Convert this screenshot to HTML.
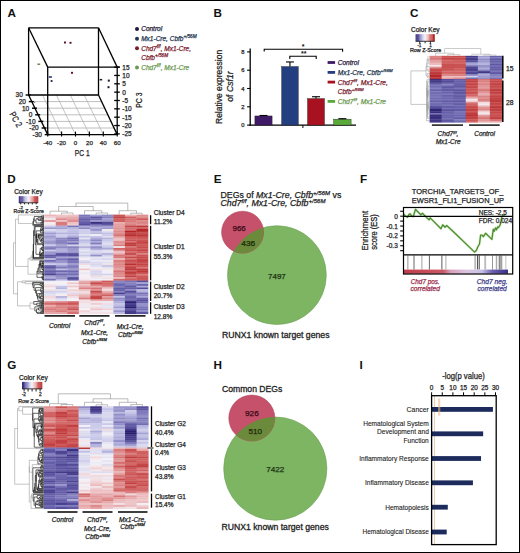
<!DOCTYPE html>
<html><head><meta charset="utf-8"><style>
html,body{margin:0;padding:0;background:#fff;}
svg{display:block;font-family:"Liberation Sans", sans-serif;}
</style></head><body>
<svg width="520" height="553" viewBox="0 0 520 553">
<rect width="520" height="553" fill="#fff"/>
<rect x="0.5" y="0.5" width="519" height="552" fill="none" stroke="#000" stroke-width="1"/>
<text x="7.50" y="17.00" font-size="11.7" text-anchor="start" fill="#111" font-weight="bold" font-style="normal" >A</text>
<text x="213.40" y="17.00" font-size="11.7" text-anchor="start" fill="#111" font-weight="bold" font-style="normal" >B</text>
<text x="409.90" y="17.00" font-size="11.7" text-anchor="start" fill="#111" font-weight="bold" font-style="normal" >C</text>
<text x="7.30" y="182.60" font-size="11.7" text-anchor="start" fill="#111" font-weight="bold" font-style="normal" >D</text>
<text x="213.70" y="182.60" font-size="11.7" text-anchor="start" fill="#111" font-weight="bold" font-style="normal" >E</text>
<text x="359.90" y="182.60" font-size="11.7" text-anchor="start" fill="#111" font-weight="bold" font-style="normal" >F</text>
<text x="7.30" y="369.30" font-size="11.7" text-anchor="start" fill="#111" font-weight="bold" font-style="normal" >G</text>
<text x="213.50" y="369.30" font-size="11.7" text-anchor="start" fill="#111" font-weight="bold" font-style="normal" >H</text>
<text x="359.60" y="369.30" font-size="11.7" text-anchor="start" fill="#111" font-weight="bold" font-style="normal" >I</text>
<line x1="31.78" y1="101.60" x2="101.68" y2="101.60" stroke="#aaa" stroke-width="0.75" />
<line x1="34.97" y1="108.20" x2="104.87" y2="108.20" stroke="#aaa" stroke-width="0.75" />
<line x1="38.15" y1="114.80" x2="108.05" y2="114.80" stroke="#aaa" stroke-width="0.75" />
<line x1="41.33" y1="121.40" x2="111.23" y2="121.40" stroke="#aaa" stroke-width="0.75" />
<line x1="44.52" y1="128.00" x2="114.42" y2="128.00" stroke="#aaa" stroke-width="0.75" />
<line x1="42.50" y1="95.00" x2="61.60" y2="134.60" stroke="#aaa" stroke-width="0.7" />
<line x1="56.40" y1="95.00" x2="75.50" y2="134.60" stroke="#aaa" stroke-width="0.7" />
<line x1="70.30" y1="95.00" x2="89.40" y2="134.60" stroke="#aaa" stroke-width="0.7" />
<line x1="84.20" y1="95.00" x2="103.30" y2="134.60" stroke="#aaa" stroke-width="0.7" />
<line x1="28.60" y1="27.80" x2="98.50" y2="27.80" stroke="#000" stroke-width="1.3" />
<line x1="28.60" y1="27.80" x2="28.60" y2="95.00" stroke="#000" stroke-width="1.3" />
<line x1="98.50" y1="27.80" x2="98.50" y2="95.00" stroke="#000" stroke-width="1.3" />
<line x1="28.60" y1="95.00" x2="98.50" y2="95.00" stroke="#000" stroke-width="1.3" />
<line x1="28.60" y1="27.80" x2="47.70" y2="67.10" stroke="#000" stroke-width="1.3" />
<line x1="98.50" y1="27.80" x2="117.20" y2="67.10" stroke="#000" stroke-width="1.3" />
<line x1="47.70" y1="67.10" x2="119.80" y2="67.10" stroke="#000" stroke-width="1.3" />
<line x1="47.70" y1="67.10" x2="47.70" y2="134.60" stroke="#000" stroke-width="1.3" />
<line x1="117.20" y1="67.10" x2="117.20" y2="134.60" stroke="#000" stroke-width="1.3" />
<line x1="28.60" y1="95.00" x2="47.70" y2="134.60" stroke="#000" stroke-width="1.3" />
<line x1="98.50" y1="95.00" x2="117.20" y2="134.60" stroke="#000" stroke-width="1.3" />
<line x1="47.70" y1="134.60" x2="117.20" y2="134.60" stroke="#000" stroke-width="1.3" />
<line x1="114.20" y1="67.10" x2="119.80" y2="67.10" stroke="#000" stroke-width="1.3" />
<text x="122.30" y="69.50" font-size="6.5" text-anchor="start" fill="#222" font-weight="normal" font-style="normal" stroke="#222" stroke-width="0.25" >15</text>
<line x1="114.20" y1="75.45" x2="119.80" y2="75.45" stroke="#000" stroke-width="1.3" />
<text x="122.30" y="77.85" font-size="6.5" text-anchor="start" fill="#222" font-weight="normal" font-style="normal" stroke="#222" stroke-width="0.25" >10</text>
<line x1="114.20" y1="83.80" x2="119.80" y2="83.80" stroke="#000" stroke-width="1.3" />
<text x="122.30" y="86.20" font-size="6.5" text-anchor="start" fill="#222" font-weight="normal" font-style="normal" stroke="#222" stroke-width="0.25" >5</text>
<line x1="114.20" y1="92.15" x2="119.80" y2="92.15" stroke="#000" stroke-width="1.3" />
<text x="122.30" y="94.55" font-size="6.5" text-anchor="start" fill="#222" font-weight="normal" font-style="normal" stroke="#222" stroke-width="0.25" >0</text>
<line x1="114.20" y1="100.50" x2="119.80" y2="100.50" stroke="#000" stroke-width="1.3" />
<text x="122.30" y="102.90" font-size="6.5" text-anchor="start" fill="#222" font-weight="normal" font-style="normal" stroke="#222" stroke-width="0.25" >-5</text>
<line x1="114.20" y1="108.85" x2="119.80" y2="108.85" stroke="#000" stroke-width="1.3" />
<text x="122.30" y="111.25" font-size="6.5" text-anchor="start" fill="#222" font-weight="normal" font-style="normal" stroke="#222" stroke-width="0.25" >-10</text>
<line x1="114.20" y1="117.20" x2="119.80" y2="117.20" stroke="#000" stroke-width="1.3" />
<text x="122.30" y="119.60" font-size="6.5" text-anchor="start" fill="#222" font-weight="normal" font-style="normal" stroke="#222" stroke-width="0.25" >-15</text>
<line x1="114.20" y1="125.55" x2="119.80" y2="125.55" stroke="#000" stroke-width="1.3" />
<text x="122.30" y="127.95" font-size="6.5" text-anchor="start" fill="#222" font-weight="normal" font-style="normal" stroke="#222" stroke-width="0.25" >-20</text>
<line x1="114.20" y1="133.90" x2="119.80" y2="133.90" stroke="#000" stroke-width="1.3" />
<text x="122.30" y="136.30" font-size="6.5" text-anchor="start" fill="#222" font-weight="normal" font-style="normal" stroke="#222" stroke-width="0.25" >-25</text>
<line x1="25.60" y1="95.00" x2="30.60" y2="95.00" stroke="#000" stroke-width="1.4" />
<text x="22.80" y="97.40" font-size="6.5" text-anchor="end" fill="#222" font-weight="normal" font-style="normal" stroke="#222" stroke-width="0.25" >30</text>
<line x1="28.78" y1="101.60" x2="33.78" y2="101.60" stroke="#000" stroke-width="1.4" />
<text x="25.98" y="104.00" font-size="6.5" text-anchor="end" fill="#222" font-weight="normal" font-style="normal" stroke="#222" stroke-width="0.25" >20</text>
<line x1="31.97" y1="108.20" x2="36.97" y2="108.20" stroke="#000" stroke-width="1.4" />
<text x="29.17" y="110.60" font-size="6.5" text-anchor="end" fill="#222" font-weight="normal" font-style="normal" stroke="#222" stroke-width="0.25" >10</text>
<line x1="35.15" y1="114.80" x2="40.15" y2="114.80" stroke="#000" stroke-width="1.4" />
<text x="32.35" y="117.20" font-size="6.5" text-anchor="end" fill="#222" font-weight="normal" font-style="normal" stroke="#222" stroke-width="0.25" >0</text>
<line x1="38.33" y1="121.40" x2="43.33" y2="121.40" stroke="#000" stroke-width="1.4" />
<text x="35.53" y="123.80" font-size="6.5" text-anchor="end" fill="#222" font-weight="normal" font-style="normal" stroke="#222" stroke-width="0.25" >-10</text>
<line x1="41.52" y1="128.00" x2="46.52" y2="128.00" stroke="#000" stroke-width="1.4" />
<text x="38.72" y="130.40" font-size="6.5" text-anchor="end" fill="#222" font-weight="normal" font-style="normal" stroke="#222" stroke-width="0.25" >-20</text>
<line x1="44.70" y1="134.60" x2="49.70" y2="134.60" stroke="#000" stroke-width="1.4" />
<text x="41.90" y="137.00" font-size="6.5" text-anchor="end" fill="#222" font-weight="normal" font-style="normal" stroke="#222" stroke-width="0.25" >-30</text>
<line x1="47.70" y1="131.60" x2="47.70" y2="136.60" stroke="#000" stroke-width="1.1" />
<text x="47.70" y="145.00" font-size="6.2" text-anchor="middle" fill="#222" font-weight="normal" font-style="normal" stroke="#222" stroke-width="0.25" >-40</text>
<line x1="61.60" y1="131.60" x2="61.60" y2="136.60" stroke="#000" stroke-width="1.1" />
<text x="61.60" y="145.00" font-size="6.2" text-anchor="middle" fill="#222" font-weight="normal" font-style="normal" stroke="#222" stroke-width="0.25" >-20</text>
<line x1="75.50" y1="131.60" x2="75.50" y2="136.60" stroke="#000" stroke-width="1.1" />
<text x="75.50" y="145.00" font-size="6.2" text-anchor="middle" fill="#222" font-weight="normal" font-style="normal" stroke="#222" stroke-width="0.25" >0</text>
<line x1="89.40" y1="131.60" x2="89.40" y2="136.60" stroke="#000" stroke-width="1.1" />
<text x="89.40" y="145.00" font-size="6.2" text-anchor="middle" fill="#222" font-weight="normal" font-style="normal" stroke="#222" stroke-width="0.25" >20</text>
<line x1="103.30" y1="131.60" x2="103.30" y2="136.60" stroke="#000" stroke-width="1.1" />
<text x="103.30" y="145.00" font-size="6.2" text-anchor="middle" fill="#222" font-weight="normal" font-style="normal" stroke="#222" stroke-width="0.25" >40</text>
<line x1="117.20" y1="131.60" x2="117.20" y2="136.60" stroke="#000" stroke-width="1.1" />
<text x="117.20" y="145.00" font-size="6.2" text-anchor="middle" fill="#222" font-weight="normal" font-style="normal" stroke="#222" stroke-width="0.25" >60</text>
<text x="74.80" y="156.30" font-size="8.7" text-anchor="start" fill="#222" font-weight="normal" font-style="normal" textLength="14.80" lengthAdjust="spacingAndGlyphs" stroke="#222" stroke-width="0.25" >PC 1</text>
<text x="0" y="0" transform="translate(13.20,121.00) rotate(60)" font-size="9.0" text-anchor="middle" fill="#222" font-weight="normal" font-style="normal" textLength="16.00" lengthAdjust="spacingAndGlyphs" stroke="#222" stroke-width="0.25" >PC 2</text>
<text x="0" y="0" transform="translate(142.20,100.10) rotate(-90)" font-size="8.7" text-anchor="middle" fill="#222" font-weight="normal" font-style="normal" textLength="15.20" lengthAdjust="spacingAndGlyphs" stroke="#222" stroke-width="0.25" >PC 3</text>
<rect x="64.00" y="41.55" width="2.00" height="1.90" fill="#5a1020" />
<rect x="69.50" y="41.85" width="2.00" height="1.90" fill="#5a1020" />
<rect x="71.00" y="71.85" width="2.00" height="1.90" fill="#6a1020" />
<rect x="37.40" y="63.55" width="2.80" height="1.30" fill="#5a7a30" />
<rect x="48.70" y="76.25" width="3.20" height="1.50" fill="#1a2a5a" />
<rect x="50.70" y="80.10" width="1.80" height="1.80" fill="#1a1a3a" />
<rect x="99.60" y="78.95" width="2.60" height="1.50" fill="#1a1a2a" />
<rect x="107.80" y="79.60" width="2.00" height="2.00" fill="#1a1a2a" />
<rect x="107.50" y="86.20" width="2.00" height="2.00" fill="#1a1a2a" />
<rect x="33.80" y="101.95" width="1.40" height="1.10" fill="#889060" />
<circle cx="137.0" cy="29.0" r="2.0" fill="#1c1a3a"/>
<text x="141.20" y="31.30" font-size="6.5" text-anchor="start" fill="#1c1a3a" font-weight="normal" font-style="italic" stroke="#1c1a3a" stroke-width="0.25" >Control</text>
<circle cx="137.0" cy="38.7" r="2.0" fill="#243650"/>
<text x="141.20" y="41.00" font-size="6.5" text-anchor="start" fill="#243650" font-weight="normal" font-style="italic" stroke="#243650" stroke-width="0.25" >Mx1-Cre, Cbfb<tspan font-size="4.7" dy="-3.0">+/56M</tspan></text>
<circle cx="137.0" cy="48.3" r="2.0" fill="#7a1c30"/>
<text x="141.20" y="50.60" font-size="6.5" text-anchor="start" fill="#7a1c30" font-weight="normal" font-style="italic" stroke="#7a1c30" stroke-width="0.25" >Chd7<tspan font-size="4.7" dy="-3.0">f/f</tspan><tspan dy="3.0">, Mx1-Cre,</tspan></text>
<text x="141.20" y="60.20" font-size="6.5" text-anchor="start" fill="#7a1c30" font-weight="normal" font-style="italic" stroke="#7a1c30" stroke-width="0.25" >Cbfb<tspan font-size="4.7" dy="-3.0">+/56M</tspan></text>
<circle cx="137.0" cy="67.5" r="2.0" fill="#6a9a50"/>
<text x="141.20" y="69.80" font-size="6.5" text-anchor="start" fill="#6a9a50" font-weight="normal" font-style="italic" stroke="#6a9a50" stroke-width="0.25" >Chd7<tspan font-size="4.7" dy="-3.0">f/f</tspan><tspan dy="3.0">, Mx1-Cre</tspan></text>
<line x1="250.20" y1="48.50" x2="250.20" y2="125.70" stroke="#000" stroke-width="1.3" />
<line x1="249.60" y1="125.10" x2="356.00" y2="125.10" stroke="#000" stroke-width="1.3" />
<line x1="247.10" y1="125.10" x2="250.20" y2="125.10" stroke="#000" stroke-width="1.1" />
<text x="244.50" y="127.10" font-size="5.8" text-anchor="end" fill="#222" font-weight="normal" font-style="normal" stroke="#222" stroke-width="0.25" >0</text>
<line x1="247.10" y1="106.80" x2="250.20" y2="106.80" stroke="#000" stroke-width="1.1" />
<text x="244.50" y="108.80" font-size="5.8" text-anchor="end" fill="#222" font-weight="normal" font-style="normal" stroke="#222" stroke-width="0.25" >2</text>
<line x1="247.10" y1="88.50" x2="250.20" y2="88.50" stroke="#000" stroke-width="1.1" />
<text x="244.50" y="90.50" font-size="5.8" text-anchor="end" fill="#222" font-weight="normal" font-style="normal" stroke="#222" stroke-width="0.25" >4</text>
<line x1="247.10" y1="70.20" x2="250.20" y2="70.20" stroke="#000" stroke-width="1.1" />
<text x="244.50" y="72.20" font-size="5.8" text-anchor="end" fill="#222" font-weight="normal" font-style="normal" stroke="#222" stroke-width="0.25" >6</text>
<line x1="247.10" y1="51.90" x2="250.20" y2="51.90" stroke="#000" stroke-width="1.1" />
<text x="244.50" y="53.90" font-size="5.8" text-anchor="end" fill="#222" font-weight="normal" font-style="normal" stroke="#222" stroke-width="0.25" >8</text>
<line x1="302.90" y1="125.10" x2="302.90" y2="128.00" stroke="#000" stroke-width="1" />
<rect x="254.90" y="115.95" width="17.20" height="9.15" fill="#3f1a66" stroke="#222" stroke-width="0.4"/>
<line x1="263.50" y1="115.95" x2="263.50" y2="115.49" stroke="#000" stroke-width="1.1" />
<line x1="259.50" y1="115.49" x2="267.50" y2="115.49" stroke="#000" stroke-width="1.1" />
<rect x="281.60" y="66.54" width="16.70" height="58.56" fill="#233f80" stroke="#222" stroke-width="0.4"/>
<line x1="289.95" y1="66.54" x2="289.95" y2="61.96" stroke="#000" stroke-width="1.1" />
<line x1="285.95" y1="61.96" x2="293.95" y2="61.96" stroke="#000" stroke-width="1.1" />
<rect x="307.50" y="98.56" width="17.00" height="26.53" fill="#a81220" stroke="#222" stroke-width="0.4"/>
<line x1="316.00" y1="98.56" x2="316.00" y2="96.73" stroke="#000" stroke-width="1.1" />
<line x1="312.00" y1="96.73" x2="320.00" y2="96.73" stroke="#000" stroke-width="1.1" />
<rect x="333.60" y="119.15" width="17.50" height="5.95" fill="#5aaa3a" stroke="#222" stroke-width="0.4"/>
<line x1="342.35" y1="119.15" x2="342.35" y2="118.69" stroke="#000" stroke-width="1.1" />
<line x1="338.35" y1="118.69" x2="346.35" y2="118.69" stroke="#000" stroke-width="1.1" />
<polyline points="264.20,51.60 264.20,49.20 342.60,49.20 342.60,51.80" fill="none" stroke="#000" stroke-width="1.1" />
<polyline points="289.80,59.00 289.80,56.30 316.20,56.30 316.20,59.00" fill="none" stroke="#000" stroke-width="1.1" />
<text x="303.00" y="49.00" font-size="7" text-anchor="middle" fill="#111" font-weight="bold" font-style="normal" >*</text>
<text x="303.80" y="56.40" font-size="7" text-anchor="middle" fill="#111" font-weight="bold" font-style="normal" >**</text>
<text x="0" y="0" transform="translate(221.90,86.90) rotate(-90)" font-size="9.3" text-anchor="middle" fill="#222" font-weight="normal" font-style="normal" textLength="74.20" lengthAdjust="spacingAndGlyphs" stroke="#222" stroke-width="0.25" >Relative expression</text>
<text x="0" y="0" transform="translate(233.20,86.50) rotate(-90)" font-size="8.7" text-anchor="middle" fill="#222" font-weight="normal" font-style="normal" stroke="#222" stroke-width="0.25" >of <tspan font-style="italic">Csf1r</tspan></text>
<rect x="327.60" y="61.10" width="7.50" height="2.80" fill="#3f1a66" />
<text x="337.70" y="65.00" font-size="6.6" text-anchor="start" fill="#2a1a40" font-weight="normal" font-style="italic" stroke="#2a1a40" stroke-width="0.25" >Control</text>
<rect x="327.60" y="71.00" width="7.50" height="2.80" fill="#233f80" />
<text x="337.70" y="74.90" font-size="6.6" text-anchor="start" fill="#243650" font-weight="normal" font-style="italic" stroke="#243650" stroke-width="0.25" >Mx1-Cre, Cbfb<tspan font-size="4.3" dy="-2.8">+/56M</tspan></text>
<rect x="327.60" y="80.70" width="7.50" height="2.80" fill="#a81220" />
<text x="337.70" y="84.60" font-size="6.6" text-anchor="start" fill="#7a1c30" font-weight="normal" font-style="italic" stroke="#7a1c30" stroke-width="0.25" >Chd7<tspan font-size="4.3" dy="-2.8">f/f</tspan><tspan dy="2.8">, Mx1-Cre,</tspan></text>
<text x="337.70" y="94.20" font-size="6.6" text-anchor="start" fill="#7a1c30" font-weight="normal" font-style="italic" stroke="#7a1c30" stroke-width="0.25" >Cbfb<tspan font-size="4.3" dy="-2.8">+/56M</tspan></text>
<rect x="327.60" y="100.00" width="7.50" height="2.80" fill="#5aaa3a" />
<text x="337.70" y="103.90" font-size="6.6" text-anchor="start" fill="#6a9a50" font-weight="normal" font-style="italic" stroke="#6a9a50" stroke-width="0.25" >Chd7<tspan font-size="4.3" dy="-2.8">f/f</tspan><tspan dy="2.8">, Mx1-Cre</tspan></text>
<rect x="415.60" y="34.20" width="0.99" height="7.10" fill="#281c6e" />
<rect x="416.39" y="34.20" width="0.99" height="7.10" fill="#362c7c" />
<rect x="417.18" y="34.20" width="0.99" height="7.10" fill="#463d8b" />
<rect x="417.98" y="34.20" width="0.99" height="7.10" fill="#564f9b" />
<rect x="418.77" y="34.20" width="0.99" height="7.10" fill="#6660aa" />
<rect x="419.56" y="34.20" width="0.99" height="7.10" fill="#7d78b9" />
<rect x="420.35" y="34.20" width="0.99" height="7.10" fill="#9491c8" />
<rect x="421.14" y="34.20" width="0.99" height="7.10" fill="#aba9d7" />
<rect x="421.93" y="34.20" width="0.99" height="7.10" fill="#c2c2e6" />
<rect x="422.73" y="34.20" width="0.99" height="7.10" fill="#d1d0ec" />
<rect x="423.52" y="34.20" width="0.99" height="7.10" fill="#dfdef1" />
<rect x="424.31" y="34.20" width="0.99" height="7.10" fill="#edecf5" />
<rect x="425.10" y="34.20" width="0.99" height="7.10" fill="#f3eaef" />
<rect x="425.89" y="34.20" width="0.99" height="7.10" fill="#f1dadd" />
<rect x="426.68" y="34.20" width="0.99" height="7.10" fill="#eec9cc" />
<rect x="427.48" y="34.20" width="0.99" height="7.10" fill="#ebb8ba" />
<rect x="428.27" y="34.20" width="0.99" height="7.10" fill="#e4a0a1" />
<rect x="429.06" y="34.20" width="0.99" height="7.10" fill="#dc8889" />
<rect x="429.85" y="34.20" width="0.99" height="7.10" fill="#d57070" />
<rect x="430.64" y="34.20" width="0.99" height="7.10" fill="#ce5858" />
<rect x="431.43" y="34.20" width="0.99" height="7.10" fill="#c6494a" />
<rect x="432.23" y="34.20" width="0.99" height="7.10" fill="#be3a3b" />
<rect x="433.02" y="34.20" width="0.99" height="7.10" fill="#b72b2d" />
<rect x="433.81" y="34.20" width="0.99" height="7.10" fill="#b01e20" />
<line x1="415.60" y1="41.30" x2="434.60" y2="41.30" stroke="#111" stroke-width="0.8" />
<line x1="419.78" y1="41.30" x2="419.78" y2="43.30" stroke="#111" stroke-width="0.9" />
<line x1="425.10" y1="41.30" x2="425.10" y2="43.30" stroke="#111" stroke-width="0.9" />
<line x1="430.42" y1="41.30" x2="430.42" y2="43.30" stroke="#111" stroke-width="0.9" />
<text x="411.00" y="31.50" font-size="6.3" text-anchor="start" fill="#222" font-weight="normal" font-style="normal" textLength="28.60" lengthAdjust="spacingAndGlyphs" stroke="#222" stroke-width="0.25" >Color Key</text>
<text x="410.00" y="52.20" font-size="5.4" text-anchor="start" fill="#222" font-weight="normal" font-style="normal" textLength="31.30" lengthAdjust="spacingAndGlyphs" stroke="#222" stroke-width="0.25" >Row Z-Score</text>
<text x="419.40" y="46.60" font-size="4.6" text-anchor="middle" fill="#222" font-weight="normal" font-style="normal" stroke="#222" stroke-width="0.25" >-1</text>
<text x="430.50" y="46.60" font-size="4.6" text-anchor="middle" fill="#222" font-weight="normal" font-style="normal" stroke="#222" stroke-width="0.25" >1</text>
<rect x="429.60" y="55.80" width="12.35" height="1.85" fill="#db8384" />
<rect x="441.65" y="55.80" width="12.35" height="1.85" fill="#cc5454" />
<rect x="453.70" y="55.80" width="12.35" height="1.85" fill="#c74b4b" />
<rect x="465.75" y="55.80" width="12.35" height="1.85" fill="#433a88" />
<rect x="477.80" y="55.80" width="12.35" height="1.85" fill="#9c9ace" />
<rect x="489.85" y="55.80" width="12.35" height="1.85" fill="#6862ac" />
<rect x="429.60" y="57.35" width="12.35" height="1.85" fill="#d77575" />
<rect x="441.65" y="57.35" width="12.35" height="1.85" fill="#c34344" />
<rect x="453.70" y="57.35" width="12.35" height="1.85" fill="#c74c4c" />
<rect x="465.75" y="57.35" width="12.35" height="1.85" fill="#4c4491" />
<rect x="477.80" y="57.35" width="12.35" height="1.85" fill="#a9a8d6" />
<rect x="489.85" y="57.35" width="12.35" height="1.85" fill="#7570b4" />
<rect x="429.60" y="58.89" width="12.35" height="1.85" fill="#db8384" />
<rect x="441.65" y="58.89" width="12.35" height="1.85" fill="#cc5455" />
<rect x="453.70" y="58.89" width="12.35" height="1.85" fill="#c94e4e" />
<rect x="465.75" y="58.89" width="12.35" height="1.85" fill="#433a88" />
<rect x="477.80" y="58.89" width="12.35" height="1.85" fill="#8f8cc5" />
<rect x="489.85" y="58.89" width="12.35" height="1.85" fill="#5e58a3" />
<rect x="429.60" y="60.44" width="12.35" height="1.85" fill="#e39ea0" />
<rect x="441.65" y="60.44" width="12.35" height="1.85" fill="#d16363" />
<rect x="453.70" y="60.44" width="12.35" height="1.85" fill="#cf5b5b" />
<rect x="465.75" y="60.44" width="12.35" height="1.85" fill="#554e9a" />
<rect x="477.80" y="60.44" width="12.35" height="1.85" fill="#9c9ace" />
<rect x="489.85" y="60.44" width="12.35" height="1.85" fill="#6862ac" />
<rect x="429.60" y="61.99" width="12.35" height="1.85" fill="#e7acae" />
<rect x="441.65" y="61.99" width="12.35" height="1.85" fill="#d16161" />
<rect x="453.70" y="61.99" width="12.35" height="1.85" fill="#d26565" />
<rect x="465.75" y="61.99" width="12.35" height="1.85" fill="#8f8cc5" />
<rect x="477.80" y="61.99" width="12.35" height="1.85" fill="#a9a8d6" />
<rect x="489.85" y="61.99" width="12.35" height="1.85" fill="#7570b4" />
<rect x="429.60" y="63.53" width="12.35" height="1.85" fill="#ecbabc" />
<rect x="441.65" y="63.53" width="12.35" height="1.85" fill="#ca5151" />
<rect x="453.70" y="63.53" width="12.35" height="1.85" fill="#ca5151" />
<rect x="465.75" y="63.53" width="12.35" height="1.85" fill="#a9a8d6" />
<rect x="477.80" y="63.53" width="12.35" height="1.85" fill="#b6b6df" />
<rect x="489.85" y="63.53" width="12.35" height="1.85" fill="#5e58a3" />
<rect x="429.60" y="65.08" width="12.35" height="1.85" fill="#f3e9ee" />
<rect x="441.65" y="65.08" width="12.35" height="1.85" fill="#c6494a" />
<rect x="453.70" y="65.08" width="12.35" height="1.85" fill="#c74a4b" />
<rect x="465.75" y="65.08" width="12.35" height="1.85" fill="#827dbd" />
<rect x="477.80" y="65.08" width="12.35" height="1.85" fill="#8f8cc5" />
<rect x="489.85" y="65.08" width="12.35" height="1.85" fill="#6f6ab1" />
<rect x="429.60" y="66.63" width="12.35" height="1.85" fill="#df9092" />
<rect x="441.65" y="66.63" width="12.35" height="1.85" fill="#c94e4e" />
<rect x="453.70" y="66.63" width="12.35" height="1.85" fill="#c94f50" />
<rect x="465.75" y="66.63" width="12.35" height="1.85" fill="#4c4491" />
<rect x="477.80" y="66.63" width="12.35" height="1.85" fill="#9c9ace" />
<rect x="489.85" y="66.63" width="12.35" height="1.85" fill="#6660aa" />
<rect x="429.60" y="68.18" width="12.35" height="1.85" fill="#ca5151" />
<rect x="441.65" y="68.18" width="12.35" height="1.85" fill="#c74b4b" />
<rect x="453.70" y="68.18" width="12.35" height="1.85" fill="#cf5a5a" />
<rect x="465.75" y="68.18" width="12.35" height="1.85" fill="#433a88" />
<rect x="477.80" y="68.18" width="12.35" height="1.85" fill="#a9a8d6" />
<rect x="489.85" y="68.18" width="12.35" height="1.85" fill="#5e58a3" />
<rect x="429.60" y="69.72" width="12.35" height="1.85" fill="#c64849" />
<rect x="441.65" y="69.72" width="12.35" height="1.85" fill="#d06060" />
<rect x="453.70" y="69.72" width="12.35" height="1.85" fill="#d26666" />
<rect x="465.75" y="69.72" width="12.35" height="1.85" fill="#4c4491" />
<rect x="477.80" y="69.72" width="12.35" height="1.85" fill="#827dbd" />
<rect x="489.85" y="69.72" width="12.35" height="1.85" fill="#7570b4" />
<rect x="429.60" y="71.27" width="12.35" height="1.85" fill="#c14041" />
<rect x="441.65" y="71.27" width="12.35" height="1.85" fill="#d16161" />
<rect x="453.70" y="71.27" width="12.35" height="1.85" fill="#d16060" />
<rect x="465.75" y="71.27" width="12.35" height="1.85" fill="#554e9a" />
<rect x="477.80" y="71.27" width="12.35" height="1.85" fill="#312676" />
<rect x="489.85" y="71.27" width="12.35" height="1.85" fill="#6862ac" />
<rect x="429.60" y="72.82" width="12.35" height="1.85" fill="#bd3738" />
<rect x="441.65" y="72.82" width="12.35" height="1.85" fill="#d46a6a" />
<rect x="453.70" y="72.82" width="12.35" height="1.85" fill="#d36868" />
<rect x="465.75" y="72.82" width="12.35" height="1.85" fill="#4c4491" />
<rect x="477.80" y="72.82" width="12.35" height="1.85" fill="#8f8cc5" />
<rect x="489.85" y="72.82" width="12.35" height="1.85" fill="#5e58a3" />
<rect x="429.60" y="74.36" width="12.35" height="1.85" fill="#b42628" />
<rect x="441.65" y="74.36" width="12.35" height="1.85" fill="#da8081" />
<rect x="453.70" y="74.36" width="12.35" height="1.85" fill="#d97b7c" />
<rect x="465.75" y="74.36" width="12.35" height="1.85" fill="#8f8cc5" />
<rect x="477.80" y="74.36" width="12.35" height="1.85" fill="#a9a8d6" />
<rect x="489.85" y="74.36" width="12.35" height="1.85" fill="#827dbd" />
<rect x="429.60" y="75.91" width="12.35" height="1.85" fill="#b72b2d" />
<rect x="441.65" y="75.91" width="12.35" height="1.85" fill="#ecbdbf" />
<rect x="453.70" y="75.91" width="12.35" height="1.85" fill="#edc1c4" />
<rect x="465.75" y="75.91" width="12.35" height="1.85" fill="#d4d3ed" />
<rect x="477.80" y="75.91" width="12.35" height="1.85" fill="#9c9ace" />
<rect x="489.85" y="75.91" width="12.35" height="1.85" fill="#8f8cc5" />
<rect x="429.60" y="77.46" width="12.35" height="1.85" fill="#ba3233" />
<rect x="441.65" y="77.46" width="12.35" height="1.85" fill="#e49fa1" />
<rect x="453.70" y="77.46" width="12.35" height="1.85" fill="#dd898a" />
<rect x="465.75" y="77.46" width="12.35" height="1.85" fill="#7570b4" />
<rect x="477.80" y="77.46" width="12.35" height="1.85" fill="#8f8cc5" />
<rect x="489.85" y="77.46" width="12.35" height="1.85" fill="#7570b4" />
<rect x="429.60" y="79.00" width="12.35" height="1.85" fill="#3a307f" />
<rect x="441.65" y="79.00" width="12.35" height="1.85" fill="#554d9a" />
<rect x="453.70" y="79.00" width="12.35" height="1.85" fill="#645ea8" />
<rect x="465.75" y="79.00" width="12.35" height="1.85" fill="#c64849" />
<rect x="477.80" y="79.00" width="12.35" height="1.85" fill="#d77575" />
<rect x="489.85" y="79.00" width="12.35" height="1.85" fill="#ca5151" />
<rect x="429.60" y="80.55" width="12.35" height="1.85" fill="#433a88" />
<rect x="441.65" y="80.55" width="12.35" height="1.85" fill="#554d99" />
<rect x="453.70" y="80.55" width="12.35" height="1.85" fill="#6660aa" />
<rect x="465.75" y="80.55" width="12.35" height="1.85" fill="#c14041" />
<rect x="477.80" y="80.55" width="12.35" height="1.85" fill="#db8384" />
<rect x="489.85" y="80.55" width="12.35" height="1.85" fill="#c64849" />
<rect x="429.60" y="82.10" width="12.35" height="1.85" fill="#4c4491" />
<rect x="441.65" y="82.10" width="12.35" height="1.85" fill="#5b549f" />
<rect x="453.70" y="82.10" width="12.35" height="1.85" fill="#6862ac" />
<rect x="465.75" y="82.10" width="12.35" height="1.85" fill="#ca5151" />
<rect x="477.80" y="82.10" width="12.35" height="1.85" fill="#df9092" />
<rect x="489.85" y="82.10" width="12.35" height="1.85" fill="#c84e4e" />
<rect x="429.60" y="83.65" width="12.35" height="1.85" fill="#7570b4" />
<rect x="441.65" y="83.65" width="12.35" height="1.85" fill="#8b87c3" />
<rect x="453.70" y="83.65" width="12.35" height="1.85" fill="#655fa9" />
<rect x="465.75" y="83.65" width="12.35" height="1.85" fill="#c34344" />
<rect x="477.80" y="83.65" width="12.35" height="1.85" fill="#db8384" />
<rect x="489.85" y="83.65" width="12.35" height="1.85" fill="#c14041" />
<rect x="429.60" y="85.19" width="12.35" height="1.85" fill="#6f6ab1" />
<rect x="441.65" y="85.19" width="12.35" height="1.85" fill="#6b65ae" />
<rect x="453.70" y="85.19" width="12.35" height="1.85" fill="#5a529e" />
<rect x="465.75" y="85.19" width="12.35" height="1.85" fill="#c84e4e" />
<rect x="477.80" y="85.19" width="12.35" height="1.85" fill="#df9092" />
<rect x="489.85" y="85.19" width="12.35" height="1.85" fill="#c64849" />
<rect x="429.60" y="86.74" width="12.35" height="1.85" fill="#7a75b8" />
<rect x="441.65" y="86.74" width="12.35" height="1.85" fill="#5f59a4" />
<rect x="453.70" y="86.74" width="12.35" height="1.85" fill="#6e68af" />
<rect x="465.75" y="86.74" width="12.35" height="1.85" fill="#c64849" />
<rect x="477.80" y="86.74" width="12.35" height="1.85" fill="#e39ea0" />
<rect x="489.85" y="86.74" width="12.35" height="1.85" fill="#ca5151" />
<rect x="429.60" y="88.29" width="12.35" height="1.85" fill="#7570b4" />
<rect x="441.65" y="88.29" width="12.35" height="1.85" fill="#615ba5" />
<rect x="453.70" y="88.29" width="12.35" height="1.85" fill="#6a64ad" />
<rect x="465.75" y="88.29" width="12.35" height="1.85" fill="#ca5151" />
<rect x="477.80" y="88.29" width="12.35" height="1.85" fill="#db8384" />
<rect x="489.85" y="88.29" width="12.35" height="1.85" fill="#c34344" />
<rect x="429.60" y="89.83" width="12.35" height="1.85" fill="#6862ac" />
<rect x="441.65" y="89.83" width="12.35" height="1.85" fill="#635da7" />
<rect x="453.70" y="89.83" width="12.35" height="1.85" fill="#5c55a1" />
<rect x="465.75" y="89.83" width="12.35" height="1.85" fill="#cf5a5a" />
<rect x="477.80" y="89.83" width="12.35" height="1.85" fill="#d77575" />
<rect x="489.85" y="89.83" width="12.35" height="1.85" fill="#bf3c3d" />
<rect x="429.60" y="91.38" width="12.35" height="1.85" fill="#7570b4" />
<rect x="441.65" y="91.38" width="12.35" height="1.85" fill="#6761ab" />
<rect x="453.70" y="91.38" width="12.35" height="1.85" fill="#5e57a3" />
<rect x="465.75" y="91.38" width="12.35" height="1.85" fill="#c84e4e" />
<rect x="477.80" y="91.38" width="12.35" height="1.85" fill="#df9092" />
<rect x="489.85" y="91.38" width="12.35" height="1.85" fill="#c14041" />
<rect x="429.60" y="92.93" width="12.35" height="1.85" fill="#6f6ab1" />
<rect x="441.65" y="92.93" width="12.35" height="1.85" fill="#7873b6" />
<rect x="453.70" y="92.93" width="12.35" height="1.85" fill="#615aa5" />
<rect x="465.75" y="92.93" width="12.35" height="1.85" fill="#cc5455" />
<rect x="477.80" y="92.93" width="12.35" height="1.85" fill="#e7acae" />
<rect x="489.85" y="92.93" width="12.35" height="1.85" fill="#c64849" />
<rect x="429.60" y="94.47" width="12.35" height="1.85" fill="#7570b4" />
<rect x="441.65" y="94.47" width="12.35" height="1.85" fill="#6963ac" />
<rect x="453.70" y="94.47" width="12.35" height="1.85" fill="#6660aa" />
<rect x="465.75" y="94.47" width="12.35" height="1.85" fill="#d36768" />
<rect x="477.80" y="94.47" width="12.35" height="1.85" fill="#e39ea0" />
<rect x="489.85" y="94.47" width="12.35" height="1.85" fill="#ca5151" />
<rect x="429.60" y="96.02" width="12.35" height="1.85" fill="#7a75b8" />
<rect x="441.65" y="96.02" width="12.35" height="1.85" fill="#6c66af" />
<rect x="453.70" y="96.02" width="12.35" height="1.85" fill="#6059a4" />
<rect x="465.75" y="96.02" width="12.35" height="1.85" fill="#db8384" />
<rect x="477.80" y="96.02" width="12.35" height="1.85" fill="#db8384" />
<rect x="489.85" y="96.02" width="12.35" height="1.85" fill="#c34344" />
<rect x="429.60" y="97.57" width="12.35" height="1.85" fill="#6f6ab1" />
<rect x="441.65" y="97.57" width="12.35" height="1.85" fill="#6d67af" />
<rect x="453.70" y="97.57" width="12.35" height="1.85" fill="#655ea9" />
<rect x="465.75" y="97.57" width="12.35" height="1.85" fill="#ecbabc" />
<rect x="477.80" y="97.57" width="12.35" height="1.85" fill="#df9092" />
<rect x="489.85" y="97.57" width="12.35" height="1.85" fill="#c14041" />
<rect x="429.60" y="99.12" width="12.35" height="1.85" fill="#7570b4" />
<rect x="441.65" y="99.12" width="12.35" height="1.85" fill="#706bb1" />
<rect x="453.70" y="99.12" width="12.35" height="1.85" fill="#6d67af" />
<rect x="465.75" y="99.12" width="12.35" height="1.85" fill="#f3e9ee" />
<rect x="477.80" y="99.12" width="12.35" height="1.85" fill="#d77575" />
<rect x="489.85" y="99.12" width="12.35" height="1.85" fill="#bd3738" />
<rect x="429.60" y="100.66" width="12.35" height="1.85" fill="#6862ac" />
<rect x="441.65" y="100.66" width="12.35" height="1.85" fill="#635da7" />
<rect x="453.70" y="100.66" width="12.35" height="1.85" fill="#5f58a3" />
<rect x="465.75" y="100.66" width="12.35" height="1.85" fill="#efcdd0" />
<rect x="477.80" y="100.66" width="12.35" height="1.85" fill="#e39ea0" />
<rect x="489.85" y="100.66" width="12.35" height="1.85" fill="#bf3c3d" />
<rect x="429.60" y="102.21" width="12.35" height="1.85" fill="#7570b4" />
<rect x="441.65" y="102.21" width="12.35" height="1.85" fill="#6a64ad" />
<rect x="453.70" y="102.21" width="12.35" height="1.85" fill="#6b65ae" />
<rect x="465.75" y="102.21" width="12.35" height="1.85" fill="#d77575" />
<rect x="477.80" y="102.21" width="12.35" height="1.85" fill="#f2e0e4" />
<rect x="489.85" y="102.21" width="12.35" height="1.85" fill="#c34344" />
<rect x="429.60" y="103.76" width="12.35" height="1.85" fill="#6f6ab1" />
<rect x="441.65" y="103.76" width="12.35" height="1.85" fill="#7570b4" />
<rect x="453.70" y="103.76" width="12.35" height="1.85" fill="#625ca6" />
<rect x="465.75" y="103.76" width="12.35" height="1.85" fill="#d16262" />
<rect x="477.80" y="103.76" width="12.35" height="1.85" fill="#f3e9ee" />
<rect x="489.85" y="103.76" width="12.35" height="1.85" fill="#c64849" />
<rect x="429.60" y="105.30" width="12.35" height="1.85" fill="#5e58a3" />
<rect x="441.65" y="105.30" width="12.35" height="1.85" fill="#6761ab" />
<rect x="453.70" y="105.30" width="12.35" height="1.85" fill="#6c66ae" />
<rect x="465.75" y="105.30" width="12.35" height="1.85" fill="#ca5151" />
<rect x="477.80" y="105.30" width="12.35" height="1.85" fill="#ecbabc" />
<rect x="489.85" y="105.30" width="12.35" height="1.85" fill="#c14041" />
<rect x="429.60" y="106.85" width="12.35" height="1.85" fill="#554e9a" />
<rect x="441.65" y="106.85" width="12.35" height="1.85" fill="#655ea9" />
<rect x="453.70" y="106.85" width="12.35" height="1.85" fill="#6862ac" />
<rect x="465.75" y="106.85" width="12.35" height="1.85" fill="#c64849" />
<rect x="477.80" y="106.85" width="12.35" height="1.85" fill="#df9092" />
<rect x="489.85" y="106.85" width="12.35" height="1.85" fill="#bd3738" />
<rect x="429.60" y="108.40" width="12.35" height="1.85" fill="#312676" />
<rect x="441.65" y="108.40" width="12.35" height="1.85" fill="#645da8" />
<rect x="453.70" y="108.40" width="12.35" height="1.85" fill="#605aa4" />
<rect x="465.75" y="108.40" width="12.35" height="1.85" fill="#c14041" />
<rect x="477.80" y="108.40" width="12.35" height="1.85" fill="#db8384" />
<rect x="489.85" y="108.40" width="12.35" height="1.85" fill="#bf3c3d" />
<rect x="429.60" y="109.94" width="12.35" height="1.85" fill="#312676" />
<rect x="441.65" y="109.94" width="12.35" height="1.85" fill="#59519d" />
<rect x="453.70" y="109.94" width="12.35" height="1.85" fill="#625ca6" />
<rect x="465.75" y="109.94" width="12.35" height="1.85" fill="#c34344" />
<rect x="477.80" y="109.94" width="12.35" height="1.85" fill="#e7acae" />
<rect x="489.85" y="109.94" width="12.35" height="1.85" fill="#c34344" />
<rect x="429.60" y="111.49" width="12.35" height="1.85" fill="#3a307f" />
<rect x="441.65" y="111.49" width="12.35" height="1.85" fill="#6761ab" />
<rect x="453.70" y="111.49" width="12.35" height="1.85" fill="#7974b7" />
<rect x="465.75" y="111.49" width="12.35" height="1.85" fill="#c84e4e" />
<rect x="477.80" y="111.49" width="12.35" height="1.85" fill="#f2e0e4" />
<rect x="489.85" y="111.49" width="12.35" height="1.85" fill="#c64849" />
<rect x="429.60" y="113.04" width="12.35" height="1.85" fill="#7570b4" />
<rect x="441.65" y="113.04" width="12.35" height="1.85" fill="#6c67af" />
<rect x="453.70" y="113.04" width="12.35" height="1.85" fill="#736db3" />
<rect x="465.75" y="113.04" width="12.35" height="1.85" fill="#bd3738" />
<rect x="477.80" y="113.04" width="12.35" height="1.85" fill="#f3e9ee" />
<rect x="489.85" y="113.04" width="12.35" height="1.85" fill="#ca5151" />
<rect x="429.60" y="114.59" width="12.35" height="1.85" fill="#362b7c" />
<rect x="441.65" y="114.59" width="12.35" height="1.85" fill="#6a64ad" />
<rect x="453.70" y="114.59" width="12.35" height="1.85" fill="#6e68b0" />
<rect x="465.75" y="114.59" width="12.35" height="1.85" fill="#ba3233" />
<rect x="477.80" y="114.59" width="12.35" height="1.85" fill="#e39ea0" />
<rect x="489.85" y="114.59" width="12.35" height="1.85" fill="#c84e4e" />
<rect x="429.60" y="116.13" width="12.35" height="1.85" fill="#312676" />
<rect x="441.65" y="116.13" width="12.35" height="1.85" fill="#645da8" />
<rect x="453.70" y="116.13" width="12.35" height="1.85" fill="#6f6ab0" />
<rect x="465.75" y="116.13" width="12.35" height="1.85" fill="#bf3c3d" />
<rect x="477.80" y="116.13" width="12.35" height="1.85" fill="#db8384" />
<rect x="489.85" y="116.13" width="12.35" height="1.85" fill="#c64849" />
<rect x="429.60" y="117.68" width="12.35" height="1.85" fill="#3a307f" />
<rect x="441.65" y="117.68" width="12.35" height="1.85" fill="#7772b6" />
<rect x="453.70" y="117.68" width="12.35" height="1.85" fill="#635ca7" />
<rect x="465.75" y="117.68" width="12.35" height="1.85" fill="#c34344" />
<rect x="477.80" y="117.68" width="12.35" height="1.85" fill="#d77575" />
<rect x="489.85" y="117.68" width="12.35" height="1.85" fill="#c14041" />
<rect x="429.60" y="119.23" width="12.35" height="1.85" fill="#3d3483" />
<rect x="441.65" y="119.23" width="12.35" height="1.85" fill="#5c55a0" />
<rect x="453.70" y="119.23" width="12.35" height="1.85" fill="#7f7abb" />
<rect x="465.75" y="119.23" width="12.35" height="1.85" fill="#ca5151" />
<rect x="477.80" y="119.23" width="12.35" height="1.85" fill="#df9092" />
<rect x="489.85" y="119.23" width="12.35" height="1.85" fill="#d36768" />
<rect x="429.60" y="120.77" width="12.35" height="1.85" fill="#433a88" />
<rect x="441.65" y="120.77" width="12.35" height="1.85" fill="#645ea8" />
<rect x="453.70" y="120.77" width="12.35" height="1.85" fill="#726cb2" />
<rect x="465.75" y="120.77" width="12.35" height="1.85" fill="#d36768" />
<rect x="477.80" y="120.77" width="12.35" height="1.85" fill="#e7acae" />
<rect x="489.85" y="120.77" width="12.35" height="1.85" fill="#e7acae" />
<line x1="502.80" y1="55.80" x2="502.80" y2="78.50" stroke="#000" stroke-width="1.5" />
<line x1="502.80" y1="80.40" x2="502.80" y2="122.00" stroke="#000" stroke-width="1.5" />
<text x="506.10" y="71.10" font-size="6.8" text-anchor="start" fill="#222" font-weight="normal" font-style="normal" stroke="#222" stroke-width="0.25" >15</text>
<text x="506.10" y="105.10" font-size="6.8" text-anchor="start" fill="#222" font-weight="normal" font-style="normal" stroke="#222" stroke-width="0.25" >28</text>
<line x1="431.90" y1="125.10" x2="463.00" y2="125.10" stroke="#000" stroke-width="1.4" />
<line x1="469.10" y1="125.10" x2="499.70" y2="125.10" stroke="#000" stroke-width="1.4" />
<text x="447.90" y="136.10" font-size="6.6" text-anchor="middle" fill="#222" font-weight="normal" font-style="italic" stroke="#222" stroke-width="0.25" >Chd7<tspan font-size="3.8" dy="-2.6">f/f</tspan><tspan dy="2.6">,</tspan></text>
<text x="448.10" y="143.50" font-size="6.6" text-anchor="middle" fill="#222" font-weight="normal" font-style="italic" textLength="24.80" lengthAdjust="spacingAndGlyphs" stroke="#222" stroke-width="0.25" >Mx1-Cre</text>
<text x="484.60" y="136.10" font-size="6.6" text-anchor="middle" fill="#222" font-weight="normal" font-style="italic" textLength="20.70" lengthAdjust="spacingAndGlyphs" stroke="#222" stroke-width="0.25" >Control</text>
<line x1="447.68" y1="55.80" x2="447.68" y2="54.60" stroke="#999" stroke-width="0.5" />
<line x1="459.73" y1="55.80" x2="459.73" y2="54.60" stroke="#999" stroke-width="0.5" />
<line x1="447.68" y1="54.60" x2="459.73" y2="54.60" stroke="#999" stroke-width="0.5" />
<line x1="435.62" y1="55.80" x2="435.62" y2="53.20" stroke="#999" stroke-width="0.5" />
<line x1="453.70" y1="54.60" x2="453.70" y2="53.20" stroke="#999" stroke-width="0.5" />
<line x1="435.62" y1="53.20" x2="453.70" y2="53.20" stroke="#999" stroke-width="0.5" />
<line x1="483.83" y1="55.80" x2="483.83" y2="55.00" stroke="#999" stroke-width="0.5" />
<line x1="495.88" y1="55.80" x2="495.88" y2="55.00" stroke="#999" stroke-width="0.5" />
<line x1="483.83" y1="55.00" x2="495.88" y2="55.00" stroke="#999" stroke-width="0.5" />
<line x1="471.78" y1="55.80" x2="471.78" y2="54.20" stroke="#999" stroke-width="0.5" />
<line x1="489.85" y1="55.00" x2="489.85" y2="54.20" stroke="#999" stroke-width="0.5" />
<line x1="471.78" y1="54.20" x2="489.85" y2="54.20" stroke="#999" stroke-width="0.5" />
<line x1="444.66" y1="53.20" x2="444.66" y2="48.50" stroke="#999" stroke-width="0.5" />
<line x1="480.81" y1="54.20" x2="480.81" y2="48.50" stroke="#999" stroke-width="0.5" />
<line x1="444.66" y1="48.50" x2="480.81" y2="48.50" stroke="#999" stroke-width="0.5" />
<line x1="428.97" y1="59.67" x2="428.97" y2="61.21" stroke="#aaa" stroke-width="0.45" />
<line x1="428.97" y1="59.67" x2="429.40" y2="59.67" stroke="#aaa" stroke-width="0.45" />
<line x1="428.97" y1="61.21" x2="429.40" y2="61.21" stroke="#aaa" stroke-width="0.45" />
<line x1="428.73" y1="58.12" x2="428.73" y2="60.44" stroke="#aaa" stroke-width="0.45" />
<line x1="428.73" y1="58.12" x2="429.40" y2="58.12" stroke="#aaa" stroke-width="0.45" />
<line x1="428.73" y1="60.44" x2="428.97" y2="60.44" stroke="#aaa" stroke-width="0.45" />
<line x1="428.95" y1="62.76" x2="428.95" y2="64.31" stroke="#aaa" stroke-width="0.45" />
<line x1="428.95" y1="62.76" x2="429.40" y2="62.76" stroke="#aaa" stroke-width="0.45" />
<line x1="428.95" y1="64.31" x2="429.40" y2="64.31" stroke="#aaa" stroke-width="0.45" />
<line x1="428.43" y1="59.28" x2="428.43" y2="63.53" stroke="#aaa" stroke-width="0.45" />
<line x1="428.43" y1="59.28" x2="428.73" y2="59.28" stroke="#aaa" stroke-width="0.45" />
<line x1="428.43" y1="63.53" x2="428.95" y2="63.53" stroke="#aaa" stroke-width="0.45" />
<line x1="427.66" y1="56.57" x2="427.66" y2="61.41" stroke="#aaa" stroke-width="0.45" />
<line x1="427.66" y1="56.57" x2="429.40" y2="56.57" stroke="#aaa" stroke-width="0.45" />
<line x1="427.66" y1="61.41" x2="428.43" y2="61.41" stroke="#aaa" stroke-width="0.45" />
<line x1="429.13" y1="65.86" x2="429.13" y2="67.40" stroke="#aaa" stroke-width="0.45" />
<line x1="429.13" y1="65.86" x2="429.40" y2="65.86" stroke="#aaa" stroke-width="0.45" />
<line x1="429.13" y1="67.40" x2="429.40" y2="67.40" stroke="#aaa" stroke-width="0.45" />
<line x1="427.07" y1="58.99" x2="427.07" y2="66.63" stroke="#999" stroke-width="0.55" />
<line x1="427.07" y1="58.99" x2="427.66" y2="58.99" stroke="#999" stroke-width="0.55" />
<line x1="427.07" y1="66.63" x2="429.13" y2="66.63" stroke="#999" stroke-width="0.55" />
<line x1="428.70" y1="70.50" x2="428.70" y2="72.04" stroke="#aaa" stroke-width="0.45" />
<line x1="428.70" y1="70.50" x2="429.40" y2="70.50" stroke="#aaa" stroke-width="0.45" />
<line x1="428.70" y1="72.04" x2="429.40" y2="72.04" stroke="#aaa" stroke-width="0.45" />
<line x1="427.87" y1="68.95" x2="427.87" y2="71.27" stroke="#aaa" stroke-width="0.45" />
<line x1="427.87" y1="68.95" x2="429.40" y2="68.95" stroke="#aaa" stroke-width="0.45" />
<line x1="427.87" y1="71.27" x2="428.70" y2="71.27" stroke="#aaa" stroke-width="0.45" />
<line x1="426.78" y1="62.81" x2="426.78" y2="70.11" stroke="#999" stroke-width="0.55" />
<line x1="426.78" y1="62.81" x2="427.07" y2="62.81" stroke="#999" stroke-width="0.55" />
<line x1="426.78" y1="70.11" x2="427.87" y2="70.11" stroke="#999" stroke-width="0.55" />
<line x1="428.58" y1="75.14" x2="428.58" y2="76.68" stroke="#aaa" stroke-width="0.45" />
<line x1="428.58" y1="75.14" x2="429.40" y2="75.14" stroke="#aaa" stroke-width="0.45" />
<line x1="428.58" y1="76.68" x2="429.40" y2="76.68" stroke="#aaa" stroke-width="0.45" />
<line x1="427.94" y1="75.91" x2="427.94" y2="78.23" stroke="#aaa" stroke-width="0.45" />
<line x1="427.94" y1="75.91" x2="428.58" y2="75.91" stroke="#aaa" stroke-width="0.45" />
<line x1="427.94" y1="78.23" x2="429.40" y2="78.23" stroke="#aaa" stroke-width="0.45" />
<line x1="427.10" y1="73.59" x2="427.10" y2="77.07" stroke="#999" stroke-width="0.55" />
<line x1="427.10" y1="73.59" x2="429.40" y2="73.59" stroke="#999" stroke-width="0.55" />
<line x1="427.10" y1="77.07" x2="427.94" y2="77.07" stroke="#999" stroke-width="0.55" />
<line x1="426.00" y1="66.46" x2="426.00" y2="75.33" stroke="#999" stroke-width="0.55" />
<line x1="426.00" y1="66.46" x2="426.78" y2="66.46" stroke="#999" stroke-width="0.55" />
<line x1="426.00" y1="75.33" x2="427.10" y2="75.33" stroke="#999" stroke-width="0.55" />
<line x1="429.06" y1="84.42" x2="429.06" y2="85.97" stroke="#aaa" stroke-width="0.45" />
<line x1="429.06" y1="84.42" x2="429.40" y2="84.42" stroke="#aaa" stroke-width="0.45" />
<line x1="429.06" y1="85.97" x2="429.40" y2="85.97" stroke="#aaa" stroke-width="0.45" />
<line x1="428.88" y1="85.19" x2="428.88" y2="87.51" stroke="#aaa" stroke-width="0.45" />
<line x1="428.88" y1="85.19" x2="429.06" y2="85.19" stroke="#aaa" stroke-width="0.45" />
<line x1="428.88" y1="87.51" x2="429.40" y2="87.51" stroke="#aaa" stroke-width="0.45" />
<line x1="429.15" y1="90.61" x2="429.15" y2="92.15" stroke="#aaa" stroke-width="0.45" />
<line x1="429.15" y1="90.61" x2="429.40" y2="90.61" stroke="#aaa" stroke-width="0.45" />
<line x1="429.15" y1="92.15" x2="429.40" y2="92.15" stroke="#aaa" stroke-width="0.45" />
<line x1="429.23" y1="95.25" x2="429.23" y2="96.80" stroke="#aaa" stroke-width="0.45" />
<line x1="429.23" y1="95.25" x2="429.40" y2="95.25" stroke="#aaa" stroke-width="0.45" />
<line x1="429.23" y1="96.80" x2="429.40" y2="96.80" stroke="#aaa" stroke-width="0.45" />
<line x1="429.06" y1="93.70" x2="429.06" y2="96.02" stroke="#aaa" stroke-width="0.45" />
<line x1="429.06" y1="93.70" x2="429.40" y2="93.70" stroke="#aaa" stroke-width="0.45" />
<line x1="429.06" y1="96.02" x2="429.23" y2="96.02" stroke="#aaa" stroke-width="0.45" />
<line x1="428.83" y1="91.38" x2="428.83" y2="94.86" stroke="#aaa" stroke-width="0.45" />
<line x1="428.83" y1="91.38" x2="429.15" y2="91.38" stroke="#aaa" stroke-width="0.45" />
<line x1="428.83" y1="94.86" x2="429.06" y2="94.86" stroke="#aaa" stroke-width="0.45" />
<line x1="428.54" y1="89.06" x2="428.54" y2="93.12" stroke="#aaa" stroke-width="0.45" />
<line x1="428.54" y1="89.06" x2="429.40" y2="89.06" stroke="#aaa" stroke-width="0.45" />
<line x1="428.54" y1="93.12" x2="428.83" y2="93.12" stroke="#aaa" stroke-width="0.45" />
<line x1="428.44" y1="91.09" x2="428.44" y2="98.34" stroke="#aaa" stroke-width="0.45" />
<line x1="428.44" y1="91.09" x2="428.54" y2="91.09" stroke="#aaa" stroke-width="0.45" />
<line x1="428.44" y1="98.34" x2="429.40" y2="98.34" stroke="#aaa" stroke-width="0.45" />
<line x1="428.15" y1="86.35" x2="428.15" y2="94.72" stroke="#aaa" stroke-width="0.45" />
<line x1="428.15" y1="86.35" x2="428.88" y2="86.35" stroke="#aaa" stroke-width="0.45" />
<line x1="428.15" y1="94.72" x2="428.44" y2="94.72" stroke="#aaa" stroke-width="0.45" />
<line x1="429.06" y1="101.44" x2="429.06" y2="102.98" stroke="#aaa" stroke-width="0.45" />
<line x1="429.06" y1="101.44" x2="429.40" y2="101.44" stroke="#aaa" stroke-width="0.45" />
<line x1="429.06" y1="102.98" x2="429.40" y2="102.98" stroke="#aaa" stroke-width="0.45" />
<line x1="429.12" y1="107.62" x2="429.12" y2="109.17" stroke="#aaa" stroke-width="0.45" />
<line x1="429.12" y1="107.62" x2="429.40" y2="107.62" stroke="#aaa" stroke-width="0.45" />
<line x1="429.12" y1="109.17" x2="429.40" y2="109.17" stroke="#aaa" stroke-width="0.45" />
<line x1="428.96" y1="106.08" x2="428.96" y2="108.40" stroke="#aaa" stroke-width="0.45" />
<line x1="428.96" y1="106.08" x2="429.40" y2="106.08" stroke="#aaa" stroke-width="0.45" />
<line x1="428.96" y1="108.40" x2="429.12" y2="108.40" stroke="#aaa" stroke-width="0.45" />
<line x1="428.75" y1="104.53" x2="428.75" y2="107.24" stroke="#aaa" stroke-width="0.45" />
<line x1="428.75" y1="104.53" x2="429.40" y2="104.53" stroke="#aaa" stroke-width="0.45" />
<line x1="428.75" y1="107.24" x2="428.96" y2="107.24" stroke="#aaa" stroke-width="0.45" />
<line x1="428.47" y1="105.88" x2="428.47" y2="110.72" stroke="#aaa" stroke-width="0.45" />
<line x1="428.47" y1="105.88" x2="428.75" y2="105.88" stroke="#aaa" stroke-width="0.45" />
<line x1="428.47" y1="110.72" x2="429.40" y2="110.72" stroke="#aaa" stroke-width="0.45" />
<line x1="428.38" y1="102.21" x2="428.38" y2="108.30" stroke="#aaa" stroke-width="0.45" />
<line x1="428.38" y1="102.21" x2="429.06" y2="102.21" stroke="#aaa" stroke-width="0.45" />
<line x1="428.38" y1="108.30" x2="428.47" y2="108.30" stroke="#aaa" stroke-width="0.45" />
<line x1="428.13" y1="99.89" x2="428.13" y2="105.26" stroke="#aaa" stroke-width="0.45" />
<line x1="428.13" y1="99.89" x2="429.40" y2="99.89" stroke="#aaa" stroke-width="0.45" />
<line x1="428.13" y1="105.26" x2="428.38" y2="105.26" stroke="#aaa" stroke-width="0.45" />
<line x1="429.09" y1="113.81" x2="429.09" y2="115.36" stroke="#aaa" stroke-width="0.45" />
<line x1="429.09" y1="113.81" x2="429.40" y2="113.81" stroke="#aaa" stroke-width="0.45" />
<line x1="429.09" y1="115.36" x2="429.40" y2="115.36" stroke="#aaa" stroke-width="0.45" />
<line x1="428.89" y1="112.27" x2="428.89" y2="114.59" stroke="#aaa" stroke-width="0.45" />
<line x1="428.89" y1="112.27" x2="429.40" y2="112.27" stroke="#aaa" stroke-width="0.45" />
<line x1="428.89" y1="114.59" x2="429.09" y2="114.59" stroke="#aaa" stroke-width="0.45" />
<line x1="427.94" y1="102.57" x2="427.94" y2="113.43" stroke="#aaa" stroke-width="0.45" />
<line x1="427.94" y1="102.57" x2="428.13" y2="102.57" stroke="#aaa" stroke-width="0.45" />
<line x1="427.94" y1="113.43" x2="428.89" y2="113.43" stroke="#aaa" stroke-width="0.45" />
<line x1="427.85" y1="90.53" x2="427.85" y2="108.00" stroke="#aaa" stroke-width="0.45" />
<line x1="427.85" y1="90.53" x2="428.15" y2="90.53" stroke="#aaa" stroke-width="0.45" />
<line x1="427.85" y1="108.00" x2="427.94" y2="108.00" stroke="#aaa" stroke-width="0.45" />
<line x1="427.52" y1="82.87" x2="427.52" y2="99.27" stroke="#999" stroke-width="0.55" />
<line x1="427.52" y1="82.87" x2="429.40" y2="82.87" stroke="#999" stroke-width="0.55" />
<line x1="427.52" y1="99.27" x2="427.85" y2="99.27" stroke="#999" stroke-width="0.55" />
<line x1="427.43" y1="91.07" x2="427.43" y2="116.91" stroke="#999" stroke-width="0.55" />
<line x1="427.43" y1="91.07" x2="427.52" y2="91.07" stroke="#999" stroke-width="0.55" />
<line x1="427.43" y1="116.91" x2="429.40" y2="116.91" stroke="#999" stroke-width="0.55" />
<line x1="427.22" y1="103.99" x2="427.22" y2="118.45" stroke="#999" stroke-width="0.55" />
<line x1="427.22" y1="103.99" x2="427.43" y2="103.99" stroke="#999" stroke-width="0.55" />
<line x1="427.22" y1="118.45" x2="429.40" y2="118.45" stroke="#999" stroke-width="0.55" />
<line x1="426.91" y1="81.33" x2="426.91" y2="111.22" stroke="#999" stroke-width="0.55" />
<line x1="426.91" y1="81.33" x2="429.40" y2="81.33" stroke="#999" stroke-width="0.55" />
<line x1="426.91" y1="111.22" x2="427.22" y2="111.22" stroke="#999" stroke-width="0.55" />
<line x1="426.80" y1="79.78" x2="426.80" y2="96.27" stroke="#999" stroke-width="0.55" />
<line x1="426.80" y1="79.78" x2="429.40" y2="79.78" stroke="#999" stroke-width="0.55" />
<line x1="426.80" y1="96.27" x2="426.91" y2="96.27" stroke="#999" stroke-width="0.55" />
<line x1="429.15" y1="120.00" x2="429.15" y2="121.55" stroke="#aaa" stroke-width="0.45" />
<line x1="429.15" y1="120.00" x2="429.40" y2="120.00" stroke="#aaa" stroke-width="0.45" />
<line x1="429.15" y1="121.55" x2="429.40" y2="121.55" stroke="#aaa" stroke-width="0.45" />
<line x1="426.50" y1="88.03" x2="426.50" y2="120.77" stroke="#999" stroke-width="0.55" />
<line x1="426.50" y1="88.03" x2="426.80" y2="88.03" stroke="#999" stroke-width="0.55" />
<line x1="426.50" y1="120.77" x2="429.15" y2="120.77" stroke="#999" stroke-width="0.55" />
<line x1="410.90" y1="70.90" x2="410.90" y2="104.40" stroke="#999" stroke-width="0.55" />
<line x1="410.90" y1="70.90" x2="426.00" y2="70.90" stroke="#999" stroke-width="0.55" />
<line x1="410.90" y1="104.40" x2="426.50" y2="104.40" stroke="#999" stroke-width="0.55" />
<rect x="18.80" y="196.20" width="1.00" height="6.60" fill="#281c6e" />
<rect x="19.60" y="196.20" width="1.00" height="6.60" fill="#362c7c" />
<rect x="20.41" y="196.20" width="1.00" height="6.60" fill="#463d8b" />
<rect x="21.21" y="196.20" width="1.00" height="6.60" fill="#564f9b" />
<rect x="22.02" y="196.20" width="1.00" height="6.60" fill="#6660aa" />
<rect x="22.82" y="196.20" width="1.00" height="6.60" fill="#7d78b9" />
<rect x="23.62" y="196.20" width="1.00" height="6.60" fill="#9491c8" />
<rect x="24.43" y="196.20" width="1.00" height="6.60" fill="#aba9d7" />
<rect x="25.23" y="196.20" width="1.00" height="6.60" fill="#c2c2e6" />
<rect x="26.04" y="196.20" width="1.00" height="6.60" fill="#d1d0ec" />
<rect x="26.84" y="196.20" width="1.00" height="6.60" fill="#dfdef1" />
<rect x="27.65" y="196.20" width="1.00" height="6.60" fill="#edecf5" />
<rect x="28.45" y="196.20" width="1.00" height="6.60" fill="#f3eaef" />
<rect x="29.25" y="196.20" width="1.00" height="6.60" fill="#f1dadd" />
<rect x="30.06" y="196.20" width="1.00" height="6.60" fill="#eec9cc" />
<rect x="30.86" y="196.20" width="1.00" height="6.60" fill="#ebb8ba" />
<rect x="31.67" y="196.20" width="1.00" height="6.60" fill="#e4a0a1" />
<rect x="32.47" y="196.20" width="1.00" height="6.60" fill="#dc8889" />
<rect x="33.28" y="196.20" width="1.00" height="6.60" fill="#d57070" />
<rect x="34.08" y="196.20" width="1.00" height="6.60" fill="#ce5858" />
<rect x="34.88" y="196.20" width="1.00" height="6.60" fill="#c6494a" />
<rect x="35.69" y="196.20" width="1.00" height="6.60" fill="#be3a3b" />
<rect x="36.49" y="196.20" width="1.00" height="6.60" fill="#b72b2d" />
<rect x="37.30" y="196.20" width="1.00" height="6.60" fill="#b01e20" />
<line x1="18.80" y1="202.80" x2="38.10" y2="202.80" stroke="#111" stroke-width="0.8" />
<line x1="20.73" y1="202.80" x2="20.73" y2="204.40" stroke="#111" stroke-width="0.9" />
<line x1="24.59" y1="202.80" x2="24.59" y2="204.40" stroke="#111" stroke-width="0.9" />
<line x1="28.45" y1="202.80" x2="28.45" y2="204.40" stroke="#111" stroke-width="0.9" />
<line x1="32.31" y1="202.80" x2="32.31" y2="204.40" stroke="#111" stroke-width="0.9" />
<line x1="36.17" y1="202.80" x2="36.17" y2="204.40" stroke="#111" stroke-width="0.9" />
<text x="14.20" y="193.70" font-size="6.6" text-anchor="start" fill="#222" font-weight="normal" font-style="normal" textLength="28.50" lengthAdjust="spacingAndGlyphs" stroke="#222" stroke-width="0.25" >Color Key</text>
<text x="13.50" y="213.20" font-size="5.4" text-anchor="start" fill="#222" font-weight="normal" font-style="normal" textLength="30.30" lengthAdjust="spacingAndGlyphs" stroke="#222" stroke-width="0.25" >Row Z-Score</text>
<text x="21.00" y="208.90" font-size="4.4" text-anchor="middle" fill="#222" font-weight="normal" font-style="normal" stroke="#222" stroke-width="0.25" >-2</text>
<text x="37.00" y="208.90" font-size="4.4" text-anchor="middle" fill="#222" font-weight="normal" font-style="normal" stroke="#222" stroke-width="0.25" >2</text>
<rect x="44.20" y="214.60" width="11.83" height="2.13" fill="#eab4b6" />
<rect x="55.73" y="214.60" width="11.83" height="2.13" fill="#edc3c5" />
<rect x="67.26" y="214.60" width="11.83" height="2.13" fill="#edc1c4" />
<rect x="78.79" y="214.60" width="11.83" height="2.13" fill="#7c77b9" />
<rect x="90.32" y="214.60" width="11.83" height="2.13" fill="#a19fd1" />
<rect x="101.85" y="214.60" width="11.83" height="2.13" fill="#8d8ac4" />
<rect x="113.38" y="214.60" width="11.83" height="2.13" fill="#cc5555" />
<rect x="124.91" y="214.60" width="11.83" height="2.13" fill="#e9b3b5" />
<rect x="136.44" y="214.60" width="11.83" height="2.13" fill="#de8e8f" />
<rect x="44.20" y="216.43" width="11.83" height="2.13" fill="#efd0d4" />
<rect x="55.73" y="216.43" width="11.83" height="2.13" fill="#eab5b6" />
<rect x="67.26" y="216.43" width="11.83" height="2.13" fill="#e7abac" />
<rect x="78.79" y="216.43" width="11.83" height="2.13" fill="#7a75b8" />
<rect x="90.32" y="216.43" width="11.83" height="2.13" fill="#5d56a1" />
<rect x="101.85" y="216.43" width="11.83" height="2.13" fill="#8581bf" />
<rect x="113.38" y="216.43" width="11.83" height="2.13" fill="#c34344" />
<rect x="124.91" y="216.43" width="11.83" height="2.13" fill="#d16161" />
<rect x="136.44" y="216.43" width="11.83" height="2.13" fill="#dd8a8b" />
<rect x="44.20" y="218.27" width="11.83" height="2.13" fill="#f3e7eb" />
<rect x="55.73" y="218.27" width="11.83" height="2.13" fill="#de8d8e" />
<rect x="67.26" y="218.27" width="11.83" height="2.13" fill="#e39e9f" />
<rect x="78.79" y="218.27" width="11.83" height="2.13" fill="#655faa" />
<rect x="90.32" y="218.27" width="11.83" height="2.13" fill="#6f6ab1" />
<rect x="101.85" y="218.27" width="11.83" height="2.13" fill="#a19fd1" />
<rect x="113.38" y="218.27" width="11.83" height="2.13" fill="#d06060" />
<rect x="124.91" y="218.27" width="11.83" height="2.13" fill="#d77475" />
<rect x="136.44" y="218.27" width="11.83" height="2.13" fill="#ce5858" />
<rect x="44.20" y="220.10" width="11.83" height="2.13" fill="#e19799" />
<rect x="55.73" y="220.10" width="11.83" height="2.13" fill="#edc0c3" />
<rect x="67.26" y="220.10" width="11.83" height="2.13" fill="#dd8a8b" />
<rect x="78.79" y="220.10" width="11.83" height="2.13" fill="#6e68b0" />
<rect x="90.32" y="220.10" width="11.83" height="2.13" fill="#9b98cd" />
<rect x="101.85" y="220.10" width="11.83" height="2.13" fill="#9592c9" />
<rect x="113.38" y="220.10" width="11.83" height="2.13" fill="#ce5858" />
<rect x="124.91" y="220.10" width="11.83" height="2.13" fill="#d87879" />
<rect x="136.44" y="220.10" width="11.83" height="2.13" fill="#de8c8d" />
<rect x="44.20" y="221.93" width="11.83" height="2.13" fill="#f4edf2" />
<rect x="55.73" y="221.93" width="11.83" height="2.13" fill="#d87878" />
<rect x="67.26" y="221.93" width="11.83" height="2.13" fill="#edc1c3" />
<rect x="78.79" y="221.93" width="11.83" height="2.13" fill="#655fa9" />
<rect x="90.32" y="221.93" width="11.83" height="2.13" fill="#3b3180" />
<rect x="101.85" y="221.93" width="11.83" height="2.13" fill="#504895" />
<rect x="113.38" y="221.93" width="11.83" height="2.13" fill="#e9b1b2" />
<rect x="124.91" y="221.93" width="11.83" height="2.13" fill="#de8e8f" />
<rect x="136.44" y="221.93" width="11.83" height="2.13" fill="#da8182" />
<rect x="44.20" y="223.77" width="11.83" height="2.13" fill="#f3e8ed" />
<rect x="55.73" y="223.77" width="11.83" height="2.13" fill="#d97b7c" />
<rect x="67.26" y="223.77" width="11.83" height="2.13" fill="#eecbce" />
<rect x="78.79" y="223.77" width="11.83" height="2.13" fill="#554d9a" />
<rect x="90.32" y="223.77" width="11.83" height="2.13" fill="#716cb2" />
<rect x="101.85" y="223.77" width="11.83" height="2.13" fill="#5d56a1" />
<rect x="113.38" y="223.77" width="11.83" height="2.13" fill="#e4a0a1" />
<rect x="124.91" y="223.77" width="11.83" height="2.13" fill="#db8485" />
<rect x="136.44" y="223.77" width="11.83" height="2.13" fill="#e1989a" />
<rect x="44.20" y="225.60" width="11.83" height="2.02" fill="#cac9ea" />
<rect x="55.73" y="225.60" width="11.83" height="2.02" fill="#aeadd9" />
<rect x="67.26" y="225.60" width="11.83" height="2.02" fill="#7b76b8" />
<rect x="78.79" y="225.60" width="11.83" height="2.02" fill="#adabd9" />
<rect x="90.32" y="225.60" width="11.83" height="2.02" fill="#9895cb" />
<rect x="101.85" y="225.60" width="11.83" height="2.02" fill="#a2a0d2" />
<rect x="113.38" y="225.60" width="11.83" height="2.02" fill="#e39ea0" />
<rect x="124.91" y="225.60" width="11.83" height="2.02" fill="#c54848" />
<rect x="136.44" y="225.60" width="11.83" height="2.02" fill="#bd3839" />
<rect x="44.20" y="227.32" width="11.83" height="2.02" fill="#9c99ce" />
<rect x="55.73" y="227.32" width="11.83" height="2.02" fill="#a3a0d2" />
<rect x="67.26" y="227.32" width="11.83" height="2.02" fill="#b7b6df" />
<rect x="78.79" y="227.32" width="11.83" height="2.02" fill="#8b87c3" />
<rect x="90.32" y="227.32" width="11.83" height="2.02" fill="#acaad8" />
<rect x="101.85" y="227.32" width="11.83" height="2.02" fill="#9a97cc" />
<rect x="113.38" y="227.32" width="11.83" height="2.02" fill="#e09395" />
<rect x="124.91" y="227.32" width="11.83" height="2.02" fill="#d3696a" />
<rect x="136.44" y="227.32" width="11.83" height="2.02" fill="#d05e5f" />
<rect x="44.20" y="229.04" width="11.83" height="2.02" fill="#dfdef1" />
<rect x="55.73" y="229.04" width="11.83" height="2.02" fill="#ceceeb" />
<rect x="67.26" y="229.04" width="11.83" height="2.02" fill="#c4c4e8" />
<rect x="78.79" y="229.04" width="11.83" height="2.02" fill="#d0cfec" />
<rect x="90.32" y="229.04" width="11.83" height="2.02" fill="#918ec7" />
<rect x="101.85" y="229.04" width="11.83" height="2.02" fill="#f3ebf0" />
<rect x="113.38" y="229.04" width="11.83" height="2.02" fill="#e4a1a3" />
<rect x="124.91" y="229.04" width="11.83" height="2.02" fill="#d57071" />
<rect x="136.44" y="229.04" width="11.83" height="2.02" fill="#b32426" />
<rect x="44.20" y="230.76" width="11.83" height="2.02" fill="#c8c8e9" />
<rect x="55.73" y="230.76" width="11.83" height="2.02" fill="#d4d3ed" />
<rect x="67.26" y="230.76" width="11.83" height="2.02" fill="#bebee4" />
<rect x="78.79" y="230.76" width="11.83" height="2.02" fill="#ceceeb" />
<rect x="90.32" y="230.76" width="11.83" height="2.02" fill="#c0c0e5" />
<rect x="101.85" y="230.76" width="11.83" height="2.02" fill="#deddf0" />
<rect x="113.38" y="230.76" width="11.83" height="2.02" fill="#dd8b8c" />
<rect x="124.91" y="230.76" width="11.83" height="2.02" fill="#b42527" />
<rect x="136.44" y="230.76" width="11.83" height="2.02" fill="#bd3839" />
<rect x="44.20" y="232.48" width="11.83" height="2.02" fill="#9d9bcf" />
<rect x="55.73" y="232.48" width="11.83" height="2.02" fill="#b4b3dd" />
<rect x="67.26" y="232.48" width="11.83" height="2.02" fill="#b4b3dd" />
<rect x="78.79" y="232.48" width="11.83" height="2.02" fill="#cbcbea" />
<rect x="90.32" y="232.48" width="11.83" height="2.02" fill="#b7b6df" />
<rect x="101.85" y="232.48" width="11.83" height="2.02" fill="#c2c2e7" />
<rect x="113.38" y="232.48" width="11.83" height="2.02" fill="#de8d8e" />
<rect x="124.91" y="232.48" width="11.83" height="2.02" fill="#c24142" />
<rect x="136.44" y="232.48" width="11.83" height="2.02" fill="#c74c4c" />
<rect x="44.20" y="234.19" width="11.83" height="2.02" fill="#b3b2dd" />
<rect x="55.73" y="234.19" width="11.83" height="2.02" fill="#cecdeb" />
<rect x="67.26" y="234.19" width="11.83" height="2.02" fill="#c2c1e6" />
<rect x="78.79" y="234.19" width="11.83" height="2.02" fill="#e5e4f2" />
<rect x="90.32" y="234.19" width="11.83" height="2.02" fill="#f2f0f7" />
<rect x="101.85" y="234.19" width="11.83" height="2.02" fill="#cccbea" />
<rect x="113.38" y="234.19" width="11.83" height="2.02" fill="#d67374" />
<rect x="124.91" y="234.19" width="11.83" height="2.02" fill="#b62a2b" />
<rect x="136.44" y="234.19" width="11.83" height="2.02" fill="#bc3738" />
<rect x="44.20" y="235.91" width="11.83" height="2.02" fill="#9c99ce" />
<rect x="55.73" y="235.91" width="11.83" height="2.02" fill="#cdcdeb" />
<rect x="67.26" y="235.91" width="11.83" height="2.02" fill="#abaad8" />
<rect x="78.79" y="235.91" width="11.83" height="2.02" fill="#c4c4e8" />
<rect x="90.32" y="235.91" width="11.83" height="2.02" fill="#c5c5e8" />
<rect x="101.85" y="235.91" width="11.83" height="2.02" fill="#e0def1" />
<rect x="113.38" y="235.91" width="11.83" height="2.02" fill="#e29a9b" />
<rect x="124.91" y="235.91" width="11.83" height="2.02" fill="#cb5353" />
<rect x="136.44" y="235.91" width="11.83" height="2.02" fill="#c84c4d" />
<rect x="44.20" y="237.63" width="11.83" height="2.02" fill="#acaad8" />
<rect x="55.73" y="237.63" width="11.83" height="2.02" fill="#8c88c3" />
<rect x="67.26" y="237.63" width="11.83" height="2.02" fill="#746fb4" />
<rect x="78.79" y="237.63" width="11.83" height="2.02" fill="#e4e3f2" />
<rect x="90.32" y="237.63" width="11.83" height="2.02" fill="#aeadda" />
<rect x="101.85" y="237.63" width="11.83" height="2.02" fill="#b5b4de" />
<rect x="113.38" y="237.63" width="11.83" height="2.02" fill="#ecc0c2" />
<rect x="124.91" y="237.63" width="11.83" height="2.02" fill="#d05e5e" />
<rect x="136.44" y="237.63" width="11.83" height="2.02" fill="#cf5c5c" />
<rect x="44.20" y="239.35" width="11.83" height="2.02" fill="#aba9d8" />
<rect x="55.73" y="239.35" width="11.83" height="2.02" fill="#8884c1" />
<rect x="67.26" y="239.35" width="11.83" height="2.02" fill="#7e7aba" />
<rect x="78.79" y="239.35" width="11.83" height="2.02" fill="#babae2" />
<rect x="90.32" y="239.35" width="11.83" height="2.02" fill="#8d89c4" />
<rect x="101.85" y="239.35" width="11.83" height="2.02" fill="#c9c9e9" />
<rect x="113.38" y="239.35" width="11.83" height="2.02" fill="#ecbbbd" />
<rect x="124.91" y="239.35" width="11.83" height="2.02" fill="#cc5454" />
<rect x="136.44" y="239.35" width="11.83" height="2.02" fill="#cb5353" />
<rect x="44.20" y="241.07" width="11.83" height="2.02" fill="#9996cc" />
<rect x="55.73" y="241.07" width="11.83" height="2.02" fill="#8480be" />
<rect x="67.26" y="241.07" width="11.83" height="2.02" fill="#9f9ccf" />
<rect x="78.79" y="241.07" width="11.83" height="2.02" fill="#c2c2e6" />
<rect x="90.32" y="241.07" width="11.83" height="2.02" fill="#acaad8" />
<rect x="101.85" y="241.07" width="11.83" height="2.02" fill="#d3d3ed" />
<rect x="113.38" y="241.07" width="11.83" height="2.02" fill="#df8f90" />
<rect x="124.91" y="241.07" width="11.83" height="2.02" fill="#d57071" />
<rect x="136.44" y="241.07" width="11.83" height="2.02" fill="#c44546" />
<rect x="44.20" y="242.79" width="11.83" height="2.02" fill="#9f9cd0" />
<rect x="55.73" y="242.79" width="11.83" height="2.02" fill="#8b88c3" />
<rect x="67.26" y="242.79" width="11.83" height="2.02" fill="#6d68af" />
<rect x="78.79" y="242.79" width="11.83" height="2.02" fill="#d4d3ed" />
<rect x="90.32" y="242.79" width="11.83" height="2.02" fill="#817cbc" />
<rect x="101.85" y="242.79" width="11.83" height="2.02" fill="#e2e0f1" />
<rect x="113.38" y="242.79" width="11.83" height="2.02" fill="#e39d9e" />
<rect x="124.91" y="242.79" width="11.83" height="2.02" fill="#be3a3b" />
<rect x="136.44" y="242.79" width="11.83" height="2.02" fill="#c84d4d" />
<rect x="44.20" y="244.51" width="11.83" height="2.02" fill="#cfcfeb" />
<rect x="55.73" y="244.51" width="11.83" height="2.02" fill="#a8a6d5" />
<rect x="67.26" y="244.51" width="11.83" height="2.02" fill="#d1d1ec" />
<rect x="78.79" y="244.51" width="11.83" height="2.02" fill="#dbdaef" />
<rect x="90.32" y="244.51" width="11.83" height="2.02" fill="#c9c8e9" />
<rect x="101.85" y="244.51" width="11.83" height="2.02" fill="#d2d1ec" />
<rect x="113.38" y="244.51" width="11.83" height="2.02" fill="#d97c7c" />
<rect x="124.91" y="244.51" width="11.83" height="2.02" fill="#c03d3e" />
<rect x="136.44" y="244.51" width="11.83" height="2.02" fill="#cc5454" />
<rect x="44.20" y="246.23" width="11.83" height="2.02" fill="#8985c1" />
<rect x="55.73" y="246.23" width="11.83" height="2.02" fill="#8d89c4" />
<rect x="67.26" y="246.23" width="11.83" height="2.02" fill="#8682bf" />
<rect x="78.79" y="246.23" width="11.83" height="2.02" fill="#b1afdb" />
<rect x="90.32" y="246.23" width="11.83" height="2.02" fill="#918ec7" />
<rect x="101.85" y="246.23" width="11.83" height="2.02" fill="#c3c3e7" />
<rect x="113.38" y="246.23" width="11.83" height="2.02" fill="#f2e5e9" />
<rect x="124.91" y="246.23" width="11.83" height="2.02" fill="#d67474" />
<rect x="136.44" y="246.23" width="11.83" height="2.02" fill="#c74b4b" />
<rect x="44.20" y="247.94" width="11.83" height="2.02" fill="#817dbc" />
<rect x="55.73" y="247.94" width="11.83" height="2.02" fill="#abaad8" />
<rect x="67.26" y="247.94" width="11.83" height="2.02" fill="#9a97cc" />
<rect x="78.79" y="247.94" width="11.83" height="2.02" fill="#d8d7ee" />
<rect x="90.32" y="247.94" width="11.83" height="2.02" fill="#a4a2d3" />
<rect x="101.85" y="247.94" width="11.83" height="2.02" fill="#aaa8d7" />
<rect x="113.38" y="247.94" width="11.83" height="2.02" fill="#d16262" />
<rect x="124.91" y="247.94" width="11.83" height="2.02" fill="#cf5c5c" />
<rect x="136.44" y="247.94" width="11.83" height="2.02" fill="#d16363" />
<rect x="44.20" y="249.66" width="11.83" height="2.02" fill="#cbcaea" />
<rect x="55.73" y="249.66" width="11.83" height="2.02" fill="#b4b3dd" />
<rect x="67.26" y="249.66" width="11.83" height="2.02" fill="#9d9ace" />
<rect x="78.79" y="249.66" width="11.83" height="2.02" fill="#e9e8f4" />
<rect x="90.32" y="249.66" width="11.83" height="2.02" fill="#d4d3ed" />
<rect x="101.85" y="249.66" width="11.83" height="2.02" fill="#e1e0f1" />
<rect x="113.38" y="249.66" width="11.83" height="2.02" fill="#df9092" />
<rect x="124.91" y="249.66" width="11.83" height="2.02" fill="#c94e4f" />
<rect x="136.44" y="249.66" width="11.83" height="2.02" fill="#c34243" />
<rect x="44.20" y="251.38" width="11.83" height="2.02" fill="#9996cb" />
<rect x="55.73" y="251.38" width="11.83" height="2.02" fill="#a19fd1" />
<rect x="67.26" y="251.38" width="11.83" height="2.02" fill="#9693ca" />
<rect x="78.79" y="251.38" width="11.83" height="2.02" fill="#d4d4ed" />
<rect x="90.32" y="251.38" width="11.83" height="2.02" fill="#d8d7ee" />
<rect x="101.85" y="251.38" width="11.83" height="2.02" fill="#dfddf0" />
<rect x="113.38" y="251.38" width="11.83" height="2.02" fill="#eec6c9" />
<rect x="124.91" y="251.38" width="11.83" height="2.02" fill="#d46a6b" />
<rect x="136.44" y="251.38" width="11.83" height="2.02" fill="#ce5858" />
<rect x="44.20" y="253.10" width="11.83" height="2.02" fill="#9a97cc" />
<rect x="55.73" y="253.10" width="11.83" height="2.02" fill="#58519d" />
<rect x="67.26" y="253.10" width="11.83" height="2.02" fill="#5a529e" />
<rect x="78.79" y="253.10" width="11.83" height="2.02" fill="#e2e1f1" />
<rect x="90.32" y="253.10" width="11.83" height="2.02" fill="#c7c7e9" />
<rect x="101.85" y="253.10" width="11.83" height="2.02" fill="#b1b0dc" />
<rect x="113.38" y="253.10" width="11.83" height="2.02" fill="#e6a7a9" />
<rect x="124.91" y="253.10" width="11.83" height="2.02" fill="#c44445" />
<rect x="136.44" y="253.10" width="11.83" height="2.02" fill="#da8081" />
<rect x="44.20" y="254.82" width="11.83" height="2.02" fill="#605aa5" />
<rect x="55.73" y="254.82" width="11.83" height="2.02" fill="#605aa5" />
<rect x="67.26" y="254.82" width="11.83" height="2.02" fill="#574f9b" />
<rect x="78.79" y="254.82" width="11.83" height="2.02" fill="#c8c8e9" />
<rect x="90.32" y="254.82" width="11.83" height="2.02" fill="#928fc7" />
<rect x="101.85" y="254.82" width="11.83" height="2.02" fill="#d1d1ec" />
<rect x="113.38" y="254.82" width="11.83" height="2.02" fill="#d67273" />
<rect x="124.91" y="254.82" width="11.83" height="2.02" fill="#da7f80" />
<rect x="136.44" y="254.82" width="11.83" height="2.02" fill="#cb5353" />
<rect x="44.20" y="256.54" width="11.83" height="2.02" fill="#6963ac" />
<rect x="55.73" y="256.54" width="11.83" height="2.02" fill="#a2a0d2" />
<rect x="67.26" y="256.54" width="11.83" height="2.02" fill="#a5a3d4" />
<rect x="78.79" y="256.54" width="11.83" height="2.02" fill="#e7e6f3" />
<rect x="90.32" y="256.54" width="11.83" height="2.02" fill="#e7e5f3" />
<rect x="101.85" y="256.54" width="11.83" height="2.02" fill="#e5e4f3" />
<rect x="113.38" y="256.54" width="11.83" height="2.02" fill="#d87879" />
<rect x="124.91" y="256.54" width="11.83" height="2.02" fill="#c64a4a" />
<rect x="136.44" y="256.54" width="11.83" height="2.02" fill="#c64949" />
<rect x="44.20" y="258.26" width="11.83" height="2.02" fill="#babae1" />
<rect x="55.73" y="258.26" width="11.83" height="2.02" fill="#7873b6" />
<rect x="67.26" y="258.26" width="11.83" height="2.02" fill="#635da7" />
<rect x="78.79" y="258.26" width="11.83" height="2.02" fill="#f4eff4" />
<rect x="90.32" y="258.26" width="11.83" height="2.02" fill="#dfdef1" />
<rect x="101.85" y="258.26" width="11.83" height="2.02" fill="#d5d4ed" />
<rect x="113.38" y="258.26" width="11.83" height="2.02" fill="#ebb9bb" />
<rect x="124.91" y="258.26" width="11.83" height="2.02" fill="#d56f6f" />
<rect x="136.44" y="258.26" width="11.83" height="2.02" fill="#c64949" />
<rect x="44.20" y="259.98" width="11.83" height="2.02" fill="#716cb2" />
<rect x="55.73" y="259.98" width="11.83" height="2.02" fill="#9592c9" />
<rect x="67.26" y="259.98" width="11.83" height="2.02" fill="#7d78ba" />
<rect x="78.79" y="259.98" width="11.83" height="2.02" fill="#deddf0" />
<rect x="90.32" y="259.98" width="11.83" height="2.02" fill="#edebf5" />
<rect x="101.85" y="259.98" width="11.83" height="2.02" fill="#edebf5" />
<rect x="113.38" y="259.98" width="11.83" height="2.02" fill="#d97d7d" />
<rect x="124.91" y="259.98" width="11.83" height="2.02" fill="#c84e4e" />
<rect x="136.44" y="259.98" width="11.83" height="2.02" fill="#c24243" />
<rect x="44.20" y="261.69" width="11.83" height="2.02" fill="#9d9bcf" />
<rect x="55.73" y="261.69" width="11.83" height="2.02" fill="#9b98cd" />
<rect x="67.26" y="261.69" width="11.83" height="2.02" fill="#7974b7" />
<rect x="78.79" y="261.69" width="11.83" height="2.02" fill="#cdcceb" />
<rect x="90.32" y="261.69" width="11.83" height="2.02" fill="#dad9ef" />
<rect x="101.85" y="261.69" width="11.83" height="2.02" fill="#e0dff1" />
<rect x="113.38" y="261.69" width="11.83" height="2.02" fill="#dd8b8c" />
<rect x="124.91" y="261.69" width="11.83" height="2.02" fill="#d05f5f" />
<rect x="136.44" y="261.69" width="11.83" height="2.02" fill="#c84d4e" />
<rect x="44.20" y="263.41" width="11.83" height="2.02" fill="#cecdeb" />
<rect x="55.73" y="263.41" width="11.83" height="2.02" fill="#c1c0e6" />
<rect x="67.26" y="263.41" width="11.83" height="2.02" fill="#a09ed0" />
<rect x="78.79" y="263.41" width="11.83" height="2.02" fill="#f1dce0" />
<rect x="90.32" y="263.41" width="11.83" height="2.02" fill="#d6d5ee" />
<rect x="101.85" y="263.41" width="11.83" height="2.02" fill="#f2e1e5" />
<rect x="113.38" y="263.41" width="11.83" height="2.02" fill="#db8283" />
<rect x="124.91" y="263.41" width="11.83" height="2.02" fill="#b82f30" />
<rect x="136.44" y="263.41" width="11.83" height="2.02" fill="#c34344" />
<rect x="44.20" y="265.13" width="11.83" height="2.02" fill="#6b65ae" />
<rect x="55.73" y="265.13" width="11.83" height="2.02" fill="#9a98cd" />
<rect x="67.26" y="265.13" width="11.83" height="2.02" fill="#7f7abb" />
<rect x="78.79" y="265.13" width="11.83" height="2.02" fill="#f0eef6" />
<rect x="90.32" y="265.13" width="11.83" height="2.02" fill="#dddcf0" />
<rect x="101.85" y="265.13" width="11.83" height="2.02" fill="#c3c2e7" />
<rect x="113.38" y="265.13" width="11.83" height="2.02" fill="#de8c8d" />
<rect x="124.91" y="265.13" width="11.83" height="2.02" fill="#cf5a5a" />
<rect x="136.44" y="265.13" width="11.83" height="2.02" fill="#ca5051" />
<rect x="44.20" y="266.85" width="11.83" height="2.02" fill="#5d56a1" />
<rect x="55.73" y="266.85" width="11.83" height="2.02" fill="#7c77b9" />
<rect x="67.26" y="266.85" width="11.83" height="2.02" fill="#8682bf" />
<rect x="78.79" y="266.85" width="11.83" height="2.02" fill="#f4f2f7" />
<rect x="90.32" y="266.85" width="11.83" height="2.02" fill="#efedf6" />
<rect x="101.85" y="266.85" width="11.83" height="2.02" fill="#e3e1f2" />
<rect x="113.38" y="266.85" width="11.83" height="2.02" fill="#e19697" />
<rect x="124.91" y="266.85" width="11.83" height="2.02" fill="#c24041" />
<rect x="136.44" y="266.85" width="11.83" height="2.02" fill="#d87a7b" />
<rect x="44.20" y="268.57" width="11.83" height="2.02" fill="#8581bf" />
<rect x="55.73" y="268.57" width="11.83" height="2.02" fill="#bdbde3" />
<rect x="67.26" y="268.57" width="11.83" height="2.02" fill="#a19fd1" />
<rect x="78.79" y="268.57" width="11.83" height="2.02" fill="#edc3c5" />
<rect x="90.32" y="268.57" width="11.83" height="2.02" fill="#f2e2e7" />
<rect x="101.85" y="268.57" width="11.83" height="2.02" fill="#f3e7eb" />
<rect x="113.38" y="268.57" width="11.83" height="2.02" fill="#e5a3a5" />
<rect x="124.91" y="268.57" width="11.83" height="2.02" fill="#bd383a" />
<rect x="136.44" y="268.57" width="11.83" height="2.02" fill="#be393a" />
<rect x="44.20" y="270.29" width="11.83" height="2.02" fill="#645da8" />
<rect x="55.73" y="270.29" width="11.83" height="2.02" fill="#6b65ae" />
<rect x="67.26" y="270.29" width="11.83" height="2.02" fill="#6e69b0" />
<rect x="78.79" y="270.29" width="11.83" height="2.02" fill="#f4f1f6" />
<rect x="90.32" y="270.29" width="11.83" height="2.02" fill="#d7d6ee" />
<rect x="101.85" y="270.29" width="11.83" height="2.02" fill="#f0eef6" />
<rect x="113.38" y="270.29" width="11.83" height="2.02" fill="#d77575" />
<rect x="124.91" y="270.29" width="11.83" height="2.02" fill="#ca5252" />
<rect x="136.44" y="270.29" width="11.83" height="2.02" fill="#bd3738" />
<rect x="44.20" y="272.01" width="11.83" height="2.02" fill="#7570b4" />
<rect x="55.73" y="272.01" width="11.83" height="2.02" fill="#9693ca" />
<rect x="67.26" y="272.01" width="11.83" height="2.02" fill="#8884c1" />
<rect x="78.79" y="272.01" width="11.83" height="2.02" fill="#eceaf5" />
<rect x="90.32" y="272.01" width="11.83" height="2.02" fill="#dbdaef" />
<rect x="101.85" y="272.01" width="11.83" height="2.02" fill="#f0eef6" />
<rect x="113.38" y="272.01" width="11.83" height="2.02" fill="#dd898a" />
<rect x="124.91" y="272.01" width="11.83" height="2.02" fill="#be3a3b" />
<rect x="136.44" y="272.01" width="11.83" height="2.02" fill="#c84c4d" />
<rect x="44.20" y="273.73" width="11.83" height="2.02" fill="#504794" />
<rect x="55.73" y="273.73" width="11.83" height="2.02" fill="#6d67af" />
<rect x="67.26" y="273.73" width="11.83" height="2.02" fill="#726db2" />
<rect x="78.79" y="273.73" width="11.83" height="2.02" fill="#f4ecf1" />
<rect x="90.32" y="273.73" width="11.83" height="2.02" fill="#d4d3ed" />
<rect x="101.85" y="273.73" width="11.83" height="2.02" fill="#d2d2ec" />
<rect x="113.38" y="273.73" width="11.83" height="2.02" fill="#de8d8f" />
<rect x="124.91" y="273.73" width="11.83" height="2.02" fill="#cf5c5c" />
<rect x="136.44" y="273.73" width="11.83" height="2.02" fill="#da7e7f" />
<rect x="44.20" y="275.44" width="11.83" height="2.02" fill="#a6a4d4" />
<rect x="55.73" y="275.44" width="11.83" height="2.02" fill="#8f8cc5" />
<rect x="67.26" y="275.44" width="11.83" height="2.02" fill="#9693ca" />
<rect x="78.79" y="275.44" width="11.83" height="2.02" fill="#f4f0f5" />
<rect x="90.32" y="275.44" width="11.83" height="2.02" fill="#f1dbdf" />
<rect x="101.85" y="275.44" width="11.83" height="2.02" fill="#f3eaef" />
<rect x="113.38" y="275.44" width="11.83" height="2.02" fill="#dc8586" />
<rect x="124.91" y="275.44" width="11.83" height="2.02" fill="#c24243" />
<rect x="136.44" y="275.44" width="11.83" height="2.02" fill="#cc5454" />
<rect x="44.20" y="277.16" width="11.83" height="2.02" fill="#acaad8" />
<rect x="55.73" y="277.16" width="11.83" height="2.02" fill="#9390c8" />
<rect x="67.26" y="277.16" width="11.83" height="2.02" fill="#534b98" />
<rect x="78.79" y="277.16" width="11.83" height="2.02" fill="#f4eef3" />
<rect x="90.32" y="277.16" width="11.83" height="2.02" fill="#e9e8f4" />
<rect x="101.85" y="277.16" width="11.83" height="2.02" fill="#f2e1e5" />
<rect x="113.38" y="277.16" width="11.83" height="2.02" fill="#ecbdc0" />
<rect x="124.91" y="277.16" width="11.83" height="2.02" fill="#d67373" />
<rect x="136.44" y="277.16" width="11.83" height="2.02" fill="#ca5050" />
<rect x="44.20" y="278.88" width="11.83" height="2.02" fill="#7773b6" />
<rect x="55.73" y="278.88" width="11.83" height="2.02" fill="#b6b5de" />
<rect x="67.26" y="278.88" width="11.83" height="2.02" fill="#6761ab" />
<rect x="78.79" y="278.88" width="11.83" height="2.02" fill="#f3e7eb" />
<rect x="90.32" y="278.88" width="11.83" height="2.02" fill="#f3f1f7" />
<rect x="101.85" y="278.88" width="11.83" height="2.02" fill="#f1eff6" />
<rect x="113.38" y="278.88" width="11.83" height="2.02" fill="#d36768" />
<rect x="124.91" y="278.88" width="11.83" height="2.02" fill="#d05d5d" />
<rect x="136.44" y="278.88" width="11.83" height="2.02" fill="#cf5b5b" />
<rect x="44.20" y="280.60" width="11.83" height="2.02" fill="#eeedf5" />
<rect x="55.73" y="280.60" width="11.83" height="2.02" fill="#f2f0f7" />
<rect x="67.26" y="280.60" width="11.83" height="2.02" fill="#f4f1f6" />
<rect x="78.79" y="280.60" width="11.83" height="2.02" fill="#e7acae" />
<rect x="90.32" y="280.60" width="11.83" height="2.02" fill="#de8d8e" />
<rect x="101.85" y="280.60" width="11.83" height="2.02" fill="#ce5858" />
<rect x="113.38" y="280.60" width="11.83" height="2.02" fill="#8985c1" />
<rect x="124.91" y="280.60" width="11.83" height="2.02" fill="#7974b7" />
<rect x="136.44" y="280.60" width="11.83" height="2.02" fill="#59529e" />
<rect x="44.20" y="282.32" width="11.83" height="2.02" fill="#f4f2f7" />
<rect x="55.73" y="282.32" width="11.83" height="2.02" fill="#f4eff4" />
<rect x="67.26" y="282.32" width="11.83" height="2.02" fill="#eecacd" />
<rect x="78.79" y="282.32" width="11.83" height="2.02" fill="#e2999a" />
<rect x="90.32" y="282.32" width="11.83" height="2.02" fill="#c64849" />
<rect x="101.85" y="282.32" width="11.83" height="2.02" fill="#d36969" />
<rect x="113.38" y="282.32" width="11.83" height="2.02" fill="#7a75b8" />
<rect x="124.91" y="282.32" width="11.83" height="2.02" fill="#8682bf" />
<rect x="136.44" y="282.32" width="11.83" height="2.02" fill="#a6a4d4" />
<rect x="44.20" y="284.03" width="11.83" height="2.02" fill="#f3e6ea" />
<rect x="55.73" y="284.03" width="11.83" height="2.02" fill="#f2f0f7" />
<rect x="67.26" y="284.03" width="11.83" height="2.02" fill="#f3e6eb" />
<rect x="78.79" y="284.03" width="11.83" height="2.02" fill="#edc4c6" />
<rect x="90.32" y="284.03" width="11.83" height="2.02" fill="#d77677" />
<rect x="101.85" y="284.03" width="11.83" height="2.02" fill="#d46c6c" />
<rect x="113.38" y="284.03" width="11.83" height="2.02" fill="#6963ac" />
<rect x="124.91" y="284.03" width="11.83" height="2.02" fill="#8581bf" />
<rect x="136.44" y="284.03" width="11.83" height="2.02" fill="#6761ab" />
<rect x="44.20" y="285.75" width="11.83" height="2.02" fill="#f0d5d9" />
<rect x="55.73" y="285.75" width="11.83" height="2.02" fill="#c4c4e8" />
<rect x="67.26" y="285.75" width="11.83" height="2.02" fill="#eec8cb" />
<rect x="78.79" y="285.75" width="11.83" height="2.02" fill="#e6a8aa" />
<rect x="90.32" y="285.75" width="11.83" height="2.02" fill="#e7acad" />
<rect x="101.85" y="285.75" width="11.83" height="2.02" fill="#dd8b8c" />
<rect x="113.38" y="285.75" width="11.83" height="2.02" fill="#807cbc" />
<rect x="124.91" y="285.75" width="11.83" height="2.02" fill="#6059a4" />
<rect x="136.44" y="285.75" width="11.83" height="2.02" fill="#acaad8" />
<rect x="44.20" y="287.47" width="11.83" height="2.02" fill="#f4f1f5" />
<rect x="55.73" y="287.47" width="11.83" height="2.02" fill="#b7b6df" />
<rect x="67.26" y="287.47" width="11.83" height="2.02" fill="#f4eff4" />
<rect x="78.79" y="287.47" width="11.83" height="2.02" fill="#da8182" />
<rect x="90.32" y="287.47" width="11.83" height="2.02" fill="#d67273" />
<rect x="101.85" y="287.47" width="11.83" height="2.02" fill="#edc5c8" />
<rect x="113.38" y="287.47" width="11.83" height="2.02" fill="#625ca7" />
<rect x="124.91" y="287.47" width="11.83" height="2.02" fill="#655ea9" />
<rect x="136.44" y="287.47" width="11.83" height="2.02" fill="#554d99" />
<rect x="44.20" y="289.18" width="11.83" height="2.02" fill="#f1dfe3" />
<rect x="55.73" y="289.18" width="11.83" height="2.02" fill="#e4e3f2" />
<rect x="67.26" y="289.18" width="11.83" height="2.02" fill="#f0d3d6" />
<rect x="78.79" y="289.18" width="11.83" height="2.02" fill="#edc0c3" />
<rect x="90.32" y="289.18" width="11.83" height="2.02" fill="#df9092" />
<rect x="101.85" y="289.18" width="11.83" height="2.02" fill="#f1dbde" />
<rect x="113.38" y="289.18" width="11.83" height="2.02" fill="#645ea9" />
<rect x="124.91" y="289.18" width="11.83" height="2.02" fill="#8d89c4" />
<rect x="136.44" y="289.18" width="11.83" height="2.02" fill="#bcbce3" />
<rect x="44.20" y="290.90" width="11.83" height="2.02" fill="#d1d1ec" />
<rect x="55.73" y="290.90" width="11.83" height="2.02" fill="#d3d2ec" />
<rect x="67.26" y="290.90" width="11.83" height="2.02" fill="#f2e1e5" />
<rect x="78.79" y="290.90" width="11.83" height="2.02" fill="#f1dee2" />
<rect x="90.32" y="290.90" width="11.83" height="2.02" fill="#c74c4c" />
<rect x="101.85" y="290.90" width="11.83" height="2.02" fill="#e9b0b2" />
<rect x="113.38" y="290.90" width="11.83" height="2.02" fill="#8c88c3" />
<rect x="124.91" y="290.90" width="11.83" height="2.02" fill="#534b98" />
<rect x="136.44" y="290.90" width="11.83" height="2.02" fill="#b2b1dc" />
<rect x="44.20" y="292.62" width="11.83" height="2.02" fill="#dcdbf0" />
<rect x="55.73" y="292.62" width="11.83" height="2.02" fill="#e9e7f4" />
<rect x="67.26" y="292.62" width="11.83" height="2.02" fill="#dcdbef" />
<rect x="78.79" y="292.62" width="11.83" height="2.02" fill="#f0d6da" />
<rect x="90.32" y="292.62" width="11.83" height="2.02" fill="#d77575" />
<rect x="101.85" y="292.62" width="11.83" height="2.02" fill="#dd8a8b" />
<rect x="113.38" y="292.62" width="11.83" height="2.02" fill="#49408e" />
<rect x="124.91" y="292.62" width="11.83" height="2.02" fill="#7772b6" />
<rect x="136.44" y="292.62" width="11.83" height="2.02" fill="#7671b5" />
<rect x="44.20" y="294.33" width="11.83" height="2.02" fill="#e1e0f1" />
<rect x="55.73" y="294.33" width="11.83" height="2.02" fill="#f4edf2" />
<rect x="67.26" y="294.33" width="11.83" height="2.02" fill="#eec7ca" />
<rect x="78.79" y="294.33" width="11.83" height="2.02" fill="#eab4b6" />
<rect x="90.32" y="294.33" width="11.83" height="2.02" fill="#d67172" />
<rect x="101.85" y="294.33" width="11.83" height="2.02" fill="#d06060" />
<rect x="113.38" y="294.33" width="11.83" height="2.02" fill="#8985c1" />
<rect x="124.91" y="294.33" width="11.83" height="2.02" fill="#7b76b8" />
<rect x="136.44" y="294.33" width="11.83" height="2.02" fill="#8b88c3" />
<rect x="44.20" y="296.05" width="11.83" height="2.02" fill="#f0d6d9" />
<rect x="55.73" y="296.05" width="11.83" height="2.02" fill="#b3b2dd" />
<rect x="67.26" y="296.05" width="11.83" height="2.02" fill="#f1dde1" />
<rect x="78.79" y="296.05" width="11.83" height="2.02" fill="#e7acad" />
<rect x="90.32" y="296.05" width="11.83" height="2.02" fill="#c44546" />
<rect x="101.85" y="296.05" width="11.83" height="2.02" fill="#e39d9e" />
<rect x="113.38" y="296.05" width="11.83" height="2.02" fill="#bfbfe4" />
<rect x="124.91" y="296.05" width="11.83" height="2.02" fill="#6761ab" />
<rect x="136.44" y="296.05" width="11.83" height="2.02" fill="#a8a6d6" />
<rect x="44.20" y="297.77" width="11.83" height="2.02" fill="#f1dfe3" />
<rect x="55.73" y="297.77" width="11.83" height="2.02" fill="#d6d6ee" />
<rect x="67.26" y="297.77" width="11.83" height="2.02" fill="#f1eff6" />
<rect x="78.79" y="297.77" width="11.83" height="2.02" fill="#d97d7e" />
<rect x="90.32" y="297.77" width="11.83" height="2.02" fill="#c44646" />
<rect x="101.85" y="297.77" width="11.83" height="2.02" fill="#db8484" />
<rect x="113.38" y="297.77" width="11.83" height="2.02" fill="#8c88c3" />
<rect x="124.91" y="297.77" width="11.83" height="2.02" fill="#706bb1" />
<rect x="136.44" y="297.77" width="11.83" height="2.02" fill="#6761ab" />
<rect x="44.20" y="299.48" width="11.83" height="2.02" fill="#f3ebef" />
<rect x="55.73" y="299.48" width="11.83" height="2.02" fill="#e7e5f3" />
<rect x="67.26" y="299.48" width="11.83" height="2.02" fill="#f4f2f7" />
<rect x="78.79" y="299.48" width="11.83" height="2.02" fill="#f1dfe3" />
<rect x="90.32" y="299.48" width="11.83" height="2.02" fill="#e9b0b2" />
<rect x="101.85" y="299.48" width="11.83" height="2.02" fill="#e8acae" />
<rect x="113.38" y="299.48" width="11.83" height="2.02" fill="#9794ca" />
<rect x="124.91" y="299.48" width="11.83" height="2.02" fill="#665faa" />
<rect x="136.44" y="299.48" width="11.83" height="2.02" fill="#564e9b" />
<rect x="44.20" y="301.20" width="11.83" height="2.10" fill="#dd8889" />
<rect x="55.73" y="301.20" width="11.83" height="2.10" fill="#db8384" />
<rect x="67.26" y="301.20" width="11.83" height="2.10" fill="#d36969" />
<rect x="78.79" y="301.20" width="11.83" height="2.10" fill="#f1dce0" />
<rect x="90.32" y="301.20" width="11.83" height="2.10" fill="#f2e6ea" />
<rect x="101.85" y="301.20" width="11.83" height="2.10" fill="#eeecf5" />
<rect x="113.38" y="301.20" width="11.83" height="2.10" fill="#aeadda" />
<rect x="124.91" y="301.20" width="11.83" height="2.10" fill="#2a1e70" />
<rect x="136.44" y="301.20" width="11.83" height="2.10" fill="#6761ab" />
<rect x="44.20" y="303.00" width="11.83" height="2.10" fill="#d46b6b" />
<rect x="55.73" y="303.00" width="11.83" height="2.10" fill="#d05e5e" />
<rect x="67.26" y="303.00" width="11.83" height="2.10" fill="#cd5757" />
<rect x="78.79" y="303.00" width="11.83" height="2.10" fill="#f3e8ec" />
<rect x="90.32" y="303.00" width="11.83" height="2.10" fill="#eecccf" />
<rect x="101.85" y="303.00" width="11.83" height="2.10" fill="#f1dfe2" />
<rect x="113.38" y="303.00" width="11.83" height="2.10" fill="#c6c6e8" />
<rect x="124.91" y="303.00" width="11.83" height="2.10" fill="#4d4592" />
<rect x="136.44" y="303.00" width="11.83" height="2.10" fill="#9794cb" />
<rect x="44.20" y="304.80" width="11.83" height="2.10" fill="#e9b0b1" />
<rect x="55.73" y="304.80" width="11.83" height="2.10" fill="#dd8a8b" />
<rect x="67.26" y="304.80" width="11.83" height="2.10" fill="#dc8788" />
<rect x="78.79" y="304.80" width="11.83" height="2.10" fill="#edecf5" />
<rect x="90.32" y="304.80" width="11.83" height="2.10" fill="#f3ecf0" />
<rect x="101.85" y="304.80" width="11.83" height="2.10" fill="#e3e2f2" />
<rect x="113.38" y="304.80" width="11.83" height="2.10" fill="#bcbbe2" />
<rect x="124.91" y="304.80" width="11.83" height="2.10" fill="#3f3685" />
<rect x="136.44" y="304.80" width="11.83" height="2.10" fill="#938fc8" />
<rect x="44.20" y="306.60" width="11.83" height="2.10" fill="#dd898a" />
<rect x="55.73" y="306.60" width="11.83" height="2.10" fill="#da8081" />
<rect x="67.26" y="306.60" width="11.83" height="2.10" fill="#d3696a" />
<rect x="78.79" y="306.60" width="11.83" height="2.10" fill="#f2e4e8" />
<rect x="90.32" y="306.60" width="11.83" height="2.10" fill="#f1dde1" />
<rect x="101.85" y="306.60" width="11.83" height="2.10" fill="#e6e5f3" />
<rect x="113.38" y="306.60" width="11.83" height="2.10" fill="#a09ed0" />
<rect x="124.91" y="306.60" width="11.83" height="2.10" fill="#2b1f70" />
<rect x="136.44" y="306.60" width="11.83" height="2.10" fill="#7a75b7" />
<rect x="44.20" y="308.40" width="11.83" height="2.10" fill="#d87879" />
<rect x="55.73" y="308.40" width="11.83" height="2.10" fill="#dd8889" />
<rect x="67.26" y="308.40" width="11.83" height="2.10" fill="#cb5252" />
<rect x="78.79" y="308.40" width="11.83" height="2.10" fill="#f4f2f7" />
<rect x="90.32" y="308.40" width="11.83" height="2.10" fill="#edc4c7" />
<rect x="101.85" y="308.40" width="11.83" height="2.10" fill="#efcfd2" />
<rect x="113.38" y="308.40" width="11.83" height="2.10" fill="#c4c4e8" />
<rect x="124.91" y="308.40" width="11.83" height="2.10" fill="#5d56a1" />
<rect x="136.44" y="308.40" width="11.83" height="2.10" fill="#746fb4" />
<rect x="44.20" y="310.20" width="11.83" height="2.10" fill="#df8f91" />
<rect x="55.73" y="310.20" width="11.83" height="2.10" fill="#d97b7c" />
<rect x="67.26" y="310.20" width="11.83" height="2.10" fill="#de8d8e" />
<rect x="78.79" y="310.20" width="11.83" height="2.10" fill="#f0d4d7" />
<rect x="90.32" y="310.20" width="11.83" height="2.10" fill="#f3eaee" />
<rect x="101.85" y="310.20" width="11.83" height="2.10" fill="#f4eff4" />
<rect x="113.38" y="310.20" width="11.83" height="2.10" fill="#9794cb" />
<rect x="124.91" y="310.20" width="11.83" height="2.10" fill="#463d8b" />
<rect x="136.44" y="310.20" width="11.83" height="2.10" fill="#8c89c4" />
<rect x="44.20" y="312.00" width="11.83" height="2.10" fill="#e6a6a8" />
<rect x="55.73" y="312.00" width="11.83" height="2.10" fill="#e5a4a5" />
<rect x="67.26" y="312.00" width="11.83" height="2.10" fill="#d67272" />
<rect x="78.79" y="312.00" width="11.83" height="2.10" fill="#f2e3e7" />
<rect x="90.32" y="312.00" width="11.83" height="2.10" fill="#f2e1e5" />
<rect x="101.85" y="312.00" width="11.83" height="2.10" fill="#f2e1e6" />
<rect x="113.38" y="312.00" width="11.83" height="2.10" fill="#b8b8e0" />
<rect x="124.91" y="312.00" width="11.83" height="2.10" fill="#443b89" />
<rect x="136.44" y="312.00" width="11.83" height="2.10" fill="#5d56a1" />
<line x1="61.50" y1="214.60" x2="61.50" y2="213.00" stroke="#777" stroke-width="0.5" />
<line x1="73.03" y1="214.60" x2="73.03" y2="213.00" stroke="#777" stroke-width="0.5" />
<line x1="61.50" y1="213.00" x2="73.03" y2="213.00" stroke="#777" stroke-width="0.5" />
<line x1="49.97" y1="214.60" x2="49.97" y2="211.20" stroke="#777" stroke-width="0.5" />
<line x1="67.26" y1="213.00" x2="67.26" y2="211.20" stroke="#777" stroke-width="0.5" />
<line x1="49.97" y1="211.20" x2="67.26" y2="211.20" stroke="#777" stroke-width="0.5" />
<line x1="96.09" y1="214.60" x2="96.09" y2="213.00" stroke="#777" stroke-width="0.5" />
<line x1="107.62" y1="214.60" x2="107.62" y2="213.00" stroke="#777" stroke-width="0.5" />
<line x1="96.09" y1="213.00" x2="107.62" y2="213.00" stroke="#777" stroke-width="0.5" />
<line x1="84.56" y1="214.60" x2="84.56" y2="210.70" stroke="#777" stroke-width="0.5" />
<line x1="101.85" y1="213.00" x2="101.85" y2="210.70" stroke="#777" stroke-width="0.5" />
<line x1="84.56" y1="210.70" x2="101.85" y2="210.70" stroke="#777" stroke-width="0.5" />
<line x1="58.61" y1="211.20" x2="58.61" y2="206.50" stroke="#777" stroke-width="0.5" />
<line x1="93.20" y1="210.70" x2="93.20" y2="206.50" stroke="#777" stroke-width="0.5" />
<line x1="58.61" y1="206.50" x2="93.20" y2="206.50" stroke="#777" stroke-width="0.5" />
<line x1="130.68" y1="214.60" x2="130.68" y2="213.20" stroke="#777" stroke-width="0.5" />
<line x1="142.20" y1="214.60" x2="142.20" y2="213.20" stroke="#777" stroke-width="0.5" />
<line x1="130.68" y1="213.20" x2="142.20" y2="213.20" stroke="#777" stroke-width="0.5" />
<line x1="119.14" y1="214.60" x2="119.14" y2="210.70" stroke="#777" stroke-width="0.5" />
<line x1="136.44" y1="213.20" x2="136.44" y2="210.70" stroke="#777" stroke-width="0.5" />
<line x1="119.14" y1="210.70" x2="136.44" y2="210.70" stroke="#777" stroke-width="0.5" />
<line x1="75.91" y1="206.50" x2="75.91" y2="203.10" stroke="#777" stroke-width="0.5" />
<line x1="127.79" y1="210.70" x2="127.79" y2="203.10" stroke="#777" stroke-width="0.5" />
<line x1="75.91" y1="203.10" x2="127.79" y2="203.10" stroke="#777" stroke-width="0.5" />
<line x1="43.32" y1="215.63" x2="43.32" y2="216.32" stroke="#000" stroke-width="0.6" />
<line x1="43.32" y1="215.63" x2="44.00" y2="215.63" stroke="#000" stroke-width="0.6" />
<line x1="43.32" y1="216.32" x2="44.00" y2="216.32" stroke="#000" stroke-width="0.6" />
<line x1="41.39" y1="215.97" x2="41.39" y2="217.01" stroke="#000" stroke-width="0.6" />
<line x1="41.39" y1="215.97" x2="43.32" y2="215.97" stroke="#000" stroke-width="0.6" />
<line x1="41.39" y1="217.01" x2="44.00" y2="217.01" stroke="#000" stroke-width="0.6" />
<line x1="42.32" y1="218.38" x2="42.32" y2="219.07" stroke="#000" stroke-width="0.6" />
<line x1="42.32" y1="218.38" x2="44.00" y2="218.38" stroke="#000" stroke-width="0.6" />
<line x1="42.32" y1="219.07" x2="44.00" y2="219.07" stroke="#000" stroke-width="0.6" />
<line x1="40.48" y1="218.72" x2="40.48" y2="219.76" stroke="#000" stroke-width="0.6" />
<line x1="40.48" y1="218.72" x2="42.32" y2="218.72" stroke="#000" stroke-width="0.6" />
<line x1="40.48" y1="219.76" x2="44.00" y2="219.76" stroke="#000" stroke-width="0.6" />
<line x1="38.59" y1="219.24" x2="38.59" y2="220.44" stroke="#000" stroke-width="0.6" />
<line x1="38.59" y1="219.24" x2="40.48" y2="219.24" stroke="#000" stroke-width="0.6" />
<line x1="38.59" y1="220.44" x2="44.00" y2="220.44" stroke="#000" stroke-width="0.6" />
<line x1="37.86" y1="217.69" x2="37.86" y2="219.84" stroke="#000" stroke-width="0.6" />
<line x1="37.86" y1="217.69" x2="44.00" y2="217.69" stroke="#000" stroke-width="0.6" />
<line x1="37.86" y1="219.84" x2="38.59" y2="219.84" stroke="#000" stroke-width="0.6" />
<line x1="43.14" y1="221.13" x2="43.14" y2="221.82" stroke="#000" stroke-width="0.6" />
<line x1="43.14" y1="221.13" x2="44.00" y2="221.13" stroke="#000" stroke-width="0.6" />
<line x1="43.14" y1="221.82" x2="44.00" y2="221.82" stroke="#000" stroke-width="0.6" />
<line x1="42.45" y1="222.51" x2="42.45" y2="223.19" stroke="#000" stroke-width="0.6" />
<line x1="42.45" y1="222.51" x2="44.00" y2="222.51" stroke="#000" stroke-width="0.6" />
<line x1="42.45" y1="223.19" x2="44.00" y2="223.19" stroke="#000" stroke-width="0.6" />
<line x1="42.04" y1="221.47" x2="42.04" y2="222.85" stroke="#000" stroke-width="0.6" />
<line x1="42.04" y1="221.47" x2="43.14" y2="221.47" stroke="#000" stroke-width="0.6" />
<line x1="42.04" y1="222.85" x2="42.45" y2="222.85" stroke="#000" stroke-width="0.6" />
<line x1="40.97" y1="222.16" x2="40.97" y2="223.88" stroke="#000" stroke-width="0.6" />
<line x1="40.97" y1="222.16" x2="42.04" y2="222.16" stroke="#000" stroke-width="0.6" />
<line x1="40.97" y1="223.88" x2="44.00" y2="223.88" stroke="#000" stroke-width="0.6" />
<line x1="36.00" y1="218.77" x2="36.00" y2="223.02" stroke="#000" stroke-width="0.6" />
<line x1="36.00" y1="218.77" x2="37.86" y2="218.77" stroke="#000" stroke-width="0.6" />
<line x1="36.00" y1="223.02" x2="40.97" y2="223.02" stroke="#000" stroke-width="0.6" />
<line x1="34.23" y1="216.49" x2="34.23" y2="220.89" stroke="#000" stroke-width="0.6" />
<line x1="34.23" y1="216.49" x2="41.39" y2="216.49" stroke="#000" stroke-width="0.6" />
<line x1="34.23" y1="220.89" x2="36.00" y2="220.89" stroke="#000" stroke-width="0.6" />
<line x1="33.60" y1="218.69" x2="33.60" y2="224.57" stroke="#000" stroke-width="0.6" />
<line x1="33.60" y1="218.69" x2="34.23" y2="218.69" stroke="#000" stroke-width="0.6" />
<line x1="33.60" y1="224.57" x2="44.00" y2="224.57" stroke="#000" stroke-width="0.6" />
<line x1="32.82" y1="221.63" x2="32.82" y2="225.26" stroke="#000" stroke-width="0.6" />
<line x1="32.82" y1="221.63" x2="33.60" y2="221.63" stroke="#000" stroke-width="0.6" />
<line x1="32.82" y1="225.26" x2="44.00" y2="225.26" stroke="#000" stroke-width="0.6" />
<line x1="18.40" y1="214.94" x2="18.40" y2="223.44" stroke="#888" stroke-width="0.5" />
<line x1="18.40" y1="214.94" x2="44.00" y2="214.94" stroke="#888" stroke-width="0.5" />
<line x1="18.40" y1="223.44" x2="32.82" y2="223.44" stroke="#888" stroke-width="0.5" />
<line x1="43.09" y1="227.95" x2="43.09" y2="228.62" stroke="#000" stroke-width="0.6" />
<line x1="43.09" y1="227.95" x2="44.00" y2="227.95" stroke="#000" stroke-width="0.6" />
<line x1="43.09" y1="228.62" x2="44.00" y2="228.62" stroke="#000" stroke-width="0.6" />
<line x1="42.56" y1="228.28" x2="42.56" y2="229.29" stroke="#000" stroke-width="0.6" />
<line x1="42.56" y1="228.28" x2="43.09" y2="228.28" stroke="#000" stroke-width="0.6" />
<line x1="42.56" y1="229.29" x2="44.00" y2="229.29" stroke="#000" stroke-width="0.6" />
<line x1="43.30" y1="229.96" x2="43.30" y2="230.63" stroke="#000" stroke-width="0.6" />
<line x1="43.30" y1="229.96" x2="44.00" y2="229.96" stroke="#000" stroke-width="0.6" />
<line x1="43.30" y1="230.63" x2="44.00" y2="230.63" stroke="#000" stroke-width="0.6" />
<line x1="42.32" y1="228.79" x2="42.32" y2="230.30" stroke="#000" stroke-width="0.6" />
<line x1="42.32" y1="228.79" x2="42.56" y2="228.79" stroke="#000" stroke-width="0.6" />
<line x1="42.32" y1="230.30" x2="43.30" y2="230.30" stroke="#000" stroke-width="0.6" />
<line x1="41.82" y1="229.54" x2="41.82" y2="231.30" stroke="#000" stroke-width="0.6" />
<line x1="41.82" y1="229.54" x2="42.32" y2="229.54" stroke="#000" stroke-width="0.6" />
<line x1="41.82" y1="231.30" x2="44.00" y2="231.30" stroke="#000" stroke-width="0.6" />
<line x1="41.06" y1="227.28" x2="41.06" y2="230.42" stroke="#000" stroke-width="0.6" />
<line x1="41.06" y1="227.28" x2="44.00" y2="227.28" stroke="#000" stroke-width="0.6" />
<line x1="41.06" y1="230.42" x2="41.82" y2="230.42" stroke="#000" stroke-width="0.6" />
<line x1="43.71" y1="231.97" x2="43.71" y2="232.64" stroke="#000" stroke-width="0.6" />
<line x1="43.71" y1="231.97" x2="44.00" y2="231.97" stroke="#000" stroke-width="0.6" />
<line x1="43.71" y1="232.64" x2="44.00" y2="232.64" stroke="#000" stroke-width="0.6" />
<line x1="42.78" y1="232.31" x2="42.78" y2="233.31" stroke="#000" stroke-width="0.6" />
<line x1="42.78" y1="232.31" x2="43.71" y2="232.31" stroke="#000" stroke-width="0.6" />
<line x1="42.78" y1="233.31" x2="44.00" y2="233.31" stroke="#000" stroke-width="0.6" />
<line x1="40.56" y1="228.85" x2="40.56" y2="232.81" stroke="#000" stroke-width="0.6" />
<line x1="40.56" y1="228.85" x2="41.06" y2="228.85" stroke="#000" stroke-width="0.6" />
<line x1="40.56" y1="232.81" x2="42.78" y2="232.81" stroke="#000" stroke-width="0.6" />
<line x1="43.78" y1="236.67" x2="43.78" y2="237.34" stroke="#000" stroke-width="0.6" />
<line x1="43.78" y1="236.67" x2="44.00" y2="236.67" stroke="#000" stroke-width="0.6" />
<line x1="43.78" y1="237.34" x2="44.00" y2="237.34" stroke="#000" stroke-width="0.6" />
<line x1="43.38" y1="238.68" x2="43.38" y2="239.35" stroke="#000" stroke-width="0.6" />
<line x1="43.38" y1="238.68" x2="44.00" y2="238.68" stroke="#000" stroke-width="0.6" />
<line x1="43.38" y1="239.35" x2="44.00" y2="239.35" stroke="#000" stroke-width="0.6" />
<line x1="42.40" y1="238.01" x2="42.40" y2="239.01" stroke="#000" stroke-width="0.6" />
<line x1="42.40" y1="238.01" x2="44.00" y2="238.01" stroke="#000" stroke-width="0.6" />
<line x1="42.40" y1="239.01" x2="43.38" y2="239.01" stroke="#000" stroke-width="0.6" />
<line x1="41.74" y1="238.51" x2="41.74" y2="240.02" stroke="#000" stroke-width="0.6" />
<line x1="41.74" y1="238.51" x2="42.40" y2="238.51" stroke="#000" stroke-width="0.6" />
<line x1="41.74" y1="240.02" x2="44.00" y2="240.02" stroke="#000" stroke-width="0.6" />
<line x1="41.42" y1="239.27" x2="41.42" y2="240.69" stroke="#000" stroke-width="0.6" />
<line x1="41.42" y1="239.27" x2="41.74" y2="239.27" stroke="#000" stroke-width="0.6" />
<line x1="41.42" y1="240.69" x2="44.00" y2="240.69" stroke="#000" stroke-width="0.6" />
<line x1="43.76" y1="241.36" x2="43.76" y2="242.03" stroke="#000" stroke-width="0.6" />
<line x1="43.76" y1="241.36" x2="44.00" y2="241.36" stroke="#000" stroke-width="0.6" />
<line x1="43.76" y1="242.03" x2="44.00" y2="242.03" stroke="#000" stroke-width="0.6" />
<line x1="42.76" y1="241.70" x2="42.76" y2="242.70" stroke="#000" stroke-width="0.6" />
<line x1="42.76" y1="241.70" x2="43.76" y2="241.70" stroke="#000" stroke-width="0.6" />
<line x1="42.76" y1="242.70" x2="44.00" y2="242.70" stroke="#000" stroke-width="0.6" />
<line x1="41.08" y1="239.98" x2="41.08" y2="242.20" stroke="#000" stroke-width="0.6" />
<line x1="41.08" y1="239.98" x2="41.42" y2="239.98" stroke="#000" stroke-width="0.6" />
<line x1="41.08" y1="242.20" x2="42.76" y2="242.20" stroke="#000" stroke-width="0.6" />
<line x1="40.10" y1="237.00" x2="40.10" y2="241.09" stroke="#000" stroke-width="0.6" />
<line x1="40.10" y1="237.00" x2="43.78" y2="237.00" stroke="#000" stroke-width="0.6" />
<line x1="40.10" y1="241.09" x2="41.08" y2="241.09" stroke="#000" stroke-width="0.6" />
<line x1="39.09" y1="236.00" x2="39.09" y2="239.05" stroke="#000" stroke-width="0.6" />
<line x1="39.09" y1="236.00" x2="44.00" y2="236.00" stroke="#000" stroke-width="0.6" />
<line x1="39.09" y1="239.05" x2="40.10" y2="239.05" stroke="#000" stroke-width="0.6" />
<line x1="38.40" y1="235.33" x2="38.40" y2="237.52" stroke="#000" stroke-width="0.6" />
<line x1="38.40" y1="235.33" x2="44.00" y2="235.33" stroke="#000" stroke-width="0.6" />
<line x1="38.40" y1="237.52" x2="39.09" y2="237.52" stroke="#000" stroke-width="0.6" />
<line x1="38.18" y1="234.65" x2="38.18" y2="236.42" stroke="#000" stroke-width="0.6" />
<line x1="38.18" y1="234.65" x2="44.00" y2="234.65" stroke="#000" stroke-width="0.6" />
<line x1="38.18" y1="236.42" x2="38.40" y2="236.42" stroke="#000" stroke-width="0.6" />
<line x1="37.93" y1="235.54" x2="37.93" y2="243.37" stroke="#000" stroke-width="0.6" />
<line x1="37.93" y1="235.54" x2="38.18" y2="235.54" stroke="#000" stroke-width="0.6" />
<line x1="37.93" y1="243.37" x2="44.00" y2="243.37" stroke="#000" stroke-width="0.6" />
<line x1="43.34" y1="245.39" x2="43.34" y2="246.06" stroke="#000" stroke-width="0.6" />
<line x1="43.34" y1="245.39" x2="44.00" y2="245.39" stroke="#000" stroke-width="0.6" />
<line x1="43.34" y1="246.06" x2="44.00" y2="246.06" stroke="#000" stroke-width="0.6" />
<line x1="43.02" y1="244.72" x2="43.02" y2="245.72" stroke="#000" stroke-width="0.6" />
<line x1="43.02" y1="244.72" x2="44.00" y2="244.72" stroke="#000" stroke-width="0.6" />
<line x1="43.02" y1="245.72" x2="43.34" y2="245.72" stroke="#000" stroke-width="0.6" />
<line x1="42.75" y1="244.05" x2="42.75" y2="245.22" stroke="#000" stroke-width="0.6" />
<line x1="42.75" y1="244.05" x2="44.00" y2="244.05" stroke="#000" stroke-width="0.6" />
<line x1="42.75" y1="245.22" x2="43.02" y2="245.22" stroke="#000" stroke-width="0.6" />
<line x1="37.27" y1="239.46" x2="37.27" y2="244.63" stroke="#000" stroke-width="0.6" />
<line x1="37.27" y1="239.46" x2="37.93" y2="239.46" stroke="#000" stroke-width="0.6" />
<line x1="37.27" y1="244.63" x2="42.75" y2="244.63" stroke="#000" stroke-width="0.6" />
<line x1="36.50" y1="233.98" x2="36.50" y2="242.04" stroke="#000" stroke-width="0.6" />
<line x1="36.50" y1="233.98" x2="44.00" y2="233.98" stroke="#000" stroke-width="0.6" />
<line x1="36.50" y1="242.04" x2="37.27" y2="242.04" stroke="#000" stroke-width="0.6" />
<line x1="36.24" y1="230.83" x2="36.24" y2="238.01" stroke="#000" stroke-width="0.6" />
<line x1="36.24" y1="230.83" x2="40.56" y2="230.83" stroke="#000" stroke-width="0.6" />
<line x1="36.24" y1="238.01" x2="36.50" y2="238.01" stroke="#000" stroke-width="0.6" />
<line x1="43.51" y1="247.40" x2="43.51" y2="248.07" stroke="#000" stroke-width="0.6" />
<line x1="43.51" y1="247.40" x2="44.00" y2="247.40" stroke="#000" stroke-width="0.6" />
<line x1="43.51" y1="248.07" x2="44.00" y2="248.07" stroke="#000" stroke-width="0.6" />
<line x1="42.56" y1="246.73" x2="42.56" y2="247.73" stroke="#000" stroke-width="0.6" />
<line x1="42.56" y1="246.73" x2="44.00" y2="246.73" stroke="#000" stroke-width="0.6" />
<line x1="42.56" y1="247.73" x2="43.51" y2="247.73" stroke="#000" stroke-width="0.6" />
<line x1="43.65" y1="250.08" x2="43.65" y2="250.75" stroke="#000" stroke-width="0.6" />
<line x1="43.65" y1="250.08" x2="44.00" y2="250.08" stroke="#000" stroke-width="0.6" />
<line x1="43.65" y1="250.75" x2="44.00" y2="250.75" stroke="#000" stroke-width="0.6" />
<line x1="43.08" y1="250.42" x2="43.08" y2="251.42" stroke="#000" stroke-width="0.6" />
<line x1="43.08" y1="250.42" x2="43.65" y2="250.42" stroke="#000" stroke-width="0.6" />
<line x1="43.08" y1="251.42" x2="44.00" y2="251.42" stroke="#000" stroke-width="0.6" />
<line x1="42.42" y1="249.41" x2="42.42" y2="250.92" stroke="#000" stroke-width="0.6" />
<line x1="42.42" y1="249.41" x2="44.00" y2="249.41" stroke="#000" stroke-width="0.6" />
<line x1="42.42" y1="250.92" x2="43.08" y2="250.92" stroke="#000" stroke-width="0.6" />
<line x1="41.90" y1="248.74" x2="41.90" y2="250.17" stroke="#000" stroke-width="0.6" />
<line x1="41.90" y1="248.74" x2="44.00" y2="248.74" stroke="#000" stroke-width="0.6" />
<line x1="41.90" y1="250.17" x2="42.42" y2="250.17" stroke="#000" stroke-width="0.6" />
<line x1="41.55" y1="247.23" x2="41.55" y2="249.45" stroke="#000" stroke-width="0.6" />
<line x1="41.55" y1="247.23" x2="42.56" y2="247.23" stroke="#000" stroke-width="0.6" />
<line x1="41.55" y1="249.45" x2="41.90" y2="249.45" stroke="#000" stroke-width="0.6" />
<line x1="43.08" y1="252.09" x2="43.08" y2="252.76" stroke="#000" stroke-width="0.6" />
<line x1="43.08" y1="252.09" x2="44.00" y2="252.09" stroke="#000" stroke-width="0.6" />
<line x1="43.08" y1="252.76" x2="44.00" y2="252.76" stroke="#000" stroke-width="0.6" />
<line x1="42.41" y1="252.43" x2="42.41" y2="253.44" stroke="#000" stroke-width="0.6" />
<line x1="42.41" y1="252.43" x2="43.08" y2="252.43" stroke="#000" stroke-width="0.6" />
<line x1="42.41" y1="253.44" x2="44.00" y2="253.44" stroke="#000" stroke-width="0.6" />
<line x1="41.43" y1="252.93" x2="41.43" y2="254.11" stroke="#000" stroke-width="0.6" />
<line x1="41.43" y1="252.93" x2="42.41" y2="252.93" stroke="#000" stroke-width="0.6" />
<line x1="41.43" y1="254.11" x2="44.00" y2="254.11" stroke="#000" stroke-width="0.6" />
<line x1="41.17" y1="253.52" x2="41.17" y2="254.78" stroke="#000" stroke-width="0.6" />
<line x1="41.17" y1="253.52" x2="41.43" y2="253.52" stroke="#000" stroke-width="0.6" />
<line x1="41.17" y1="254.78" x2="44.00" y2="254.78" stroke="#000" stroke-width="0.6" />
<line x1="40.79" y1="254.15" x2="40.79" y2="255.45" stroke="#000" stroke-width="0.6" />
<line x1="40.79" y1="254.15" x2="41.17" y2="254.15" stroke="#000" stroke-width="0.6" />
<line x1="40.79" y1="255.45" x2="44.00" y2="255.45" stroke="#000" stroke-width="0.6" />
<line x1="40.47" y1="254.80" x2="40.47" y2="256.12" stroke="#000" stroke-width="0.6" />
<line x1="40.47" y1="254.80" x2="40.79" y2="254.80" stroke="#000" stroke-width="0.6" />
<line x1="40.47" y1="256.12" x2="44.00" y2="256.12" stroke="#000" stroke-width="0.6" />
<line x1="40.18" y1="248.34" x2="40.18" y2="255.46" stroke="#000" stroke-width="0.6" />
<line x1="40.18" y1="248.34" x2="41.55" y2="248.34" stroke="#000" stroke-width="0.6" />
<line x1="40.18" y1="255.46" x2="40.47" y2="255.46" stroke="#000" stroke-width="0.6" />
<line x1="39.58" y1="251.90" x2="39.58" y2="256.79" stroke="#000" stroke-width="0.6" />
<line x1="39.58" y1="251.90" x2="40.18" y2="251.90" stroke="#000" stroke-width="0.6" />
<line x1="39.58" y1="256.79" x2="44.00" y2="256.79" stroke="#000" stroke-width="0.6" />
<line x1="35.99" y1="234.42" x2="35.99" y2="254.34" stroke="#000" stroke-width="0.6" />
<line x1="35.99" y1="234.42" x2="36.24" y2="234.42" stroke="#000" stroke-width="0.6" />
<line x1="35.99" y1="254.34" x2="39.58" y2="254.34" stroke="#000" stroke-width="0.6" />
<line x1="35.06" y1="226.61" x2="35.06" y2="244.38" stroke="#000" stroke-width="0.6" />
<line x1="35.06" y1="226.61" x2="44.00" y2="226.61" stroke="#000" stroke-width="0.6" />
<line x1="35.06" y1="244.38" x2="35.99" y2="244.38" stroke="#000" stroke-width="0.6" />
<line x1="34.27" y1="225.94" x2="34.27" y2="235.49" stroke="#000" stroke-width="0.6" />
<line x1="34.27" y1="225.94" x2="44.00" y2="225.94" stroke="#000" stroke-width="0.6" />
<line x1="34.27" y1="235.49" x2="35.06" y2="235.49" stroke="#000" stroke-width="0.6" />
<line x1="33.51" y1="230.72" x2="33.51" y2="257.46" stroke="#000" stroke-width="0.6" />
<line x1="33.51" y1="230.72" x2="34.27" y2="230.72" stroke="#000" stroke-width="0.6" />
<line x1="33.51" y1="257.46" x2="44.00" y2="257.46" stroke="#000" stroke-width="0.6" />
<line x1="33.28" y1="244.09" x2="33.28" y2="258.13" stroke="#000" stroke-width="0.6" />
<line x1="33.28" y1="244.09" x2="33.51" y2="244.09" stroke="#000" stroke-width="0.6" />
<line x1="33.28" y1="258.13" x2="44.00" y2="258.13" stroke="#000" stroke-width="0.6" />
<line x1="32.88" y1="251.11" x2="32.88" y2="258.80" stroke="#000" stroke-width="0.6" />
<line x1="32.88" y1="251.11" x2="33.28" y2="251.11" stroke="#000" stroke-width="0.6" />
<line x1="32.88" y1="258.80" x2="44.00" y2="258.80" stroke="#000" stroke-width="0.6" />
<line x1="31.81" y1="254.96" x2="31.81" y2="259.47" stroke="#888" stroke-width="0.5" />
<line x1="31.81" y1="254.96" x2="32.88" y2="254.96" stroke="#888" stroke-width="0.5" />
<line x1="31.81" y1="259.47" x2="44.00" y2="259.47" stroke="#888" stroke-width="0.5" />
<line x1="30.03" y1="257.21" x2="30.03" y2="260.14" stroke="#888" stroke-width="0.5" />
<line x1="30.03" y1="257.21" x2="31.81" y2="257.21" stroke="#888" stroke-width="0.5" />
<line x1="30.03" y1="260.14" x2="44.00" y2="260.14" stroke="#888" stroke-width="0.5" />
<line x1="43.52" y1="262.83" x2="43.52" y2="263.50" stroke="#000" stroke-width="0.6" />
<line x1="43.52" y1="262.83" x2="44.00" y2="262.83" stroke="#000" stroke-width="0.6" />
<line x1="43.52" y1="263.50" x2="44.00" y2="263.50" stroke="#000" stroke-width="0.6" />
<line x1="42.68" y1="263.16" x2="42.68" y2="264.17" stroke="#000" stroke-width="0.6" />
<line x1="42.68" y1="263.16" x2="43.52" y2="263.16" stroke="#000" stroke-width="0.6" />
<line x1="42.68" y1="264.17" x2="44.00" y2="264.17" stroke="#000" stroke-width="0.6" />
<line x1="42.47" y1="262.15" x2="42.47" y2="263.66" stroke="#000" stroke-width="0.6" />
<line x1="42.47" y1="262.15" x2="44.00" y2="262.15" stroke="#000" stroke-width="0.6" />
<line x1="42.47" y1="263.66" x2="42.68" y2="263.66" stroke="#000" stroke-width="0.6" />
<line x1="43.71" y1="266.18" x2="43.71" y2="266.85" stroke="#000" stroke-width="0.6" />
<line x1="43.71" y1="266.18" x2="44.00" y2="266.18" stroke="#000" stroke-width="0.6" />
<line x1="43.71" y1="266.85" x2="44.00" y2="266.85" stroke="#000" stroke-width="0.6" />
<line x1="43.46" y1="266.51" x2="43.46" y2="267.52" stroke="#000" stroke-width="0.6" />
<line x1="43.46" y1="266.51" x2="43.71" y2="266.51" stroke="#000" stroke-width="0.6" />
<line x1="43.46" y1="267.52" x2="44.00" y2="267.52" stroke="#000" stroke-width="0.6" />
<line x1="43.20" y1="267.02" x2="43.20" y2="268.19" stroke="#000" stroke-width="0.6" />
<line x1="43.20" y1="267.02" x2="43.46" y2="267.02" stroke="#000" stroke-width="0.6" />
<line x1="43.20" y1="268.19" x2="44.00" y2="268.19" stroke="#000" stroke-width="0.6" />
<line x1="42.47" y1="265.51" x2="42.47" y2="267.60" stroke="#000" stroke-width="0.6" />
<line x1="42.47" y1="265.51" x2="44.00" y2="265.51" stroke="#000" stroke-width="0.6" />
<line x1="42.47" y1="267.60" x2="43.20" y2="267.60" stroke="#000" stroke-width="0.6" />
<line x1="42.20" y1="264.84" x2="42.20" y2="266.56" stroke="#000" stroke-width="0.6" />
<line x1="42.20" y1="264.84" x2="44.00" y2="264.84" stroke="#000" stroke-width="0.6" />
<line x1="42.20" y1="266.56" x2="42.47" y2="266.56" stroke="#000" stroke-width="0.6" />
<line x1="43.60" y1="270.20" x2="43.60" y2="270.87" stroke="#000" stroke-width="0.6" />
<line x1="43.60" y1="270.20" x2="44.00" y2="270.20" stroke="#000" stroke-width="0.6" />
<line x1="43.60" y1="270.87" x2="44.00" y2="270.87" stroke="#000" stroke-width="0.6" />
<line x1="43.19" y1="269.53" x2="43.19" y2="270.54" stroke="#000" stroke-width="0.6" />
<line x1="43.19" y1="269.53" x2="44.00" y2="269.53" stroke="#000" stroke-width="0.6" />
<line x1="43.19" y1="270.54" x2="43.60" y2="270.54" stroke="#000" stroke-width="0.6" />
<line x1="42.57" y1="268.86" x2="42.57" y2="270.04" stroke="#000" stroke-width="0.6" />
<line x1="42.57" y1="268.86" x2="44.00" y2="268.86" stroke="#000" stroke-width="0.6" />
<line x1="42.57" y1="270.04" x2="43.19" y2="270.04" stroke="#000" stroke-width="0.6" />
<line x1="41.83" y1="265.70" x2="41.83" y2="269.45" stroke="#000" stroke-width="0.6" />
<line x1="41.83" y1="265.70" x2="42.20" y2="265.70" stroke="#000" stroke-width="0.6" />
<line x1="41.83" y1="269.45" x2="42.57" y2="269.45" stroke="#000" stroke-width="0.6" />
<line x1="41.27" y1="262.91" x2="41.27" y2="267.57" stroke="#000" stroke-width="0.6" />
<line x1="41.27" y1="262.91" x2="42.47" y2="262.91" stroke="#000" stroke-width="0.6" />
<line x1="41.27" y1="267.57" x2="41.83" y2="267.57" stroke="#000" stroke-width="0.6" />
<line x1="40.30" y1="261.48" x2="40.30" y2="265.24" stroke="#000" stroke-width="0.6" />
<line x1="40.30" y1="261.48" x2="44.00" y2="261.48" stroke="#000" stroke-width="0.6" />
<line x1="40.30" y1="265.24" x2="41.27" y2="265.24" stroke="#000" stroke-width="0.6" />
<line x1="40.08" y1="263.36" x2="40.08" y2="271.55" stroke="#000" stroke-width="0.6" />
<line x1="40.08" y1="263.36" x2="40.30" y2="263.36" stroke="#000" stroke-width="0.6" />
<line x1="40.08" y1="271.55" x2="44.00" y2="271.55" stroke="#000" stroke-width="0.6" />
<line x1="39.79" y1="260.81" x2="39.79" y2="267.45" stroke="#000" stroke-width="0.6" />
<line x1="39.79" y1="260.81" x2="44.00" y2="260.81" stroke="#000" stroke-width="0.6" />
<line x1="39.79" y1="267.45" x2="40.08" y2="267.45" stroke="#000" stroke-width="0.6" />
<line x1="38.93" y1="264.13" x2="38.93" y2="272.22" stroke="#000" stroke-width="0.6" />
<line x1="38.93" y1="264.13" x2="39.79" y2="264.13" stroke="#000" stroke-width="0.6" />
<line x1="38.93" y1="272.22" x2="44.00" y2="272.22" stroke="#000" stroke-width="0.6" />
<line x1="43.69" y1="273.56" x2="43.69" y2="274.23" stroke="#000" stroke-width="0.6" />
<line x1="43.69" y1="273.56" x2="44.00" y2="273.56" stroke="#000" stroke-width="0.6" />
<line x1="43.69" y1="274.23" x2="44.00" y2="274.23" stroke="#000" stroke-width="0.6" />
<line x1="43.45" y1="273.89" x2="43.45" y2="274.90" stroke="#000" stroke-width="0.6" />
<line x1="43.45" y1="273.89" x2="43.69" y2="273.89" stroke="#000" stroke-width="0.6" />
<line x1="43.45" y1="274.90" x2="44.00" y2="274.90" stroke="#000" stroke-width="0.6" />
<line x1="43.10" y1="274.40" x2="43.10" y2="275.57" stroke="#000" stroke-width="0.6" />
<line x1="43.10" y1="274.40" x2="43.45" y2="274.40" stroke="#000" stroke-width="0.6" />
<line x1="43.10" y1="275.57" x2="44.00" y2="275.57" stroke="#000" stroke-width="0.6" />
<line x1="42.61" y1="272.89" x2="42.61" y2="274.98" stroke="#000" stroke-width="0.6" />
<line x1="42.61" y1="272.89" x2="44.00" y2="272.89" stroke="#000" stroke-width="0.6" />
<line x1="42.61" y1="274.98" x2="43.10" y2="274.98" stroke="#000" stroke-width="0.6" />
<line x1="37.93" y1="268.17" x2="37.93" y2="273.93" stroke="#000" stroke-width="0.6" />
<line x1="37.93" y1="268.17" x2="38.93" y2="268.17" stroke="#000" stroke-width="0.6" />
<line x1="37.93" y1="273.93" x2="42.61" y2="273.93" stroke="#000" stroke-width="0.6" />
<line x1="43.59" y1="277.58" x2="43.59" y2="278.25" stroke="#000" stroke-width="0.6" />
<line x1="43.59" y1="277.58" x2="44.00" y2="277.58" stroke="#000" stroke-width="0.6" />
<line x1="43.59" y1="278.25" x2="44.00" y2="278.25" stroke="#000" stroke-width="0.6" />
<line x1="42.90" y1="276.91" x2="42.90" y2="277.92" stroke="#000" stroke-width="0.6" />
<line x1="42.90" y1="276.91" x2="44.00" y2="276.91" stroke="#000" stroke-width="0.6" />
<line x1="42.90" y1="277.92" x2="43.59" y2="277.92" stroke="#000" stroke-width="0.6" />
<line x1="43.45" y1="279.59" x2="43.45" y2="280.26" stroke="#000" stroke-width="0.6" />
<line x1="43.45" y1="279.59" x2="44.00" y2="279.59" stroke="#000" stroke-width="0.6" />
<line x1="43.45" y1="280.26" x2="44.00" y2="280.26" stroke="#000" stroke-width="0.6" />
<line x1="43.18" y1="278.92" x2="43.18" y2="279.93" stroke="#000" stroke-width="0.6" />
<line x1="43.18" y1="278.92" x2="44.00" y2="278.92" stroke="#000" stroke-width="0.6" />
<line x1="43.18" y1="279.93" x2="43.45" y2="279.93" stroke="#000" stroke-width="0.6" />
<line x1="42.45" y1="277.41" x2="42.45" y2="279.43" stroke="#000" stroke-width="0.6" />
<line x1="42.45" y1="277.41" x2="42.90" y2="277.41" stroke="#000" stroke-width="0.6" />
<line x1="42.45" y1="279.43" x2="43.18" y2="279.43" stroke="#000" stroke-width="0.6" />
<line x1="41.87" y1="276.24" x2="41.87" y2="278.42" stroke="#000" stroke-width="0.6" />
<line x1="41.87" y1="276.24" x2="44.00" y2="276.24" stroke="#000" stroke-width="0.6" />
<line x1="41.87" y1="278.42" x2="42.45" y2="278.42" stroke="#000" stroke-width="0.6" />
<line x1="36.97" y1="271.05" x2="36.97" y2="277.33" stroke="#000" stroke-width="0.6" />
<line x1="36.97" y1="271.05" x2="37.93" y2="271.05" stroke="#000" stroke-width="0.6" />
<line x1="36.97" y1="277.33" x2="41.87" y2="277.33" stroke="#000" stroke-width="0.6" />
<line x1="28.00" y1="258.68" x2="28.00" y2="274.19" stroke="#888" stroke-width="0.5" />
<line x1="28.00" y1="258.68" x2="30.03" y2="258.68" stroke="#888" stroke-width="0.5" />
<line x1="28.00" y1="274.19" x2="36.97" y2="274.19" stroke="#888" stroke-width="0.5" />
<line x1="43.57" y1="284.92" x2="43.57" y2="285.58" stroke="#000" stroke-width="0.6" />
<line x1="43.57" y1="284.92" x2="44.00" y2="284.92" stroke="#000" stroke-width="0.6" />
<line x1="43.57" y1="285.58" x2="44.00" y2="285.58" stroke="#000" stroke-width="0.6" />
<line x1="42.35" y1="284.25" x2="42.35" y2="285.25" stroke="#000" stroke-width="0.6" />
<line x1="42.35" y1="284.25" x2="44.00" y2="284.25" stroke="#000" stroke-width="0.6" />
<line x1="42.35" y1="285.25" x2="43.57" y2="285.25" stroke="#000" stroke-width="0.6" />
<line x1="42.52" y1="286.25" x2="42.52" y2="286.91" stroke="#000" stroke-width="0.6" />
<line x1="42.52" y1="286.25" x2="44.00" y2="286.25" stroke="#000" stroke-width="0.6" />
<line x1="42.52" y1="286.91" x2="44.00" y2="286.91" stroke="#000" stroke-width="0.6" />
<line x1="41.60" y1="284.75" x2="41.60" y2="286.58" stroke="#000" stroke-width="0.6" />
<line x1="41.60" y1="284.75" x2="42.35" y2="284.75" stroke="#000" stroke-width="0.6" />
<line x1="41.60" y1="286.58" x2="42.52" y2="286.58" stroke="#000" stroke-width="0.6" />
<line x1="40.16" y1="283.59" x2="40.16" y2="285.67" stroke="#000" stroke-width="0.6" />
<line x1="40.16" y1="283.59" x2="44.00" y2="283.59" stroke="#000" stroke-width="0.6" />
<line x1="40.16" y1="285.67" x2="41.60" y2="285.67" stroke="#000" stroke-width="0.6" />
<line x1="43.55" y1="288.91" x2="43.55" y2="289.57" stroke="#000" stroke-width="0.6" />
<line x1="43.55" y1="288.91" x2="44.00" y2="288.91" stroke="#000" stroke-width="0.6" />
<line x1="43.55" y1="289.57" x2="44.00" y2="289.57" stroke="#000" stroke-width="0.6" />
<line x1="42.78" y1="288.24" x2="42.78" y2="289.24" stroke="#000" stroke-width="0.6" />
<line x1="42.78" y1="288.24" x2="44.00" y2="288.24" stroke="#000" stroke-width="0.6" />
<line x1="42.78" y1="289.24" x2="43.55" y2="289.24" stroke="#000" stroke-width="0.6" />
<line x1="43.16" y1="290.90" x2="43.16" y2="291.56" stroke="#000" stroke-width="0.6" />
<line x1="43.16" y1="290.90" x2="44.00" y2="290.90" stroke="#000" stroke-width="0.6" />
<line x1="43.16" y1="291.56" x2="44.00" y2="291.56" stroke="#000" stroke-width="0.6" />
<line x1="42.05" y1="290.24" x2="42.05" y2="291.23" stroke="#000" stroke-width="0.6" />
<line x1="42.05" y1="290.24" x2="44.00" y2="290.24" stroke="#000" stroke-width="0.6" />
<line x1="42.05" y1="291.23" x2="43.16" y2="291.23" stroke="#000" stroke-width="0.6" />
<line x1="43.20" y1="292.23" x2="43.20" y2="292.89" stroke="#000" stroke-width="0.6" />
<line x1="43.20" y1="292.23" x2="44.00" y2="292.23" stroke="#000" stroke-width="0.6" />
<line x1="43.20" y1="292.89" x2="44.00" y2="292.89" stroke="#000" stroke-width="0.6" />
<line x1="41.36" y1="290.73" x2="41.36" y2="292.56" stroke="#000" stroke-width="0.6" />
<line x1="41.36" y1="290.73" x2="42.05" y2="290.73" stroke="#000" stroke-width="0.6" />
<line x1="41.36" y1="292.56" x2="43.20" y2="292.56" stroke="#000" stroke-width="0.6" />
<line x1="40.61" y1="288.74" x2="40.61" y2="291.65" stroke="#000" stroke-width="0.6" />
<line x1="40.61" y1="288.74" x2="42.78" y2="288.74" stroke="#000" stroke-width="0.6" />
<line x1="40.61" y1="291.65" x2="41.36" y2="291.65" stroke="#000" stroke-width="0.6" />
<line x1="43.31" y1="294.89" x2="43.31" y2="295.55" stroke="#000" stroke-width="0.6" />
<line x1="43.31" y1="294.89" x2="44.00" y2="294.89" stroke="#000" stroke-width="0.6" />
<line x1="43.31" y1="295.55" x2="44.00" y2="295.55" stroke="#000" stroke-width="0.6" />
<line x1="43.43" y1="296.88" x2="43.43" y2="297.55" stroke="#000" stroke-width="0.6" />
<line x1="43.43" y1="296.88" x2="44.00" y2="296.88" stroke="#000" stroke-width="0.6" />
<line x1="43.43" y1="297.55" x2="44.00" y2="297.55" stroke="#000" stroke-width="0.6" />
<line x1="42.91" y1="296.22" x2="42.91" y2="297.21" stroke="#000" stroke-width="0.6" />
<line x1="42.91" y1="296.22" x2="44.00" y2="296.22" stroke="#000" stroke-width="0.6" />
<line x1="42.91" y1="297.21" x2="43.43" y2="297.21" stroke="#000" stroke-width="0.6" />
<line x1="41.68" y1="295.22" x2="41.68" y2="296.71" stroke="#000" stroke-width="0.6" />
<line x1="41.68" y1="295.22" x2="43.31" y2="295.22" stroke="#000" stroke-width="0.6" />
<line x1="41.68" y1="296.71" x2="42.91" y2="296.71" stroke="#000" stroke-width="0.6" />
<line x1="40.37" y1="295.97" x2="40.37" y2="298.21" stroke="#000" stroke-width="0.6" />
<line x1="40.37" y1="295.97" x2="41.68" y2="295.97" stroke="#000" stroke-width="0.6" />
<line x1="40.37" y1="298.21" x2="44.00" y2="298.21" stroke="#000" stroke-width="0.6" />
<line x1="39.97" y1="297.09" x2="39.97" y2="298.87" stroke="#000" stroke-width="0.6" />
<line x1="39.97" y1="297.09" x2="40.37" y2="297.09" stroke="#000" stroke-width="0.6" />
<line x1="39.97" y1="298.87" x2="44.00" y2="298.87" stroke="#000" stroke-width="0.6" />
<line x1="39.27" y1="294.22" x2="39.27" y2="297.98" stroke="#000" stroke-width="0.6" />
<line x1="39.27" y1="294.22" x2="44.00" y2="294.22" stroke="#000" stroke-width="0.6" />
<line x1="39.27" y1="297.98" x2="39.97" y2="297.98" stroke="#000" stroke-width="0.6" />
<line x1="43.07" y1="299.54" x2="43.07" y2="300.20" stroke="#000" stroke-width="0.6" />
<line x1="43.07" y1="299.54" x2="44.00" y2="299.54" stroke="#000" stroke-width="0.6" />
<line x1="43.07" y1="300.20" x2="44.00" y2="300.20" stroke="#000" stroke-width="0.6" />
<line x1="42.29" y1="299.87" x2="42.29" y2="300.87" stroke="#000" stroke-width="0.6" />
<line x1="42.29" y1="299.87" x2="43.07" y2="299.87" stroke="#000" stroke-width="0.6" />
<line x1="42.29" y1="300.87" x2="44.00" y2="300.87" stroke="#000" stroke-width="0.6" />
<line x1="37.95" y1="296.10" x2="37.95" y2="300.37" stroke="#000" stroke-width="0.6" />
<line x1="37.95" y1="296.10" x2="39.27" y2="296.10" stroke="#000" stroke-width="0.6" />
<line x1="37.95" y1="300.37" x2="42.29" y2="300.37" stroke="#000" stroke-width="0.6" />
<line x1="37.45" y1="293.56" x2="37.45" y2="298.24" stroke="#000" stroke-width="0.6" />
<line x1="37.45" y1="293.56" x2="44.00" y2="293.56" stroke="#000" stroke-width="0.6" />
<line x1="37.45" y1="298.24" x2="37.95" y2="298.24" stroke="#000" stroke-width="0.6" />
<line x1="36.56" y1="290.19" x2="36.56" y2="295.90" stroke="#000" stroke-width="0.6" />
<line x1="36.56" y1="290.19" x2="40.61" y2="290.19" stroke="#000" stroke-width="0.6" />
<line x1="36.56" y1="295.90" x2="37.45" y2="295.90" stroke="#000" stroke-width="0.6" />
<line x1="35.55" y1="287.58" x2="35.55" y2="293.05" stroke="#000" stroke-width="0.6" />
<line x1="35.55" y1="287.58" x2="44.00" y2="287.58" stroke="#000" stroke-width="0.6" />
<line x1="35.55" y1="293.05" x2="36.56" y2="293.05" stroke="#000" stroke-width="0.6" />
<line x1="34.11" y1="284.63" x2="34.11" y2="290.31" stroke="#000" stroke-width="0.6" />
<line x1="34.11" y1="284.63" x2="40.16" y2="284.63" stroke="#000" stroke-width="0.6" />
<line x1="34.11" y1="290.31" x2="35.55" y2="290.31" stroke="#000" stroke-width="0.6" />
<line x1="33.03" y1="282.93" x2="33.03" y2="287.47" stroke="#000" stroke-width="0.6" />
<line x1="33.03" y1="282.93" x2="44.00" y2="282.93" stroke="#000" stroke-width="0.6" />
<line x1="33.03" y1="287.47" x2="34.11" y2="287.47" stroke="#000" stroke-width="0.6" />
<line x1="32.68" y1="282.26" x2="32.68" y2="285.20" stroke="#000" stroke-width="0.6" />
<line x1="32.68" y1="282.26" x2="44.00" y2="282.26" stroke="#000" stroke-width="0.6" />
<line x1="32.68" y1="285.20" x2="33.03" y2="285.20" stroke="#000" stroke-width="0.6" />
<line x1="25.25" y1="281.60" x2="25.25" y2="283.73" stroke="#888" stroke-width="0.5" />
<line x1="25.25" y1="281.60" x2="44.00" y2="281.60" stroke="#888" stroke-width="0.5" />
<line x1="25.25" y1="283.73" x2="32.68" y2="283.73" stroke="#888" stroke-width="0.5" />
<line x1="22.00" y1="280.93" x2="22.00" y2="282.66" stroke="#888" stroke-width="0.5" />
<line x1="22.00" y1="280.93" x2="44.00" y2="280.93" stroke="#888" stroke-width="0.5" />
<line x1="22.00" y1="282.66" x2="25.25" y2="282.66" stroke="#888" stroke-width="0.5" />
<line x1="41.99" y1="302.19" x2="41.99" y2="302.86" stroke="#000" stroke-width="0.6" />
<line x1="41.99" y1="302.19" x2="44.00" y2="302.19" stroke="#000" stroke-width="0.6" />
<line x1="41.99" y1="302.86" x2="44.00" y2="302.86" stroke="#000" stroke-width="0.6" />
<line x1="41.15" y1="303.52" x2="41.15" y2="304.18" stroke="#000" stroke-width="0.6" />
<line x1="41.15" y1="303.52" x2="44.00" y2="303.52" stroke="#000" stroke-width="0.6" />
<line x1="41.15" y1="304.18" x2="44.00" y2="304.18" stroke="#000" stroke-width="0.6" />
<line x1="39.88" y1="302.53" x2="39.88" y2="303.85" stroke="#000" stroke-width="0.6" />
<line x1="39.88" y1="302.53" x2="41.99" y2="302.53" stroke="#000" stroke-width="0.6" />
<line x1="39.88" y1="303.85" x2="41.15" y2="303.85" stroke="#000" stroke-width="0.6" />
<line x1="41.05" y1="305.51" x2="41.05" y2="306.17" stroke="#000" stroke-width="0.6" />
<line x1="41.05" y1="305.51" x2="44.00" y2="305.51" stroke="#000" stroke-width="0.6" />
<line x1="41.05" y1="306.17" x2="44.00" y2="306.17" stroke="#000" stroke-width="0.6" />
<line x1="39.07" y1="304.85" x2="39.07" y2="305.84" stroke="#000" stroke-width="0.6" />
<line x1="39.07" y1="304.85" x2="44.00" y2="304.85" stroke="#000" stroke-width="0.6" />
<line x1="39.07" y1="305.84" x2="41.05" y2="305.84" stroke="#000" stroke-width="0.6" />
<line x1="36.77" y1="303.19" x2="36.77" y2="305.34" stroke="#000" stroke-width="0.6" />
<line x1="36.77" y1="303.19" x2="39.88" y2="303.19" stroke="#000" stroke-width="0.6" />
<line x1="36.77" y1="305.34" x2="39.07" y2="305.34" stroke="#000" stroke-width="0.6" />
<line x1="33.72" y1="301.53" x2="33.72" y2="304.27" stroke="#000" stroke-width="0.6" />
<line x1="33.72" y1="301.53" x2="44.00" y2="301.53" stroke="#000" stroke-width="0.6" />
<line x1="33.72" y1="304.27" x2="36.77" y2="304.27" stroke="#000" stroke-width="0.6" />
<line x1="43.18" y1="308.16" x2="43.18" y2="308.83" stroke="#000" stroke-width="0.6" />
<line x1="43.18" y1="308.16" x2="44.00" y2="308.16" stroke="#000" stroke-width="0.6" />
<line x1="43.18" y1="308.83" x2="44.00" y2="308.83" stroke="#000" stroke-width="0.6" />
<line x1="40.51" y1="307.50" x2="40.51" y2="308.49" stroke="#000" stroke-width="0.6" />
<line x1="40.51" y1="307.50" x2="44.00" y2="307.50" stroke="#000" stroke-width="0.6" />
<line x1="40.51" y1="308.49" x2="43.18" y2="308.49" stroke="#000" stroke-width="0.6" />
<line x1="42.94" y1="310.15" x2="42.94" y2="310.82" stroke="#000" stroke-width="0.6" />
<line x1="42.94" y1="310.15" x2="44.00" y2="310.15" stroke="#000" stroke-width="0.6" />
<line x1="42.94" y1="310.82" x2="44.00" y2="310.82" stroke="#000" stroke-width="0.6" />
<line x1="41.96" y1="309.49" x2="41.96" y2="310.48" stroke="#000" stroke-width="0.6" />
<line x1="41.96" y1="309.49" x2="44.00" y2="309.49" stroke="#000" stroke-width="0.6" />
<line x1="41.96" y1="310.48" x2="42.94" y2="310.48" stroke="#000" stroke-width="0.6" />
<line x1="38.45" y1="308.00" x2="38.45" y2="309.99" stroke="#000" stroke-width="0.6" />
<line x1="38.45" y1="308.00" x2="40.51" y2="308.00" stroke="#000" stroke-width="0.6" />
<line x1="38.45" y1="309.99" x2="41.96" y2="309.99" stroke="#000" stroke-width="0.6" />
<line x1="41.30" y1="311.48" x2="41.30" y2="312.14" stroke="#000" stroke-width="0.6" />
<line x1="41.30" y1="311.48" x2="44.00" y2="311.48" stroke="#000" stroke-width="0.6" />
<line x1="41.30" y1="312.14" x2="44.00" y2="312.14" stroke="#000" stroke-width="0.6" />
<line x1="40.59" y1="311.81" x2="40.59" y2="312.81" stroke="#000" stroke-width="0.6" />
<line x1="40.59" y1="311.81" x2="41.30" y2="311.81" stroke="#000" stroke-width="0.6" />
<line x1="40.59" y1="312.81" x2="44.00" y2="312.81" stroke="#000" stroke-width="0.6" />
<line x1="37.47" y1="312.31" x2="37.47" y2="313.47" stroke="#000" stroke-width="0.6" />
<line x1="37.47" y1="312.31" x2="40.59" y2="312.31" stroke="#000" stroke-width="0.6" />
<line x1="37.47" y1="313.47" x2="44.00" y2="313.47" stroke="#000" stroke-width="0.6" />
<line x1="36.50" y1="308.99" x2="36.50" y2="312.89" stroke="#000" stroke-width="0.6" />
<line x1="36.50" y1="308.99" x2="38.45" y2="308.99" stroke="#000" stroke-width="0.6" />
<line x1="36.50" y1="312.89" x2="37.47" y2="312.89" stroke="#000" stroke-width="0.6" />
<line x1="34.84" y1="306.84" x2="34.84" y2="310.94" stroke="#000" stroke-width="0.6" />
<line x1="34.84" y1="306.84" x2="44.00" y2="306.84" stroke="#000" stroke-width="0.6" />
<line x1="34.84" y1="310.94" x2="36.50" y2="310.94" stroke="#000" stroke-width="0.6" />
<line x1="30.00" y1="302.90" x2="30.00" y2="308.89" stroke="#888" stroke-width="0.5" />
<line x1="30.00" y1="302.90" x2="33.72" y2="302.90" stroke="#888" stroke-width="0.5" />
<line x1="30.00" y1="308.89" x2="34.84" y2="308.89" stroke="#888" stroke-width="0.5" />
<line x1="15.50" y1="219.19" x2="15.50" y2="266.44" stroke="#888" stroke-width="0.5" />
<line x1="15.50" y1="219.19" x2="18.40" y2="219.19" stroke="#888" stroke-width="0.5" />
<line x1="15.50" y1="266.44" x2="28.00" y2="266.44" stroke="#888" stroke-width="0.5" />
<line x1="17.50" y1="281.80" x2="17.50" y2="305.89" stroke="#888" stroke-width="0.5" />
<line x1="17.50" y1="281.80" x2="22.00" y2="281.80" stroke="#888" stroke-width="0.5" />
<line x1="17.50" y1="305.89" x2="30.00" y2="305.89" stroke="#888" stroke-width="0.5" />
<line x1="13.50" y1="242.81" x2="13.50" y2="293.85" stroke="#888" stroke-width="0.5" />
<line x1="13.50" y1="242.81" x2="15.50" y2="242.81" stroke="#888" stroke-width="0.5" />
<line x1="13.50" y1="293.85" x2="17.50" y2="293.85" stroke="#888" stroke-width="0.5" />
<line x1="150.60" y1="215.20" x2="150.60" y2="224.20" stroke="#000" stroke-width="1.3" />
<line x1="150.60" y1="225.80" x2="150.60" y2="280.40" stroke="#000" stroke-width="1.3" />
<line x1="150.60" y1="281.60" x2="150.60" y2="301.00" stroke="#000" stroke-width="1.3" />
<line x1="150.60" y1="302.20" x2="150.60" y2="313.80" stroke="#000" stroke-width="1.3" />
<text x="153.70" y="214.70" font-size="6.7" text-anchor="start" fill="#222" font-weight="normal" font-style="normal" textLength="30.90" lengthAdjust="spacingAndGlyphs" stroke="#222" stroke-width="0.25" >Cluster D4</text>
<text x="153.70" y="224.00" font-size="6.7" text-anchor="start" fill="#222" font-weight="normal" font-style="normal" textLength="18.50" lengthAdjust="spacingAndGlyphs" stroke="#222" stroke-width="0.25" >11.2%</text>
<text x="153.70" y="249.00" font-size="6.7" text-anchor="start" fill="#222" font-weight="normal" font-style="normal" textLength="30.90" lengthAdjust="spacingAndGlyphs" stroke="#222" stroke-width="0.25" >Cluster D1</text>
<text x="153.70" y="259.30" font-size="6.7" text-anchor="start" fill="#222" font-weight="normal" font-style="normal" textLength="18.50" lengthAdjust="spacingAndGlyphs" stroke="#222" stroke-width="0.25" >55.3%</text>
<text x="153.70" y="289.30" font-size="6.7" text-anchor="start" fill="#222" font-weight="normal" font-style="normal" textLength="30.90" lengthAdjust="spacingAndGlyphs" stroke="#222" stroke-width="0.25" >Cluster D2</text>
<text x="153.70" y="298.00" font-size="6.7" text-anchor="start" fill="#222" font-weight="normal" font-style="normal" textLength="18.50" lengthAdjust="spacingAndGlyphs" stroke="#222" stroke-width="0.25" >20.7%</text>
<text x="153.70" y="309.30" font-size="6.7" text-anchor="start" fill="#222" font-weight="normal" font-style="normal" textLength="30.90" lengthAdjust="spacingAndGlyphs" stroke="#222" stroke-width="0.25" >Cluster D3</text>
<text x="153.70" y="318.60" font-size="6.7" text-anchor="start" fill="#222" font-weight="normal" font-style="normal" textLength="18.50" lengthAdjust="spacingAndGlyphs" stroke="#222" stroke-width="0.25" >12.8%</text>
<line x1="44.50" y1="315.90" x2="75.00" y2="315.90" stroke="#000" stroke-width="1.5" />
<line x1="79.30" y1="315.90" x2="109.50" y2="315.90" stroke="#000" stroke-width="1.5" />
<line x1="115.00" y1="315.90" x2="145.50" y2="315.90" stroke="#000" stroke-width="1.5" />
<text x="59.60" y="328.20" font-size="6.6" text-anchor="middle" fill="#222" font-weight="normal" font-style="italic" stroke="#222" stroke-width="0.25" >Control</text>
<text x="94.60" y="324.60" font-size="6.6" text-anchor="middle" fill="#222" font-weight="normal" font-style="italic" stroke="#222" stroke-width="0.25" >Chd7<tspan font-size="3.8" dy="-2.6">f/f</tspan><tspan dy="2.6">,</tspan></text>
<text x="94.60" y="335.20" font-size="6.6" text-anchor="middle" fill="#222" font-weight="normal" font-style="italic" stroke="#222" stroke-width="0.25" >Mx1-Cre,</text>
<text x="94.60" y="344.00" font-size="6.6" text-anchor="middle" fill="#222" font-weight="normal" font-style="italic" stroke="#222" stroke-width="0.25" >Cbfb<tspan font-size="3.8" dy="-2.6">+/56M</tspan></text>
<text x="130.20" y="328.90" font-size="6.6" text-anchor="middle" fill="#222" font-weight="normal" font-style="italic" stroke="#222" stroke-width="0.25" >Mx1-Cre,</text>
<text x="130.20" y="336.60" font-size="6.6" text-anchor="middle" fill="#222" font-weight="normal" font-style="italic" stroke="#222" stroke-width="0.25" >Cbfb<tspan font-size="3.8" dy="-2.6">+/56M</tspan></text>
<rect x="22.10" y="381.90" width="1.03" height="7.00" fill="#281c6e" />
<rect x="22.93" y="381.90" width="1.03" height="7.00" fill="#362c7c" />
<rect x="23.77" y="381.90" width="1.03" height="7.00" fill="#463d8b" />
<rect x="24.60" y="381.90" width="1.03" height="7.00" fill="#564f9b" />
<rect x="25.43" y="381.90" width="1.03" height="7.00" fill="#6660aa" />
<rect x="26.27" y="381.90" width="1.03" height="7.00" fill="#7d78b9" />
<rect x="27.10" y="381.90" width="1.03" height="7.00" fill="#9491c8" />
<rect x="27.93" y="381.90" width="1.03" height="7.00" fill="#aba9d7" />
<rect x="28.77" y="381.90" width="1.03" height="7.00" fill="#c2c2e6" />
<rect x="29.60" y="381.90" width="1.03" height="7.00" fill="#d1d0ec" />
<rect x="30.43" y="381.90" width="1.03" height="7.00" fill="#dfdef1" />
<rect x="31.27" y="381.90" width="1.03" height="7.00" fill="#edecf5" />
<rect x="32.10" y="381.90" width="1.03" height="7.00" fill="#f3eaef" />
<rect x="32.93" y="381.90" width="1.03" height="7.00" fill="#f1dadd" />
<rect x="33.77" y="381.90" width="1.03" height="7.00" fill="#eec9cc" />
<rect x="34.60" y="381.90" width="1.03" height="7.00" fill="#ebb8ba" />
<rect x="35.43" y="381.90" width="1.03" height="7.00" fill="#e4a0a1" />
<rect x="36.27" y="381.90" width="1.03" height="7.00" fill="#dc8889" />
<rect x="37.10" y="381.90" width="1.03" height="7.00" fill="#d57070" />
<rect x="37.93" y="381.90" width="1.03" height="7.00" fill="#ce5858" />
<rect x="38.77" y="381.90" width="1.03" height="7.00" fill="#c6494a" />
<rect x="39.60" y="381.90" width="1.03" height="7.00" fill="#be3a3b" />
<rect x="40.43" y="381.90" width="1.03" height="7.00" fill="#b72b2d" />
<rect x="41.27" y="381.90" width="1.03" height="7.00" fill="#b01e20" />
<line x1="22.10" y1="388.90" x2="42.10" y2="388.90" stroke="#111" stroke-width="0.8" />
<line x1="24.10" y1="388.90" x2="24.10" y2="391.50" stroke="#111" stroke-width="0.9" />
<line x1="28.10" y1="388.90" x2="28.10" y2="391.50" stroke="#111" stroke-width="0.9" />
<line x1="32.10" y1="388.90" x2="32.10" y2="391.50" stroke="#111" stroke-width="0.9" />
<line x1="36.10" y1="388.90" x2="36.10" y2="391.50" stroke="#111" stroke-width="0.9" />
<line x1="40.10" y1="388.90" x2="40.10" y2="391.50" stroke="#111" stroke-width="0.9" />
<text x="19.00" y="379.70" font-size="6.6" text-anchor="start" fill="#222" font-weight="normal" font-style="normal" textLength="28.80" lengthAdjust="spacingAndGlyphs" stroke="#222" stroke-width="0.25" >Color Key</text>
<text x="18.20" y="402.80" font-size="5.5" text-anchor="start" fill="#222" font-weight="normal" font-style="normal" textLength="30.80" lengthAdjust="spacingAndGlyphs" stroke="#222" stroke-width="0.25" >Row Z-Score</text>
<text x="23.90" y="396.40" font-size="4.8" text-anchor="middle" fill="#222" font-weight="normal" font-style="normal" stroke="#222" stroke-width="0.25" >-2</text>
<text x="40.30" y="396.40" font-size="4.8" text-anchor="middle" fill="#222" font-weight="normal" font-style="normal" stroke="#222" stroke-width="0.25" >2</text>
<rect x="43.75" y="406.25" width="11.91" height="2.18" fill="#e09293" />
<rect x="55.36" y="406.25" width="11.91" height="2.18" fill="#cc5555" />
<rect x="66.97" y="406.25" width="11.91" height="2.18" fill="#d77677" />
<rect x="78.58" y="406.25" width="11.91" height="2.18" fill="#8f8cc5" />
<rect x="90.19" y="406.25" width="11.91" height="2.18" fill="#3d3382" />
<rect x="101.80" y="406.25" width="11.91" height="2.18" fill="#d8d7ee" />
<rect x="113.41" y="406.25" width="11.91" height="2.18" fill="#9794cb" />
<rect x="125.02" y="406.25" width="11.91" height="2.18" fill="#9794ca" />
<rect x="136.63" y="406.25" width="11.91" height="2.18" fill="#564f9b" />
<rect x="43.75" y="408.13" width="11.91" height="2.18" fill="#e2989a" />
<rect x="55.36" y="408.13" width="11.91" height="2.18" fill="#da7f7f" />
<rect x="66.97" y="408.13" width="11.91" height="2.18" fill="#da7e7f" />
<rect x="78.58" y="408.13" width="11.91" height="2.18" fill="#b0afdb" />
<rect x="90.19" y="408.13" width="11.91" height="2.18" fill="#403785" />
<rect x="101.80" y="408.13" width="11.91" height="2.18" fill="#c4c4e8" />
<rect x="113.41" y="408.13" width="11.91" height="2.18" fill="#9b99cd" />
<rect x="125.02" y="408.13" width="11.91" height="2.18" fill="#8e8bc5" />
<rect x="136.63" y="408.13" width="11.91" height="2.18" fill="#5c55a0" />
<rect x="43.75" y="410.00" width="11.91" height="2.18" fill="#e19799" />
<rect x="55.36" y="410.00" width="11.91" height="2.18" fill="#d8797a" />
<rect x="66.97" y="410.00" width="11.91" height="2.18" fill="#ce5858" />
<rect x="78.58" y="410.00" width="11.91" height="2.18" fill="#c2c2e6" />
<rect x="90.19" y="410.00" width="11.91" height="2.18" fill="#4c4390" />
<rect x="101.80" y="410.00" width="11.91" height="2.18" fill="#cfcfeb" />
<rect x="113.41" y="410.00" width="11.91" height="2.18" fill="#9592c9" />
<rect x="125.02" y="410.00" width="11.91" height="2.18" fill="#cfceeb" />
<rect x="136.63" y="410.00" width="11.91" height="2.18" fill="#7e79ba" />
<rect x="43.75" y="411.88" width="11.91" height="2.18" fill="#d26667" />
<rect x="55.36" y="411.88" width="11.91" height="2.18" fill="#c13f40" />
<rect x="66.97" y="411.88" width="11.91" height="2.18" fill="#d46c6d" />
<rect x="78.58" y="411.88" width="11.91" height="2.18" fill="#c8c8e9" />
<rect x="90.19" y="411.88" width="11.91" height="2.18" fill="#655fa9" />
<rect x="101.80" y="411.88" width="11.91" height="2.18" fill="#dbdaef" />
<rect x="113.41" y="411.88" width="11.91" height="2.18" fill="#bbbbe2" />
<rect x="125.02" y="411.88" width="11.91" height="2.18" fill="#c8c7e9" />
<rect x="136.63" y="411.88" width="11.91" height="2.18" fill="#807cbc" />
<rect x="43.75" y="413.76" width="11.91" height="2.18" fill="#d16263" />
<rect x="55.36" y="413.76" width="11.91" height="2.18" fill="#c94e4e" />
<rect x="66.97" y="413.76" width="11.91" height="2.18" fill="#cc5555" />
<rect x="78.58" y="413.76" width="11.91" height="2.18" fill="#d8d7ee" />
<rect x="90.19" y="413.76" width="11.91" height="2.18" fill="#c9c9e9" />
<rect x="101.80" y="413.76" width="11.91" height="2.18" fill="#d9d8ef" />
<rect x="113.41" y="413.76" width="11.91" height="2.18" fill="#938fc8" />
<rect x="125.02" y="413.76" width="11.91" height="2.18" fill="#b8b7e0" />
<rect x="136.63" y="413.76" width="11.91" height="2.18" fill="#8884c1" />
<rect x="43.75" y="415.64" width="11.91" height="2.18" fill="#cf5b5b" />
<rect x="55.36" y="415.64" width="11.91" height="2.18" fill="#c13f40" />
<rect x="66.97" y="415.64" width="11.91" height="2.18" fill="#c94f4f" />
<rect x="78.58" y="415.64" width="11.91" height="2.18" fill="#cecdeb" />
<rect x="90.19" y="415.64" width="11.91" height="2.18" fill="#d3d2ed" />
<rect x="101.80" y="415.64" width="11.91" height="2.18" fill="#dad9ef" />
<rect x="113.41" y="415.64" width="11.91" height="2.18" fill="#a6a4d4" />
<rect x="125.02" y="415.64" width="11.91" height="2.18" fill="#aaa8d7" />
<rect x="136.63" y="415.64" width="11.91" height="2.18" fill="#9592c9" />
<rect x="43.75" y="417.51" width="11.91" height="2.18" fill="#de8d8e" />
<rect x="55.36" y="417.51" width="11.91" height="2.18" fill="#d16060" />
<rect x="66.97" y="417.51" width="11.91" height="2.18" fill="#d36768" />
<rect x="78.58" y="417.51" width="11.91" height="2.18" fill="#a4a2d3" />
<rect x="90.19" y="417.51" width="11.91" height="2.18" fill="#b5b4de" />
<rect x="101.80" y="417.51" width="11.91" height="2.18" fill="#cfcfeb" />
<rect x="113.41" y="417.51" width="11.91" height="2.18" fill="#8f8cc5" />
<rect x="125.02" y="417.51" width="11.91" height="2.18" fill="#9a97cc" />
<rect x="136.63" y="417.51" width="11.91" height="2.18" fill="#7570b4" />
<rect x="43.75" y="419.39" width="11.91" height="2.18" fill="#da8081" />
<rect x="55.36" y="419.39" width="11.91" height="2.18" fill="#d26565" />
<rect x="66.97" y="419.39" width="11.91" height="2.18" fill="#c64a4a" />
<rect x="78.58" y="419.39" width="11.91" height="2.18" fill="#bebee4" />
<rect x="90.19" y="419.39" width="11.91" height="2.18" fill="#b1afdb" />
<rect x="101.80" y="419.39" width="11.91" height="2.18" fill="#c4c4e8" />
<rect x="113.41" y="419.39" width="11.91" height="2.18" fill="#a29fd1" />
<rect x="125.02" y="419.39" width="11.91" height="2.18" fill="#a09ed0" />
<rect x="136.63" y="419.39" width="11.91" height="2.18" fill="#8682bf" />
<rect x="43.75" y="421.27" width="11.91" height="2.18" fill="#df8f90" />
<rect x="55.36" y="421.27" width="11.91" height="2.18" fill="#d46c6c" />
<rect x="66.97" y="421.27" width="11.91" height="2.18" fill="#d26464" />
<rect x="78.58" y="421.27" width="11.91" height="2.18" fill="#b4b3dd" />
<rect x="90.19" y="421.27" width="11.91" height="2.18" fill="#b7b6df" />
<rect x="101.80" y="421.27" width="11.91" height="2.18" fill="#e6e5f3" />
<rect x="113.41" y="421.27" width="11.91" height="2.18" fill="#7c78b9" />
<rect x="125.02" y="421.27" width="11.91" height="2.18" fill="#8580be" />
<rect x="136.63" y="421.27" width="11.91" height="2.18" fill="#8581bf" />
<rect x="43.75" y="423.15" width="11.91" height="2.18" fill="#d36969" />
<rect x="55.36" y="423.15" width="11.91" height="2.18" fill="#d05e5e" />
<rect x="66.97" y="423.15" width="11.91" height="2.18" fill="#d16263" />
<rect x="78.58" y="423.15" width="11.91" height="2.18" fill="#cbcaea" />
<rect x="90.19" y="423.15" width="11.91" height="2.18" fill="#cccbea" />
<rect x="101.80" y="423.15" width="11.91" height="2.18" fill="#c9c9e9" />
<rect x="113.41" y="423.15" width="11.91" height="2.18" fill="#918ec7" />
<rect x="125.02" y="423.15" width="11.91" height="2.18" fill="#615aa5" />
<rect x="136.63" y="423.15" width="11.91" height="2.18" fill="#726cb2" />
<rect x="43.75" y="425.02" width="11.91" height="2.18" fill="#ce5858" />
<rect x="55.36" y="425.02" width="11.91" height="2.18" fill="#ca5252" />
<rect x="66.97" y="425.02" width="11.91" height="2.18" fill="#c13f40" />
<rect x="78.58" y="425.02" width="11.91" height="2.18" fill="#f4f2f7" />
<rect x="90.19" y="425.02" width="11.91" height="2.18" fill="#cbcbea" />
<rect x="101.80" y="425.02" width="11.91" height="2.18" fill="#ebe9f4" />
<rect x="113.41" y="425.02" width="11.91" height="2.18" fill="#aeadda" />
<rect x="125.02" y="425.02" width="11.91" height="2.18" fill="#655ea9" />
<rect x="136.63" y="425.02" width="11.91" height="2.18" fill="#b4b3dd" />
<rect x="43.75" y="426.90" width="11.91" height="2.18" fill="#de8c8d" />
<rect x="55.36" y="426.90" width="11.91" height="2.18" fill="#cd5657" />
<rect x="66.97" y="426.90" width="11.91" height="2.18" fill="#d05e5e" />
<rect x="78.58" y="426.90" width="11.91" height="2.18" fill="#c9c8e9" />
<rect x="90.19" y="426.90" width="11.91" height="2.18" fill="#cdccea" />
<rect x="101.80" y="426.90" width="11.91" height="2.18" fill="#ccccea" />
<rect x="113.41" y="426.90" width="11.91" height="2.18" fill="#9a98cd" />
<rect x="125.02" y="426.90" width="11.91" height="2.18" fill="#5b549f" />
<rect x="136.63" y="426.90" width="11.91" height="2.18" fill="#bebde4" />
<rect x="43.75" y="428.78" width="11.91" height="2.18" fill="#c34444" />
<rect x="55.36" y="428.78" width="11.91" height="2.18" fill="#be3a3b" />
<rect x="66.97" y="428.78" width="11.91" height="2.18" fill="#cd5656" />
<rect x="78.58" y="428.78" width="11.91" height="2.18" fill="#f4eef3" />
<rect x="90.19" y="428.78" width="11.91" height="2.18" fill="#d7d6ee" />
<rect x="101.80" y="428.78" width="11.91" height="2.18" fill="#f1dce0" />
<rect x="113.41" y="428.78" width="11.91" height="2.18" fill="#c8c8e9" />
<rect x="125.02" y="428.78" width="11.91" height="2.18" fill="#413886" />
<rect x="136.63" y="428.78" width="11.91" height="2.18" fill="#d0cfeb" />
<rect x="43.75" y="430.65" width="11.91" height="2.18" fill="#d46b6c" />
<rect x="55.36" y="430.65" width="11.91" height="2.18" fill="#c6494a" />
<rect x="66.97" y="430.65" width="11.91" height="2.18" fill="#cc5555" />
<rect x="78.58" y="430.65" width="11.91" height="2.18" fill="#deddf0" />
<rect x="90.19" y="430.65" width="11.91" height="2.18" fill="#acaad8" />
<rect x="101.80" y="430.65" width="11.91" height="2.18" fill="#dfddf0" />
<rect x="113.41" y="430.65" width="11.91" height="2.18" fill="#babae1" />
<rect x="125.02" y="430.65" width="11.91" height="2.18" fill="#2b1f71" />
<rect x="136.63" y="430.65" width="11.91" height="2.18" fill="#c5c5e8" />
<rect x="43.75" y="432.53" width="11.91" height="2.18" fill="#de8c8d" />
<rect x="55.36" y="432.53" width="11.91" height="2.18" fill="#bf3b3c" />
<rect x="66.97" y="432.53" width="11.91" height="2.18" fill="#d05f5f" />
<rect x="78.58" y="432.53" width="11.91" height="2.18" fill="#dbdaef" />
<rect x="90.19" y="432.53" width="11.91" height="2.18" fill="#c4c4e8" />
<rect x="101.80" y="432.53" width="11.91" height="2.18" fill="#f2f0f7" />
<rect x="113.41" y="432.53" width="11.91" height="2.18" fill="#aeadda" />
<rect x="125.02" y="432.53" width="11.91" height="2.18" fill="#281c6e" />
<rect x="136.63" y="432.53" width="11.91" height="2.18" fill="#a3a0d2" />
<rect x="43.75" y="434.41" width="11.91" height="2.18" fill="#cb5252" />
<rect x="55.36" y="434.41" width="11.91" height="2.18" fill="#c95050" />
<rect x="66.97" y="434.41" width="11.91" height="2.18" fill="#c54747" />
<rect x="78.58" y="434.41" width="11.91" height="2.18" fill="#dbdaef" />
<rect x="90.19" y="434.41" width="11.91" height="2.18" fill="#ceceeb" />
<rect x="101.80" y="434.41" width="11.91" height="2.18" fill="#e8e6f3" />
<rect x="113.41" y="434.41" width="11.91" height="2.18" fill="#bdbce3" />
<rect x="125.02" y="434.41" width="11.91" height="2.18" fill="#3d3382" />
<rect x="136.63" y="434.41" width="11.91" height="2.18" fill="#c2c2e6" />
<rect x="43.75" y="436.29" width="11.91" height="2.18" fill="#d16262" />
<rect x="55.36" y="436.29" width="11.91" height="2.18" fill="#c84d4d" />
<rect x="66.97" y="436.29" width="11.91" height="2.18" fill="#d67474" />
<rect x="78.58" y="436.29" width="11.91" height="2.18" fill="#cbcbea" />
<rect x="90.19" y="436.29" width="11.91" height="2.18" fill="#c7c7e9" />
<rect x="101.80" y="436.29" width="11.91" height="2.18" fill="#d9d8ee" />
<rect x="113.41" y="436.29" width="11.91" height="2.18" fill="#acabd8" />
<rect x="125.02" y="436.29" width="11.91" height="2.18" fill="#433a89" />
<rect x="136.63" y="436.29" width="11.91" height="2.18" fill="#bab9e1" />
<rect x="43.75" y="438.16" width="11.91" height="2.18" fill="#cf5b5b" />
<rect x="55.36" y="438.16" width="11.91" height="2.18" fill="#cf5a5a" />
<rect x="66.97" y="438.16" width="11.91" height="2.18" fill="#c54747" />
<rect x="78.58" y="438.16" width="11.91" height="2.18" fill="#eae8f4" />
<rect x="90.19" y="438.16" width="11.91" height="2.18" fill="#c3c3e7" />
<rect x="101.80" y="438.16" width="11.91" height="2.18" fill="#d1d1ec" />
<rect x="113.41" y="438.16" width="11.91" height="2.18" fill="#b2b1dc" />
<rect x="125.02" y="438.16" width="11.91" height="2.18" fill="#483f8d" />
<rect x="136.63" y="438.16" width="11.91" height="2.18" fill="#a8a7d6" />
<rect x="43.75" y="440.04" width="11.91" height="2.18" fill="#cd5656" />
<rect x="55.36" y="440.04" width="11.91" height="2.18" fill="#c03e3f" />
<rect x="66.97" y="440.04" width="11.91" height="2.18" fill="#cc5455" />
<rect x="78.58" y="440.04" width="11.91" height="2.18" fill="#f3e7eb" />
<rect x="90.19" y="440.04" width="11.91" height="2.18" fill="#e0dff1" />
<rect x="101.80" y="440.04" width="11.91" height="2.18" fill="#cfcfeb" />
<rect x="113.41" y="440.04" width="11.91" height="2.18" fill="#928ec7" />
<rect x="125.02" y="440.04" width="11.91" height="2.18" fill="#5b549f" />
<rect x="136.63" y="440.04" width="11.91" height="2.18" fill="#d8d7ee" />
<rect x="43.75" y="441.92" width="11.91" height="2.18" fill="#cb5354" />
<rect x="55.36" y="441.92" width="11.91" height="2.18" fill="#c34344" />
<rect x="66.97" y="441.92" width="11.91" height="2.18" fill="#d16363" />
<rect x="78.58" y="441.92" width="11.91" height="2.18" fill="#eeecf5" />
<rect x="90.19" y="441.92" width="11.91" height="2.18" fill="#8783c0" />
<rect x="101.80" y="441.92" width="11.91" height="2.18" fill="#e5e4f2" />
<rect x="113.41" y="441.92" width="11.91" height="2.18" fill="#b3b2dd" />
<rect x="125.02" y="441.92" width="11.91" height="2.18" fill="#7a75b7" />
<rect x="136.63" y="441.92" width="11.91" height="2.18" fill="#c5c4e8" />
<rect x="43.75" y="443.80" width="11.91" height="2.18" fill="#c03e3f" />
<rect x="55.36" y="443.80" width="11.91" height="2.18" fill="#d05d5d" />
<rect x="66.97" y="443.80" width="11.91" height="2.18" fill="#c64949" />
<rect x="78.58" y="443.80" width="11.91" height="2.18" fill="#e9e8f4" />
<rect x="90.19" y="443.80" width="11.91" height="2.18" fill="#b5b4de" />
<rect x="101.80" y="443.80" width="11.91" height="2.18" fill="#efedf6" />
<rect x="113.41" y="443.80" width="11.91" height="2.18" fill="#a9a7d6" />
<rect x="125.02" y="443.80" width="11.91" height="2.18" fill="#9a97cd" />
<rect x="136.63" y="443.80" width="11.91" height="2.18" fill="#dddcf0" />
<rect x="43.75" y="445.67" width="11.91" height="2.18" fill="#cb5252" />
<rect x="55.36" y="445.67" width="11.91" height="2.18" fill="#c74a4b" />
<rect x="66.97" y="445.67" width="11.91" height="2.18" fill="#c44546" />
<rect x="78.58" y="445.67" width="11.91" height="2.18" fill="#f1dce0" />
<rect x="90.19" y="445.67" width="11.91" height="2.18" fill="#b8b7e0" />
<rect x="101.80" y="445.67" width="11.91" height="2.18" fill="#eeedf5" />
<rect x="113.41" y="445.67" width="11.91" height="2.18" fill="#cbcbea" />
<rect x="125.02" y="445.67" width="11.91" height="2.18" fill="#c0c0e5" />
<rect x="136.63" y="445.67" width="11.91" height="2.18" fill="#d8d8ee" />
<rect x="43.75" y="447.55" width="11.91" height="1.80" fill="#7974b7" />
<rect x="55.36" y="447.55" width="11.91" height="1.80" fill="#7772b6" />
<rect x="66.97" y="447.55" width="11.91" height="1.80" fill="#746fb4" />
<rect x="78.58" y="447.55" width="11.91" height="1.80" fill="#bd3738" />
<rect x="90.19" y="447.55" width="11.91" height="1.80" fill="#f1dde1" />
<rect x="101.80" y="447.55" width="11.91" height="1.80" fill="#f2e4e8" />
<rect x="113.41" y="447.55" width="11.91" height="1.80" fill="#eab4b6" />
<rect x="125.02" y="447.55" width="11.91" height="1.80" fill="#e4a2a3" />
<rect x="136.63" y="447.55" width="11.91" height="1.80" fill="#ecbec1" />
<rect x="43.75" y="449.05" width="11.91" height="2.15" fill="#5f59a4" />
<rect x="55.36" y="449.05" width="11.91" height="2.15" fill="#837fbe" />
<rect x="66.97" y="449.05" width="11.91" height="2.15" fill="#362c7c" />
<rect x="78.58" y="449.05" width="11.91" height="2.15" fill="#dedcf0" />
<rect x="90.19" y="449.05" width="11.91" height="2.15" fill="#e0def1" />
<rect x="101.80" y="449.05" width="11.91" height="2.15" fill="#ccccea" />
<rect x="113.41" y="449.05" width="11.91" height="2.15" fill="#d87a7b" />
<rect x="125.02" y="449.05" width="11.91" height="2.15" fill="#c84d4d" />
<rect x="136.63" y="449.05" width="11.91" height="2.15" fill="#e7abad" />
<rect x="43.75" y="450.90" width="11.91" height="2.15" fill="#5c54a0" />
<rect x="55.36" y="450.90" width="11.91" height="2.15" fill="#4d4492" />
<rect x="66.97" y="450.90" width="11.91" height="2.15" fill="#615aa5" />
<rect x="78.58" y="450.90" width="11.91" height="2.15" fill="#c1c1e6" />
<rect x="90.19" y="450.90" width="11.91" height="2.15" fill="#e2e1f1" />
<rect x="101.80" y="450.90" width="11.91" height="2.15" fill="#b2b1dc" />
<rect x="113.41" y="450.90" width="11.91" height="2.15" fill="#de8c8d" />
<rect x="125.02" y="450.90" width="11.91" height="2.15" fill="#d06060" />
<rect x="136.63" y="450.90" width="11.91" height="2.15" fill="#d16161" />
<rect x="43.75" y="452.75" width="11.91" height="2.15" fill="#837fbe" />
<rect x="55.36" y="452.75" width="11.91" height="2.15" fill="#4f4794" />
<rect x="66.97" y="452.75" width="11.91" height="2.15" fill="#726cb2" />
<rect x="78.58" y="452.75" width="11.91" height="2.15" fill="#ebeaf4" />
<rect x="90.19" y="452.75" width="11.91" height="2.15" fill="#dfdef1" />
<rect x="101.80" y="452.75" width="11.91" height="2.15" fill="#deddf0" />
<rect x="113.41" y="452.75" width="11.91" height="2.15" fill="#e39fa0" />
<rect x="125.02" y="452.75" width="11.91" height="2.15" fill="#db8182" />
<rect x="136.63" y="452.75" width="11.91" height="2.15" fill="#d05e5e" />
<rect x="43.75" y="454.60" width="11.91" height="2.15" fill="#827ebd" />
<rect x="55.36" y="454.60" width="11.91" height="2.15" fill="#7d78b9" />
<rect x="66.97" y="454.60" width="11.91" height="2.15" fill="#423987" />
<rect x="78.58" y="454.60" width="11.91" height="2.15" fill="#d7d7ee" />
<rect x="90.19" y="454.60" width="11.91" height="2.15" fill="#f4eef3" />
<rect x="101.80" y="454.60" width="11.91" height="2.15" fill="#efedf6" />
<rect x="113.41" y="454.60" width="11.91" height="2.15" fill="#db8485" />
<rect x="125.02" y="454.60" width="11.91" height="2.15" fill="#d16262" />
<rect x="136.63" y="454.60" width="11.91" height="2.15" fill="#d26667" />
<rect x="43.75" y="456.45" width="11.91" height="2.15" fill="#59519d" />
<rect x="55.36" y="456.45" width="11.91" height="2.15" fill="#504895" />
<rect x="66.97" y="456.45" width="11.91" height="2.15" fill="#4e4593" />
<rect x="78.58" y="456.45" width="11.91" height="2.15" fill="#dad9ef" />
<rect x="90.19" y="456.45" width="11.91" height="2.15" fill="#f0d9dd" />
<rect x="101.80" y="456.45" width="11.91" height="2.15" fill="#e4e3f2" />
<rect x="113.41" y="456.45" width="11.91" height="2.15" fill="#d57171" />
<rect x="125.02" y="456.45" width="11.91" height="2.15" fill="#c03d3e" />
<rect x="136.63" y="456.45" width="11.91" height="2.15" fill="#c6494a" />
<rect x="43.75" y="458.30" width="11.91" height="2.15" fill="#655fa9" />
<rect x="55.36" y="458.30" width="11.91" height="2.15" fill="#5f58a3" />
<rect x="66.97" y="458.30" width="11.91" height="2.15" fill="#57509c" />
<rect x="78.58" y="458.30" width="11.91" height="2.15" fill="#d8d7ee" />
<rect x="90.19" y="458.30" width="11.91" height="2.15" fill="#f3e8ec" />
<rect x="101.80" y="458.30" width="11.91" height="2.15" fill="#f4f2f7" />
<rect x="113.41" y="458.30" width="11.91" height="2.15" fill="#e09394" />
<rect x="125.02" y="458.30" width="11.91" height="2.15" fill="#d16363" />
<rect x="136.63" y="458.30" width="11.91" height="2.15" fill="#d16060" />
<rect x="43.75" y="460.15" width="11.91" height="2.15" fill="#746fb4" />
<rect x="55.36" y="460.15" width="11.91" height="2.15" fill="#605aa5" />
<rect x="66.97" y="460.15" width="11.91" height="2.15" fill="#5b54a0" />
<rect x="78.58" y="460.15" width="11.91" height="2.15" fill="#cecdeb" />
<rect x="90.19" y="460.15" width="11.91" height="2.15" fill="#f2f0f7" />
<rect x="101.80" y="460.15" width="11.91" height="2.15" fill="#e5e4f3" />
<rect x="113.41" y="460.15" width="11.91" height="2.15" fill="#e19799" />
<rect x="125.02" y="460.15" width="11.91" height="2.15" fill="#c94f4f" />
<rect x="136.63" y="460.15" width="11.91" height="2.15" fill="#d16363" />
<rect x="43.75" y="462.00" width="11.91" height="2.15" fill="#645da8" />
<rect x="55.36" y="462.00" width="11.91" height="2.15" fill="#6761ab" />
<rect x="66.97" y="462.00" width="11.91" height="2.15" fill="#7b76b8" />
<rect x="78.58" y="462.00" width="11.91" height="2.15" fill="#dcdbf0" />
<rect x="90.19" y="462.00" width="11.91" height="2.15" fill="#edebf5" />
<rect x="101.80" y="462.00" width="11.91" height="2.15" fill="#f1eff6" />
<rect x="113.41" y="462.00" width="11.91" height="2.15" fill="#d57070" />
<rect x="125.02" y="462.00" width="11.91" height="2.15" fill="#d3696a" />
<rect x="136.63" y="462.00" width="11.91" height="2.15" fill="#d06060" />
<rect x="43.75" y="463.85" width="11.91" height="2.15" fill="#736eb3" />
<rect x="55.36" y="463.85" width="11.91" height="2.15" fill="#514996" />
<rect x="66.97" y="463.85" width="11.91" height="2.15" fill="#524a96" />
<rect x="78.58" y="463.85" width="11.91" height="2.15" fill="#e1e0f1" />
<rect x="90.19" y="463.85" width="11.91" height="2.15" fill="#f4eef3" />
<rect x="101.80" y="463.85" width="11.91" height="2.15" fill="#dcdbf0" />
<rect x="113.41" y="463.85" width="11.91" height="2.15" fill="#e09293" />
<rect x="125.02" y="463.85" width="11.91" height="2.15" fill="#d36868" />
<rect x="136.63" y="463.85" width="11.91" height="2.15" fill="#c54848" />
<rect x="43.75" y="465.70" width="11.91" height="2.15" fill="#6963ac" />
<rect x="55.36" y="465.70" width="11.91" height="2.15" fill="#635ca7" />
<rect x="66.97" y="465.70" width="11.91" height="2.15" fill="#6d67af" />
<rect x="78.58" y="465.70" width="11.91" height="2.15" fill="#ecebf5" />
<rect x="90.19" y="465.70" width="11.91" height="2.15" fill="#f2e3e7" />
<rect x="101.80" y="465.70" width="11.91" height="2.15" fill="#f2e0e4" />
<rect x="113.41" y="465.70" width="11.91" height="2.15" fill="#d05f5f" />
<rect x="125.02" y="465.70" width="11.91" height="2.15" fill="#c34344" />
<rect x="136.63" y="465.70" width="11.91" height="2.15" fill="#c24142" />
<rect x="43.75" y="467.55" width="11.91" height="2.15" fill="#645da8" />
<rect x="55.36" y="467.55" width="11.91" height="2.15" fill="#58519d" />
<rect x="66.97" y="467.55" width="11.91" height="2.15" fill="#544c98" />
<rect x="78.58" y="467.55" width="11.91" height="2.15" fill="#e1e0f1" />
<rect x="90.19" y="467.55" width="11.91" height="2.15" fill="#efcfd2" />
<rect x="101.80" y="467.55" width="11.91" height="2.15" fill="#f3e6eb" />
<rect x="113.41" y="467.55" width="11.91" height="2.15" fill="#de8c8d" />
<rect x="125.02" y="467.55" width="11.91" height="2.15" fill="#cc5454" />
<rect x="136.63" y="467.55" width="11.91" height="2.15" fill="#d77676" />
<rect x="43.75" y="469.40" width="11.91" height="2.15" fill="#6862ac" />
<rect x="55.36" y="469.40" width="11.91" height="2.15" fill="#615aa5" />
<rect x="66.97" y="469.40" width="11.91" height="2.15" fill="#5b549f" />
<rect x="78.58" y="469.40" width="11.91" height="2.15" fill="#dfdef0" />
<rect x="90.19" y="469.40" width="11.91" height="2.15" fill="#f2e6ea" />
<rect x="101.80" y="469.40" width="11.91" height="2.15" fill="#f0d5d8" />
<rect x="113.41" y="469.40" width="11.91" height="2.15" fill="#e09495" />
<rect x="125.02" y="469.40" width="11.91" height="2.15" fill="#d05e5f" />
<rect x="136.63" y="469.40" width="11.91" height="2.15" fill="#d16161" />
<rect x="43.75" y="471.25" width="11.91" height="2.15" fill="#4d4592" />
<rect x="55.36" y="471.25" width="11.91" height="2.15" fill="#443a89" />
<rect x="66.97" y="471.25" width="11.91" height="2.15" fill="#433988" />
<rect x="78.58" y="471.25" width="11.91" height="2.15" fill="#e7e6f3" />
<rect x="90.19" y="471.25" width="11.91" height="2.15" fill="#deddf0" />
<rect x="101.80" y="471.25" width="11.91" height="2.15" fill="#dddcf0" />
<rect x="113.41" y="471.25" width="11.91" height="2.15" fill="#eab5b6" />
<rect x="125.02" y="471.25" width="11.91" height="2.15" fill="#d16060" />
<rect x="136.63" y="471.25" width="11.91" height="2.15" fill="#dc8586" />
<rect x="43.75" y="473.10" width="11.91" height="2.15" fill="#5b54a0" />
<rect x="55.36" y="473.10" width="11.91" height="2.15" fill="#736eb3" />
<rect x="66.97" y="473.10" width="11.91" height="2.15" fill="#433a88" />
<rect x="78.58" y="473.10" width="11.91" height="2.15" fill="#f0d7da" />
<rect x="90.19" y="473.10" width="11.91" height="2.15" fill="#f4eef3" />
<rect x="101.80" y="473.10" width="11.91" height="2.15" fill="#f4eef3" />
<rect x="113.41" y="473.10" width="11.91" height="2.15" fill="#e39c9d" />
<rect x="125.02" y="473.10" width="11.91" height="2.15" fill="#cd5657" />
<rect x="136.63" y="473.10" width="11.91" height="2.15" fill="#c6494a" />
<rect x="43.75" y="474.95" width="11.91" height="2.15" fill="#645da8" />
<rect x="55.36" y="474.95" width="11.91" height="2.15" fill="#6d67af" />
<rect x="66.97" y="474.95" width="11.91" height="2.15" fill="#817dbc" />
<rect x="78.58" y="474.95" width="11.91" height="2.15" fill="#f2e2e6" />
<rect x="90.19" y="474.95" width="11.91" height="2.15" fill="#f1d9dd" />
<rect x="101.80" y="474.95" width="11.91" height="2.15" fill="#f1dce0" />
<rect x="113.41" y="474.95" width="11.91" height="2.15" fill="#d77676" />
<rect x="125.02" y="474.95" width="11.91" height="2.15" fill="#d56e6f" />
<rect x="136.63" y="474.95" width="11.91" height="2.15" fill="#d26565" />
<rect x="43.75" y="476.80" width="11.91" height="2.15" fill="#8a87c2" />
<rect x="55.36" y="476.80" width="11.91" height="2.15" fill="#6863ac" />
<rect x="66.97" y="476.80" width="11.91" height="2.15" fill="#5e57a2" />
<rect x="78.58" y="476.80" width="11.91" height="2.15" fill="#e3e1f2" />
<rect x="90.19" y="476.80" width="11.91" height="2.15" fill="#f2e0e4" />
<rect x="101.80" y="476.80" width="11.91" height="2.15" fill="#eceaf5" />
<rect x="113.41" y="476.80" width="11.91" height="2.15" fill="#dc8687" />
<rect x="125.02" y="476.80" width="11.91" height="2.15" fill="#d05e5f" />
<rect x="136.63" y="476.80" width="11.91" height="2.15" fill="#cc5454" />
<rect x="43.75" y="478.65" width="11.91" height="2.15" fill="#655fa9" />
<rect x="55.36" y="478.65" width="11.91" height="2.15" fill="#625ba6" />
<rect x="66.97" y="478.65" width="11.91" height="2.15" fill="#6761ab" />
<rect x="78.58" y="478.65" width="11.91" height="2.15" fill="#f4f2f7" />
<rect x="90.19" y="478.65" width="11.91" height="2.15" fill="#f1dfe3" />
<rect x="101.80" y="478.65" width="11.91" height="2.15" fill="#f2e1e5" />
<rect x="113.41" y="478.65" width="11.91" height="2.15" fill="#c84d4e" />
<rect x="125.02" y="478.65" width="11.91" height="2.15" fill="#d05f5f" />
<rect x="136.63" y="478.65" width="11.91" height="2.15" fill="#d77575" />
<rect x="43.75" y="480.50" width="11.91" height="2.15" fill="#524a97" />
<rect x="55.36" y="480.50" width="11.91" height="2.15" fill="#6a64ad" />
<rect x="66.97" y="480.50" width="11.91" height="2.15" fill="#4d4491" />
<rect x="78.58" y="480.50" width="11.91" height="2.15" fill="#f3ebf0" />
<rect x="90.19" y="480.50" width="11.91" height="2.15" fill="#f0d5d8" />
<rect x="101.80" y="480.50" width="11.91" height="2.15" fill="#f3eaef" />
<rect x="113.41" y="480.50" width="11.91" height="2.15" fill="#d87a7b" />
<rect x="125.02" y="480.50" width="11.91" height="2.15" fill="#cb5252" />
<rect x="136.63" y="480.50" width="11.91" height="2.15" fill="#c94f4f" />
<rect x="43.75" y="482.35" width="11.91" height="2.15" fill="#645da8" />
<rect x="55.36" y="482.35" width="11.91" height="2.15" fill="#706ab1" />
<rect x="66.97" y="482.35" width="11.91" height="2.15" fill="#6963ac" />
<rect x="78.58" y="482.35" width="11.91" height="2.15" fill="#f2e0e4" />
<rect x="90.19" y="482.35" width="11.91" height="2.15" fill="#eec9cc" />
<rect x="101.80" y="482.35" width="11.91" height="2.15" fill="#eec8ca" />
<rect x="113.41" y="482.35" width="11.91" height="2.15" fill="#df8f90" />
<rect x="125.02" y="482.35" width="11.91" height="2.15" fill="#c13f40" />
<rect x="136.63" y="482.35" width="11.91" height="2.15" fill="#cd5757" />
<rect x="43.75" y="484.20" width="11.91" height="2.15" fill="#817dbc" />
<rect x="55.36" y="484.20" width="11.91" height="2.15" fill="#9895cb" />
<rect x="66.97" y="484.20" width="11.91" height="2.15" fill="#524a96" />
<rect x="78.58" y="484.20" width="11.91" height="2.15" fill="#f3f1f7" />
<rect x="90.19" y="484.20" width="11.91" height="2.15" fill="#ecbabc" />
<rect x="101.80" y="484.20" width="11.91" height="2.15" fill="#f1dcdf" />
<rect x="113.41" y="484.20" width="11.91" height="2.15" fill="#da8081" />
<rect x="125.02" y="484.20" width="11.91" height="2.15" fill="#d46a6b" />
<rect x="136.63" y="484.20" width="11.91" height="2.15" fill="#c74b4c" />
<rect x="43.75" y="486.05" width="11.91" height="2.15" fill="#514996" />
<rect x="55.36" y="486.05" width="11.91" height="2.15" fill="#736db3" />
<rect x="66.97" y="486.05" width="11.91" height="2.15" fill="#5c55a1" />
<rect x="78.58" y="486.05" width="11.91" height="2.15" fill="#f3e7eb" />
<rect x="90.19" y="486.05" width="11.91" height="2.15" fill="#f2e5e9" />
<rect x="101.80" y="486.05" width="11.91" height="2.15" fill="#ecbabc" />
<rect x="113.41" y="486.05" width="11.91" height="2.15" fill="#e2999a" />
<rect x="125.02" y="486.05" width="11.91" height="2.15" fill="#c6494a" />
<rect x="136.63" y="486.05" width="11.91" height="2.15" fill="#d46c6d" />
<rect x="43.75" y="487.90" width="11.91" height="2.15" fill="#6c66ae" />
<rect x="55.36" y="487.90" width="11.91" height="2.15" fill="#5e58a3" />
<rect x="66.97" y="487.90" width="11.91" height="2.15" fill="#5a539f" />
<rect x="78.58" y="487.90" width="11.91" height="2.15" fill="#f4eff4" />
<rect x="90.19" y="487.90" width="11.91" height="2.15" fill="#eecccf" />
<rect x="101.80" y="487.90" width="11.91" height="2.15" fill="#f0d6d9" />
<rect x="113.41" y="487.90" width="11.91" height="2.15" fill="#d87979" />
<rect x="125.02" y="487.90" width="11.91" height="2.15" fill="#d16262" />
<rect x="136.63" y="487.90" width="11.91" height="2.15" fill="#d36869" />
<rect x="43.75" y="489.75" width="11.91" height="2.15" fill="#4a428f" />
<rect x="55.36" y="489.75" width="11.91" height="2.15" fill="#6963ad" />
<rect x="66.97" y="489.75" width="11.91" height="2.15" fill="#7e7aba" />
<rect x="78.58" y="489.75" width="11.91" height="2.15" fill="#eecbce" />
<rect x="90.19" y="489.75" width="11.91" height="2.15" fill="#ecbcbe" />
<rect x="101.80" y="489.75" width="11.91" height="2.15" fill="#edc0c2" />
<rect x="113.41" y="489.75" width="11.91" height="2.15" fill="#d16363" />
<rect x="125.02" y="489.75" width="11.91" height="2.15" fill="#d56d6e" />
<rect x="136.63" y="489.75" width="11.91" height="2.15" fill="#d26767" />
<rect x="43.75" y="491.60" width="11.91" height="2.15" fill="#49408e" />
<rect x="55.36" y="491.60" width="11.91" height="2.15" fill="#645da8" />
<rect x="66.97" y="491.60" width="11.91" height="2.15" fill="#453b8a" />
<rect x="78.58" y="491.60" width="11.91" height="2.15" fill="#f2e0e4" />
<rect x="90.19" y="491.60" width="11.91" height="2.15" fill="#edc5c8" />
<rect x="101.80" y="491.60" width="11.91" height="2.15" fill="#eec6c9" />
<rect x="113.41" y="491.60" width="11.91" height="2.15" fill="#eab4b6" />
<rect x="125.02" y="491.60" width="11.91" height="2.15" fill="#da7f7f" />
<rect x="136.63" y="491.60" width="11.91" height="2.15" fill="#e2999a" />
<rect x="43.75" y="493.45" width="11.91" height="2.21" fill="#645ea8" />
<rect x="55.36" y="493.45" width="11.91" height="2.21" fill="#6c66ae" />
<rect x="66.97" y="493.45" width="11.91" height="2.21" fill="#8682bf" />
<rect x="78.58" y="493.45" width="11.91" height="2.21" fill="#d36869" />
<rect x="90.19" y="493.45" width="11.91" height="2.21" fill="#e6a8a9" />
<rect x="101.80" y="493.45" width="11.91" height="2.21" fill="#e5a4a6" />
<rect x="113.41" y="493.45" width="11.91" height="2.21" fill="#eab4b6" />
<rect x="125.02" y="493.45" width="11.91" height="2.21" fill="#f0d9dd" />
<rect x="136.63" y="493.45" width="11.91" height="2.21" fill="#ecbcbe" />
<rect x="43.75" y="495.36" width="11.91" height="2.21" fill="#6963ad" />
<rect x="55.36" y="495.36" width="11.91" height="2.21" fill="#7d78ba" />
<rect x="66.97" y="495.36" width="11.91" height="2.21" fill="#8783c0" />
<rect x="78.58" y="495.36" width="11.91" height="2.21" fill="#d87a7b" />
<rect x="90.19" y="495.36" width="11.91" height="2.21" fill="#e29a9c" />
<rect x="101.80" y="495.36" width="11.91" height="2.21" fill="#e8adaf" />
<rect x="113.41" y="495.36" width="11.91" height="2.21" fill="#d87a7b" />
<rect x="125.02" y="495.36" width="11.91" height="2.21" fill="#e29c9d" />
<rect x="136.63" y="495.36" width="11.91" height="2.21" fill="#ecbabc" />
<rect x="43.75" y="497.28" width="11.91" height="2.21" fill="#6b65ae" />
<rect x="55.36" y="497.28" width="11.91" height="2.21" fill="#7a75b8" />
<rect x="66.97" y="497.28" width="11.91" height="2.21" fill="#7570b4" />
<rect x="78.58" y="497.28" width="11.91" height="2.21" fill="#e9b2b4" />
<rect x="90.19" y="497.28" width="11.91" height="2.21" fill="#e39d9e" />
<rect x="101.80" y="497.28" width="11.91" height="2.21" fill="#de8e8f" />
<rect x="113.41" y="497.28" width="11.91" height="2.21" fill="#e29b9c" />
<rect x="125.02" y="497.28" width="11.91" height="2.21" fill="#e7a9ab" />
<rect x="136.63" y="497.28" width="11.91" height="2.21" fill="#ecbec0" />
<rect x="43.75" y="499.19" width="11.91" height="2.21" fill="#5a539f" />
<rect x="55.36" y="499.19" width="11.91" height="2.21" fill="#625ca7" />
<rect x="66.97" y="499.19" width="11.91" height="2.21" fill="#aaa9d7" />
<rect x="78.58" y="499.19" width="11.91" height="2.21" fill="#dd8b8c" />
<rect x="90.19" y="499.19" width="11.91" height="2.21" fill="#e49fa1" />
<rect x="101.80" y="499.19" width="11.91" height="2.21" fill="#da8182" />
<rect x="113.41" y="499.19" width="11.91" height="2.21" fill="#ebb9bb" />
<rect x="125.02" y="499.19" width="11.91" height="2.21" fill="#edc2c4" />
<rect x="136.63" y="499.19" width="11.91" height="2.21" fill="#edc6c9" />
<rect x="43.75" y="501.10" width="11.91" height="2.21" fill="#5f58a3" />
<rect x="55.36" y="501.10" width="11.91" height="2.21" fill="#645ea9" />
<rect x="66.97" y="501.10" width="11.91" height="2.21" fill="#6c66ae" />
<rect x="78.58" y="501.10" width="11.91" height="2.21" fill="#e8afb1" />
<rect x="90.19" y="501.10" width="11.91" height="2.21" fill="#df9091" />
<rect x="101.80" y="501.10" width="11.91" height="2.21" fill="#e7a9ab" />
<rect x="113.41" y="501.10" width="11.91" height="2.21" fill="#ecbfc1" />
<rect x="125.02" y="501.10" width="11.91" height="2.21" fill="#edc5c8" />
<rect x="136.63" y="501.10" width="11.91" height="2.21" fill="#ebb9bb" />
<rect x="43.75" y="503.01" width="11.91" height="2.21" fill="#5c55a0" />
<rect x="55.36" y="503.01" width="11.91" height="2.21" fill="#483f8d" />
<rect x="66.97" y="503.01" width="11.91" height="2.21" fill="#524a97" />
<rect x="78.58" y="503.01" width="11.91" height="2.21" fill="#ecbec0" />
<rect x="90.19" y="503.01" width="11.91" height="2.21" fill="#edc3c6" />
<rect x="101.80" y="503.01" width="11.91" height="2.21" fill="#edc1c3" />
<rect x="113.41" y="503.01" width="11.91" height="2.21" fill="#f2e1e6" />
<rect x="125.02" y="503.01" width="11.91" height="2.21" fill="#edc6c8" />
<rect x="136.63" y="503.01" width="11.91" height="2.21" fill="#f2f0f7" />
<rect x="43.75" y="504.93" width="11.91" height="2.21" fill="#726db2" />
<rect x="55.36" y="504.93" width="11.91" height="2.21" fill="#8480be" />
<rect x="66.97" y="504.93" width="11.91" height="2.21" fill="#837fbe" />
<rect x="78.58" y="504.93" width="11.91" height="2.21" fill="#e7a9ab" />
<rect x="90.19" y="504.93" width="11.91" height="2.21" fill="#dd8a8b" />
<rect x="101.80" y="504.93" width="11.91" height="2.21" fill="#ebb7b9" />
<rect x="113.41" y="504.93" width="11.91" height="2.21" fill="#e7abad" />
<rect x="125.02" y="504.93" width="11.91" height="2.21" fill="#ecbdbf" />
<rect x="136.63" y="504.93" width="11.91" height="2.21" fill="#efd0d3" />
<rect x="43.75" y="506.84" width="11.91" height="2.21" fill="#645ea8" />
<rect x="55.36" y="506.84" width="11.91" height="2.21" fill="#574f9b" />
<rect x="66.97" y="506.84" width="11.91" height="2.21" fill="#5f59a4" />
<rect x="78.58" y="506.84" width="11.91" height="2.21" fill="#ebb7b9" />
<rect x="90.19" y="506.84" width="11.91" height="2.21" fill="#e4a0a2" />
<rect x="101.80" y="506.84" width="11.91" height="2.21" fill="#edc5c8" />
<rect x="113.41" y="506.84" width="11.91" height="2.21" fill="#f1dde1" />
<rect x="125.02" y="506.84" width="11.91" height="2.21" fill="#f2e2e6" />
<rect x="136.63" y="506.84" width="11.91" height="2.21" fill="#ecbabc" />
<line x1="61.16" y1="406.25" x2="61.16" y2="404.60" stroke="#777" stroke-width="0.5" />
<line x1="72.78" y1="406.25" x2="72.78" y2="404.60" stroke="#777" stroke-width="0.5" />
<line x1="61.16" y1="404.60" x2="72.78" y2="404.60" stroke="#777" stroke-width="0.5" />
<line x1="49.55" y1="406.25" x2="49.55" y2="403.70" stroke="#777" stroke-width="0.5" />
<line x1="66.97" y1="404.60" x2="66.97" y2="403.70" stroke="#777" stroke-width="0.5" />
<line x1="49.55" y1="403.70" x2="66.97" y2="403.70" stroke="#777" stroke-width="0.5" />
<line x1="96.00" y1="406.25" x2="96.00" y2="404.80" stroke="#777" stroke-width="0.5" />
<line x1="107.60" y1="406.25" x2="107.60" y2="404.80" stroke="#777" stroke-width="0.5" />
<line x1="96.00" y1="404.80" x2="107.60" y2="404.80" stroke="#777" stroke-width="0.5" />
<line x1="84.38" y1="406.25" x2="84.38" y2="402.30" stroke="#777" stroke-width="0.5" />
<line x1="101.80" y1="404.80" x2="101.80" y2="402.30" stroke="#777" stroke-width="0.5" />
<line x1="84.38" y1="402.30" x2="101.80" y2="402.30" stroke="#777" stroke-width="0.5" />
<line x1="130.82" y1="406.25" x2="130.82" y2="404.60" stroke="#777" stroke-width="0.5" />
<line x1="142.44" y1="406.25" x2="142.44" y2="404.60" stroke="#777" stroke-width="0.5" />
<line x1="130.82" y1="404.60" x2="142.44" y2="404.60" stroke="#777" stroke-width="0.5" />
<line x1="119.22" y1="406.25" x2="119.22" y2="402.30" stroke="#777" stroke-width="0.5" />
<line x1="136.63" y1="404.60" x2="136.63" y2="402.30" stroke="#777" stroke-width="0.5" />
<line x1="119.22" y1="402.30" x2="136.63" y2="402.30" stroke="#777" stroke-width="0.5" />
<line x1="93.09" y1="402.30" x2="93.09" y2="398.80" stroke="#777" stroke-width="0.5" />
<line x1="127.92" y1="402.30" x2="127.92" y2="398.80" stroke="#777" stroke-width="0.5" />
<line x1="93.09" y1="398.80" x2="127.92" y2="398.80" stroke="#777" stroke-width="0.5" />
<line x1="58.26" y1="403.70" x2="58.26" y2="393.80" stroke="#777" stroke-width="0.5" />
<line x1="110.51" y1="398.80" x2="110.51" y2="393.80" stroke="#777" stroke-width="0.5" />
<line x1="58.26" y1="393.80" x2="110.51" y2="393.80" stroke="#777" stroke-width="0.5" />
<line x1="43.28" y1="411.25" x2="43.28" y2="411.91" stroke="#000" stroke-width="0.6" />
<line x1="43.28" y1="411.25" x2="43.60" y2="411.25" stroke="#000" stroke-width="0.6" />
<line x1="43.28" y1="411.91" x2="43.60" y2="411.91" stroke="#000" stroke-width="0.6" />
<line x1="42.48" y1="410.58" x2="42.48" y2="411.58" stroke="#000" stroke-width="0.6" />
<line x1="42.48" y1="410.58" x2="43.60" y2="410.58" stroke="#000" stroke-width="0.6" />
<line x1="42.48" y1="411.58" x2="43.28" y2="411.58" stroke="#000" stroke-width="0.6" />
<line x1="41.62" y1="409.91" x2="41.62" y2="411.08" stroke="#000" stroke-width="0.6" />
<line x1="41.62" y1="409.91" x2="43.60" y2="409.91" stroke="#000" stroke-width="0.6" />
<line x1="41.62" y1="411.08" x2="42.48" y2="411.08" stroke="#000" stroke-width="0.6" />
<line x1="43.36" y1="413.91" x2="43.36" y2="414.58" stroke="#000" stroke-width="0.6" />
<line x1="43.36" y1="413.91" x2="43.60" y2="413.91" stroke="#000" stroke-width="0.6" />
<line x1="43.36" y1="414.58" x2="43.60" y2="414.58" stroke="#000" stroke-width="0.6" />
<line x1="42.85" y1="413.24" x2="42.85" y2="414.24" stroke="#000" stroke-width="0.6" />
<line x1="42.85" y1="413.24" x2="43.60" y2="413.24" stroke="#000" stroke-width="0.6" />
<line x1="42.85" y1="414.24" x2="43.36" y2="414.24" stroke="#000" stroke-width="0.6" />
<line x1="41.95" y1="412.58" x2="41.95" y2="413.74" stroke="#000" stroke-width="0.6" />
<line x1="41.95" y1="412.58" x2="43.60" y2="412.58" stroke="#000" stroke-width="0.6" />
<line x1="41.95" y1="413.74" x2="42.85" y2="413.74" stroke="#000" stroke-width="0.6" />
<line x1="41.09" y1="410.50" x2="41.09" y2="413.16" stroke="#000" stroke-width="0.6" />
<line x1="41.09" y1="410.50" x2="41.62" y2="410.50" stroke="#000" stroke-width="0.6" />
<line x1="41.09" y1="413.16" x2="41.95" y2="413.16" stroke="#000" stroke-width="0.6" />
<line x1="42.98" y1="415.24" x2="42.98" y2="415.91" stroke="#000" stroke-width="0.6" />
<line x1="42.98" y1="415.24" x2="43.60" y2="415.24" stroke="#000" stroke-width="0.6" />
<line x1="42.98" y1="415.91" x2="43.60" y2="415.91" stroke="#000" stroke-width="0.6" />
<line x1="40.29" y1="411.83" x2="40.29" y2="415.58" stroke="#000" stroke-width="0.6" />
<line x1="40.29" y1="411.83" x2="41.09" y2="411.83" stroke="#000" stroke-width="0.6" />
<line x1="40.29" y1="415.58" x2="42.98" y2="415.58" stroke="#000" stroke-width="0.6" />
<line x1="39.65" y1="409.25" x2="39.65" y2="413.70" stroke="#000" stroke-width="0.6" />
<line x1="39.65" y1="409.25" x2="43.60" y2="409.25" stroke="#000" stroke-width="0.6" />
<line x1="39.65" y1="413.70" x2="40.29" y2="413.70" stroke="#000" stroke-width="0.6" />
<line x1="39.27" y1="408.58" x2="39.27" y2="411.47" stroke="#000" stroke-width="0.6" />
<line x1="39.27" y1="408.58" x2="43.60" y2="408.58" stroke="#000" stroke-width="0.6" />
<line x1="39.27" y1="411.47" x2="39.65" y2="411.47" stroke="#000" stroke-width="0.6" />
<line x1="38.75" y1="410.03" x2="38.75" y2="416.57" stroke="#000" stroke-width="0.6" />
<line x1="38.75" y1="410.03" x2="39.27" y2="410.03" stroke="#000" stroke-width="0.6" />
<line x1="38.75" y1="416.57" x2="43.60" y2="416.57" stroke="#000" stroke-width="0.6" />
<line x1="42.96" y1="419.24" x2="42.96" y2="419.91" stroke="#000" stroke-width="0.6" />
<line x1="42.96" y1="419.24" x2="43.60" y2="419.24" stroke="#000" stroke-width="0.6" />
<line x1="42.96" y1="419.91" x2="43.60" y2="419.91" stroke="#000" stroke-width="0.6" />
<line x1="42.17" y1="419.57" x2="42.17" y2="420.57" stroke="#000" stroke-width="0.6" />
<line x1="42.17" y1="419.57" x2="42.96" y2="419.57" stroke="#000" stroke-width="0.6" />
<line x1="42.17" y1="420.57" x2="43.60" y2="420.57" stroke="#000" stroke-width="0.6" />
<line x1="41.34" y1="418.57" x2="41.34" y2="420.07" stroke="#000" stroke-width="0.6" />
<line x1="41.34" y1="418.57" x2="43.60" y2="418.57" stroke="#000" stroke-width="0.6" />
<line x1="41.34" y1="420.07" x2="42.17" y2="420.07" stroke="#000" stroke-width="0.6" />
<line x1="40.92" y1="419.32" x2="40.92" y2="421.24" stroke="#000" stroke-width="0.6" />
<line x1="40.92" y1="419.32" x2="41.34" y2="419.32" stroke="#000" stroke-width="0.6" />
<line x1="40.92" y1="421.24" x2="43.60" y2="421.24" stroke="#000" stroke-width="0.6" />
<line x1="40.38" y1="417.91" x2="40.38" y2="420.28" stroke="#000" stroke-width="0.6" />
<line x1="40.38" y1="417.91" x2="43.60" y2="417.91" stroke="#000" stroke-width="0.6" />
<line x1="40.38" y1="420.28" x2="40.92" y2="420.28" stroke="#000" stroke-width="0.6" />
<line x1="43.11" y1="421.90" x2="43.11" y2="422.57" stroke="#000" stroke-width="0.6" />
<line x1="43.11" y1="421.90" x2="43.60" y2="421.90" stroke="#000" stroke-width="0.6" />
<line x1="43.11" y1="422.57" x2="43.60" y2="422.57" stroke="#000" stroke-width="0.6" />
<line x1="39.60" y1="419.09" x2="39.60" y2="422.24" stroke="#000" stroke-width="0.6" />
<line x1="39.60" y1="419.09" x2="40.38" y2="419.09" stroke="#000" stroke-width="0.6" />
<line x1="39.60" y1="422.24" x2="43.11" y2="422.24" stroke="#000" stroke-width="0.6" />
<line x1="38.56" y1="417.24" x2="38.56" y2="420.67" stroke="#000" stroke-width="0.6" />
<line x1="38.56" y1="417.24" x2="43.60" y2="417.24" stroke="#000" stroke-width="0.6" />
<line x1="38.56" y1="420.67" x2="39.60" y2="420.67" stroke="#000" stroke-width="0.6" />
<line x1="42.53" y1="425.90" x2="42.53" y2="426.57" stroke="#000" stroke-width="0.6" />
<line x1="42.53" y1="425.90" x2="43.60" y2="425.90" stroke="#000" stroke-width="0.6" />
<line x1="42.53" y1="426.57" x2="43.60" y2="426.57" stroke="#000" stroke-width="0.6" />
<line x1="42.02" y1="425.23" x2="42.02" y2="426.23" stroke="#000" stroke-width="0.6" />
<line x1="42.02" y1="425.23" x2="43.60" y2="425.23" stroke="#000" stroke-width="0.6" />
<line x1="42.02" y1="426.23" x2="42.53" y2="426.23" stroke="#000" stroke-width="0.6" />
<line x1="41.55" y1="425.73" x2="41.55" y2="427.23" stroke="#000" stroke-width="0.6" />
<line x1="41.55" y1="425.73" x2="42.02" y2="425.73" stroke="#000" stroke-width="0.6" />
<line x1="41.55" y1="427.23" x2="43.60" y2="427.23" stroke="#000" stroke-width="0.6" />
<line x1="43.05" y1="427.90" x2="43.05" y2="428.57" stroke="#000" stroke-width="0.6" />
<line x1="43.05" y1="427.90" x2="43.60" y2="427.90" stroke="#000" stroke-width="0.6" />
<line x1="43.05" y1="428.57" x2="43.60" y2="428.57" stroke="#000" stroke-width="0.6" />
<line x1="41.31" y1="426.48" x2="41.31" y2="428.23" stroke="#000" stroke-width="0.6" />
<line x1="41.31" y1="426.48" x2="41.55" y2="426.48" stroke="#000" stroke-width="0.6" />
<line x1="41.31" y1="428.23" x2="43.05" y2="428.23" stroke="#000" stroke-width="0.6" />
<line x1="41.03" y1="424.57" x2="41.03" y2="427.36" stroke="#000" stroke-width="0.6" />
<line x1="41.03" y1="424.57" x2="43.60" y2="424.57" stroke="#000" stroke-width="0.6" />
<line x1="41.03" y1="427.36" x2="41.31" y2="427.36" stroke="#000" stroke-width="0.6" />
<line x1="42.85" y1="431.23" x2="42.85" y2="431.90" stroke="#000" stroke-width="0.6" />
<line x1="42.85" y1="431.23" x2="43.60" y2="431.23" stroke="#000" stroke-width="0.6" />
<line x1="42.85" y1="431.90" x2="43.60" y2="431.90" stroke="#000" stroke-width="0.6" />
<line x1="42.07" y1="431.56" x2="42.07" y2="432.56" stroke="#000" stroke-width="0.6" />
<line x1="42.07" y1="431.56" x2="42.85" y2="431.56" stroke="#000" stroke-width="0.6" />
<line x1="42.07" y1="432.56" x2="43.60" y2="432.56" stroke="#000" stroke-width="0.6" />
<line x1="41.54" y1="430.56" x2="41.54" y2="432.06" stroke="#000" stroke-width="0.6" />
<line x1="41.54" y1="430.56" x2="43.60" y2="430.56" stroke="#000" stroke-width="0.6" />
<line x1="41.54" y1="432.06" x2="42.07" y2="432.06" stroke="#000" stroke-width="0.6" />
<line x1="41.27" y1="429.90" x2="41.27" y2="431.31" stroke="#000" stroke-width="0.6" />
<line x1="41.27" y1="429.90" x2="43.60" y2="429.90" stroke="#000" stroke-width="0.6" />
<line x1="41.27" y1="431.31" x2="41.54" y2="431.31" stroke="#000" stroke-width="0.6" />
<line x1="40.25" y1="430.61" x2="40.25" y2="433.23" stroke="#000" stroke-width="0.6" />
<line x1="40.25" y1="430.61" x2="41.27" y2="430.61" stroke="#000" stroke-width="0.6" />
<line x1="40.25" y1="433.23" x2="43.60" y2="433.23" stroke="#000" stroke-width="0.6" />
<line x1="39.74" y1="429.23" x2="39.74" y2="431.92" stroke="#000" stroke-width="0.6" />
<line x1="39.74" y1="429.23" x2="43.60" y2="429.23" stroke="#000" stroke-width="0.6" />
<line x1="39.74" y1="431.92" x2="40.25" y2="431.92" stroke="#000" stroke-width="0.6" />
<line x1="38.57" y1="430.57" x2="38.57" y2="433.89" stroke="#000" stroke-width="0.6" />
<line x1="38.57" y1="430.57" x2="39.74" y2="430.57" stroke="#000" stroke-width="0.6" />
<line x1="38.57" y1="433.89" x2="43.60" y2="433.89" stroke="#000" stroke-width="0.6" />
<line x1="37.72" y1="425.96" x2="37.72" y2="432.23" stroke="#000" stroke-width="0.6" />
<line x1="37.72" y1="425.96" x2="41.03" y2="425.96" stroke="#000" stroke-width="0.6" />
<line x1="37.72" y1="432.23" x2="38.57" y2="432.23" stroke="#000" stroke-width="0.6" />
<line x1="42.55" y1="437.23" x2="42.55" y2="437.89" stroke="#000" stroke-width="0.6" />
<line x1="42.55" y1="437.23" x2="43.60" y2="437.23" stroke="#000" stroke-width="0.6" />
<line x1="42.55" y1="437.89" x2="43.60" y2="437.89" stroke="#000" stroke-width="0.6" />
<line x1="42.18" y1="437.56" x2="42.18" y2="438.56" stroke="#000" stroke-width="0.6" />
<line x1="42.18" y1="437.56" x2="42.55" y2="437.56" stroke="#000" stroke-width="0.6" />
<line x1="42.18" y1="438.56" x2="43.60" y2="438.56" stroke="#000" stroke-width="0.6" />
<line x1="41.90" y1="436.56" x2="41.90" y2="438.06" stroke="#000" stroke-width="0.6" />
<line x1="41.90" y1="436.56" x2="43.60" y2="436.56" stroke="#000" stroke-width="0.6" />
<line x1="41.90" y1="438.06" x2="42.18" y2="438.06" stroke="#000" stroke-width="0.6" />
<line x1="42.90" y1="439.22" x2="42.90" y2="439.89" stroke="#000" stroke-width="0.6" />
<line x1="42.90" y1="439.22" x2="43.60" y2="439.22" stroke="#000" stroke-width="0.6" />
<line x1="42.90" y1="439.89" x2="43.60" y2="439.89" stroke="#000" stroke-width="0.6" />
<line x1="42.58" y1="439.56" x2="42.58" y2="440.56" stroke="#000" stroke-width="0.6" />
<line x1="42.58" y1="439.56" x2="42.90" y2="439.56" stroke="#000" stroke-width="0.6" />
<line x1="42.58" y1="440.56" x2="43.60" y2="440.56" stroke="#000" stroke-width="0.6" />
<line x1="43.05" y1="441.22" x2="43.05" y2="441.89" stroke="#000" stroke-width="0.6" />
<line x1="43.05" y1="441.22" x2="43.60" y2="441.22" stroke="#000" stroke-width="0.6" />
<line x1="43.05" y1="441.89" x2="43.60" y2="441.89" stroke="#000" stroke-width="0.6" />
<line x1="41.73" y1="440.06" x2="41.73" y2="441.55" stroke="#000" stroke-width="0.6" />
<line x1="41.73" y1="440.06" x2="42.58" y2="440.06" stroke="#000" stroke-width="0.6" />
<line x1="41.73" y1="441.55" x2="43.05" y2="441.55" stroke="#000" stroke-width="0.6" />
<line x1="40.74" y1="437.31" x2="40.74" y2="440.81" stroke="#000" stroke-width="0.6" />
<line x1="40.74" y1="437.31" x2="41.90" y2="437.31" stroke="#000" stroke-width="0.6" />
<line x1="40.74" y1="440.81" x2="41.73" y2="440.81" stroke="#000" stroke-width="0.6" />
<line x1="42.47" y1="443.22" x2="42.47" y2="443.89" stroke="#000" stroke-width="0.6" />
<line x1="42.47" y1="443.22" x2="43.60" y2="443.22" stroke="#000" stroke-width="0.6" />
<line x1="42.47" y1="443.89" x2="43.60" y2="443.89" stroke="#000" stroke-width="0.6" />
<line x1="42.16" y1="442.55" x2="42.16" y2="443.55" stroke="#000" stroke-width="0.6" />
<line x1="42.16" y1="442.55" x2="43.60" y2="442.55" stroke="#000" stroke-width="0.6" />
<line x1="42.16" y1="443.55" x2="42.47" y2="443.55" stroke="#000" stroke-width="0.6" />
<line x1="41.02" y1="443.05" x2="41.02" y2="444.55" stroke="#000" stroke-width="0.6" />
<line x1="41.02" y1="443.05" x2="42.16" y2="443.05" stroke="#000" stroke-width="0.6" />
<line x1="41.02" y1="444.55" x2="43.60" y2="444.55" stroke="#000" stroke-width="0.6" />
<line x1="42.52" y1="445.22" x2="42.52" y2="445.88" stroke="#000" stroke-width="0.6" />
<line x1="42.52" y1="445.22" x2="43.60" y2="445.22" stroke="#000" stroke-width="0.6" />
<line x1="42.52" y1="445.88" x2="43.60" y2="445.88" stroke="#000" stroke-width="0.6" />
<line x1="42.17" y1="445.55" x2="42.17" y2="446.55" stroke="#000" stroke-width="0.6" />
<line x1="42.17" y1="445.55" x2="42.52" y2="445.55" stroke="#000" stroke-width="0.6" />
<line x1="42.17" y1="446.55" x2="43.60" y2="446.55" stroke="#000" stroke-width="0.6" />
<line x1="39.87" y1="443.80" x2="39.87" y2="446.05" stroke="#000" stroke-width="0.6" />
<line x1="39.87" y1="443.80" x2="41.02" y2="443.80" stroke="#000" stroke-width="0.6" />
<line x1="39.87" y1="446.05" x2="42.17" y2="446.05" stroke="#000" stroke-width="0.6" />
<line x1="39.01" y1="439.06" x2="39.01" y2="444.93" stroke="#000" stroke-width="0.6" />
<line x1="39.01" y1="439.06" x2="40.74" y2="439.06" stroke="#000" stroke-width="0.6" />
<line x1="39.01" y1="444.93" x2="39.87" y2="444.93" stroke="#000" stroke-width="0.6" />
<line x1="38.72" y1="435.89" x2="38.72" y2="441.99" stroke="#000" stroke-width="0.6" />
<line x1="38.72" y1="435.89" x2="43.60" y2="435.89" stroke="#000" stroke-width="0.6" />
<line x1="38.72" y1="441.99" x2="39.01" y2="441.99" stroke="#000" stroke-width="0.6" />
<line x1="38.33" y1="435.23" x2="38.33" y2="438.94" stroke="#000" stroke-width="0.6" />
<line x1="38.33" y1="435.23" x2="43.60" y2="435.23" stroke="#000" stroke-width="0.6" />
<line x1="38.33" y1="438.94" x2="38.72" y2="438.94" stroke="#000" stroke-width="0.6" />
<line x1="37.50" y1="434.56" x2="37.50" y2="437.08" stroke="#000" stroke-width="0.6" />
<line x1="37.50" y1="434.56" x2="43.60" y2="434.56" stroke="#000" stroke-width="0.6" />
<line x1="37.50" y1="437.08" x2="38.33" y2="437.08" stroke="#000" stroke-width="0.6" />
<line x1="36.73" y1="429.10" x2="36.73" y2="435.82" stroke="#000" stroke-width="0.6" />
<line x1="36.73" y1="429.10" x2="37.72" y2="429.10" stroke="#000" stroke-width="0.6" />
<line x1="36.73" y1="435.82" x2="37.50" y2="435.82" stroke="#000" stroke-width="0.6" />
<line x1="35.80" y1="423.90" x2="35.80" y2="432.46" stroke="#000" stroke-width="0.6" />
<line x1="35.80" y1="423.90" x2="43.60" y2="423.90" stroke="#000" stroke-width="0.6" />
<line x1="35.80" y1="432.46" x2="36.73" y2="432.46" stroke="#000" stroke-width="0.6" />
<line x1="34.69" y1="423.24" x2="34.69" y2="428.18" stroke="#000" stroke-width="0.6" />
<line x1="34.69" y1="423.24" x2="43.60" y2="423.24" stroke="#000" stroke-width="0.6" />
<line x1="34.69" y1="428.18" x2="35.80" y2="428.18" stroke="#000" stroke-width="0.6" />
<line x1="34.25" y1="425.71" x2="34.25" y2="447.22" stroke="#000" stroke-width="0.6" />
<line x1="34.25" y1="425.71" x2="34.69" y2="425.71" stroke="#000" stroke-width="0.6" />
<line x1="34.25" y1="447.22" x2="43.60" y2="447.22" stroke="#000" stroke-width="0.6" />
<line x1="34.01" y1="418.95" x2="34.01" y2="436.46" stroke="#000" stroke-width="0.6" />
<line x1="34.01" y1="418.95" x2="38.56" y2="418.95" stroke="#000" stroke-width="0.6" />
<line x1="34.01" y1="436.46" x2="34.25" y2="436.46" stroke="#000" stroke-width="0.6" />
<line x1="32.91" y1="413.30" x2="32.91" y2="427.71" stroke="#000" stroke-width="0.6" />
<line x1="32.91" y1="413.30" x2="38.75" y2="413.30" stroke="#000" stroke-width="0.6" />
<line x1="32.91" y1="427.71" x2="34.01" y2="427.71" stroke="#000" stroke-width="0.6" />
<line x1="32.67" y1="407.92" x2="32.67" y2="420.50" stroke="#000" stroke-width="0.6" />
<line x1="32.67" y1="407.92" x2="43.60" y2="407.92" stroke="#000" stroke-width="0.6" />
<line x1="32.67" y1="420.50" x2="32.91" y2="420.50" stroke="#000" stroke-width="0.6" />
<line x1="22.61" y1="407.25" x2="22.61" y2="414.21" stroke="#888" stroke-width="0.5" />
<line x1="22.61" y1="407.25" x2="43.60" y2="407.25" stroke="#888" stroke-width="0.5" />
<line x1="22.61" y1="414.21" x2="32.67" y2="414.21" stroke="#888" stroke-width="0.5" />
<line x1="18.80" y1="406.58" x2="18.80" y2="410.73" stroke="#888" stroke-width="0.5" />
<line x1="18.80" y1="406.58" x2="43.60" y2="406.58" stroke="#888" stroke-width="0.5" />
<line x1="18.80" y1="410.73" x2="22.61" y2="410.73" stroke="#888" stroke-width="0.5" />
<line x1="36.00" y1="447.93" x2="36.00" y2="448.68" stroke="#888" stroke-width="0.5" />
<line x1="36.00" y1="447.93" x2="43.60" y2="447.93" stroke="#888" stroke-width="0.5" />
<line x1="36.00" y1="448.68" x2="43.60" y2="448.68" stroke="#888" stroke-width="0.5" />
<line x1="42.72" y1="450.71" x2="42.72" y2="451.37" stroke="#000" stroke-width="0.6" />
<line x1="42.72" y1="450.71" x2="43.60" y2="450.71" stroke="#000" stroke-width="0.6" />
<line x1="42.72" y1="451.37" x2="43.60" y2="451.37" stroke="#000" stroke-width="0.6" />
<line x1="42.33" y1="450.04" x2="42.33" y2="451.04" stroke="#000" stroke-width="0.6" />
<line x1="42.33" y1="450.04" x2="43.60" y2="450.04" stroke="#000" stroke-width="0.6" />
<line x1="42.33" y1="451.04" x2="42.72" y2="451.04" stroke="#000" stroke-width="0.6" />
<line x1="41.70" y1="449.38" x2="41.70" y2="450.54" stroke="#000" stroke-width="0.6" />
<line x1="41.70" y1="449.38" x2="43.60" y2="449.38" stroke="#000" stroke-width="0.6" />
<line x1="41.70" y1="450.54" x2="42.33" y2="450.54" stroke="#000" stroke-width="0.6" />
<line x1="43.26" y1="452.69" x2="43.26" y2="453.36" stroke="#000" stroke-width="0.6" />
<line x1="43.26" y1="452.69" x2="43.60" y2="452.69" stroke="#000" stroke-width="0.6" />
<line x1="43.26" y1="453.36" x2="43.60" y2="453.36" stroke="#000" stroke-width="0.6" />
<line x1="42.45" y1="452.03" x2="42.45" y2="453.03" stroke="#000" stroke-width="0.6" />
<line x1="42.45" y1="452.03" x2="43.60" y2="452.03" stroke="#000" stroke-width="0.6" />
<line x1="42.45" y1="453.03" x2="43.26" y2="453.03" stroke="#000" stroke-width="0.6" />
<line x1="42.95" y1="454.02" x2="42.95" y2="454.68" stroke="#000" stroke-width="0.6" />
<line x1="42.95" y1="454.02" x2="43.60" y2="454.02" stroke="#000" stroke-width="0.6" />
<line x1="42.95" y1="454.68" x2="43.60" y2="454.68" stroke="#000" stroke-width="0.6" />
<line x1="41.42" y1="452.53" x2="41.42" y2="454.35" stroke="#000" stroke-width="0.6" />
<line x1="41.42" y1="452.53" x2="42.45" y2="452.53" stroke="#000" stroke-width="0.6" />
<line x1="41.42" y1="454.35" x2="42.95" y2="454.35" stroke="#000" stroke-width="0.6" />
<line x1="40.29" y1="449.96" x2="40.29" y2="453.44" stroke="#000" stroke-width="0.6" />
<line x1="40.29" y1="449.96" x2="41.70" y2="449.96" stroke="#000" stroke-width="0.6" />
<line x1="40.29" y1="453.44" x2="41.42" y2="453.44" stroke="#000" stroke-width="0.6" />
<line x1="42.82" y1="456.01" x2="42.82" y2="456.67" stroke="#000" stroke-width="0.6" />
<line x1="42.82" y1="456.01" x2="43.60" y2="456.01" stroke="#000" stroke-width="0.6" />
<line x1="42.82" y1="456.67" x2="43.60" y2="456.67" stroke="#000" stroke-width="0.6" />
<line x1="42.12" y1="455.35" x2="42.12" y2="456.34" stroke="#000" stroke-width="0.6" />
<line x1="42.12" y1="455.35" x2="43.60" y2="455.35" stroke="#000" stroke-width="0.6" />
<line x1="42.12" y1="456.34" x2="42.82" y2="456.34" stroke="#000" stroke-width="0.6" />
<line x1="39.16" y1="451.70" x2="39.16" y2="455.84" stroke="#000" stroke-width="0.6" />
<line x1="39.16" y1="451.70" x2="40.29" y2="451.70" stroke="#000" stroke-width="0.6" />
<line x1="39.16" y1="455.84" x2="42.12" y2="455.84" stroke="#000" stroke-width="0.6" />
<line x1="42.70" y1="457.33" x2="42.70" y2="458.00" stroke="#000" stroke-width="0.6" />
<line x1="42.70" y1="457.33" x2="43.60" y2="457.33" stroke="#000" stroke-width="0.6" />
<line x1="42.70" y1="458.00" x2="43.60" y2="458.00" stroke="#000" stroke-width="0.6" />
<line x1="43.08" y1="459.32" x2="43.08" y2="459.98" stroke="#000" stroke-width="0.6" />
<line x1="43.08" y1="459.32" x2="43.60" y2="459.32" stroke="#000" stroke-width="0.6" />
<line x1="43.08" y1="459.98" x2="43.60" y2="459.98" stroke="#000" stroke-width="0.6" />
<line x1="41.83" y1="458.66" x2="41.83" y2="459.65" stroke="#000" stroke-width="0.6" />
<line x1="41.83" y1="458.66" x2="43.60" y2="458.66" stroke="#000" stroke-width="0.6" />
<line x1="41.83" y1="459.65" x2="43.08" y2="459.65" stroke="#000" stroke-width="0.6" />
<line x1="41.57" y1="459.16" x2="41.57" y2="460.65" stroke="#000" stroke-width="0.6" />
<line x1="41.57" y1="459.16" x2="41.83" y2="459.16" stroke="#000" stroke-width="0.6" />
<line x1="41.57" y1="460.65" x2="43.60" y2="460.65" stroke="#000" stroke-width="0.6" />
<line x1="41.15" y1="459.90" x2="41.15" y2="461.31" stroke="#000" stroke-width="0.6" />
<line x1="41.15" y1="459.90" x2="41.57" y2="459.90" stroke="#000" stroke-width="0.6" />
<line x1="41.15" y1="461.31" x2="43.60" y2="461.31" stroke="#000" stroke-width="0.6" />
<line x1="42.54" y1="462.64" x2="42.54" y2="463.30" stroke="#000" stroke-width="0.6" />
<line x1="42.54" y1="462.64" x2="43.60" y2="462.64" stroke="#000" stroke-width="0.6" />
<line x1="42.54" y1="463.30" x2="43.60" y2="463.30" stroke="#000" stroke-width="0.6" />
<line x1="41.67" y1="461.97" x2="41.67" y2="462.97" stroke="#000" stroke-width="0.6" />
<line x1="41.67" y1="461.97" x2="43.60" y2="461.97" stroke="#000" stroke-width="0.6" />
<line x1="41.67" y1="462.97" x2="42.54" y2="462.97" stroke="#000" stroke-width="0.6" />
<line x1="40.35" y1="460.61" x2="40.35" y2="462.47" stroke="#000" stroke-width="0.6" />
<line x1="40.35" y1="460.61" x2="41.15" y2="460.61" stroke="#000" stroke-width="0.6" />
<line x1="40.35" y1="462.47" x2="41.67" y2="462.47" stroke="#000" stroke-width="0.6" />
<line x1="39.57" y1="457.66" x2="39.57" y2="461.54" stroke="#000" stroke-width="0.6" />
<line x1="39.57" y1="457.66" x2="42.70" y2="457.66" stroke="#000" stroke-width="0.6" />
<line x1="39.57" y1="461.54" x2="40.35" y2="461.54" stroke="#000" stroke-width="0.6" />
<line x1="38.49" y1="453.77" x2="38.49" y2="459.60" stroke="#000" stroke-width="0.6" />
<line x1="38.49" y1="453.77" x2="39.16" y2="453.77" stroke="#000" stroke-width="0.6" />
<line x1="38.49" y1="459.60" x2="39.57" y2="459.60" stroke="#000" stroke-width="0.6" />
<line x1="37.93" y1="456.69" x2="37.93" y2="463.96" stroke="#000" stroke-width="0.6" />
<line x1="37.93" y1="456.69" x2="38.49" y2="456.69" stroke="#000" stroke-width="0.6" />
<line x1="37.93" y1="463.96" x2="43.60" y2="463.96" stroke="#000" stroke-width="0.6" />
<line x1="42.39" y1="465.95" x2="42.39" y2="466.61" stroke="#000" stroke-width="0.6" />
<line x1="42.39" y1="465.95" x2="43.60" y2="465.95" stroke="#000" stroke-width="0.6" />
<line x1="42.39" y1="466.61" x2="43.60" y2="466.61" stroke="#000" stroke-width="0.6" />
<line x1="41.62" y1="465.29" x2="41.62" y2="466.28" stroke="#000" stroke-width="0.6" />
<line x1="41.62" y1="465.29" x2="43.60" y2="465.29" stroke="#000" stroke-width="0.6" />
<line x1="41.62" y1="466.28" x2="42.39" y2="466.28" stroke="#000" stroke-width="0.6" />
<line x1="42.95" y1="467.27" x2="42.95" y2="467.94" stroke="#000" stroke-width="0.6" />
<line x1="42.95" y1="467.27" x2="43.60" y2="467.27" stroke="#000" stroke-width="0.6" />
<line x1="42.95" y1="467.94" x2="43.60" y2="467.94" stroke="#000" stroke-width="0.6" />
<line x1="41.11" y1="465.78" x2="41.11" y2="467.61" stroke="#000" stroke-width="0.6" />
<line x1="41.11" y1="465.78" x2="41.62" y2="465.78" stroke="#000" stroke-width="0.6" />
<line x1="41.11" y1="467.61" x2="42.95" y2="467.61" stroke="#000" stroke-width="0.6" />
<line x1="43.21" y1="468.60" x2="43.21" y2="469.26" stroke="#000" stroke-width="0.6" />
<line x1="43.21" y1="468.60" x2="43.60" y2="468.60" stroke="#000" stroke-width="0.6" />
<line x1="43.21" y1="469.26" x2="43.60" y2="469.26" stroke="#000" stroke-width="0.6" />
<line x1="40.77" y1="466.69" x2="40.77" y2="468.93" stroke="#000" stroke-width="0.6" />
<line x1="40.77" y1="466.69" x2="41.11" y2="466.69" stroke="#000" stroke-width="0.6" />
<line x1="40.77" y1="468.93" x2="43.21" y2="468.93" stroke="#000" stroke-width="0.6" />
<line x1="43.17" y1="472.58" x2="43.17" y2="473.24" stroke="#000" stroke-width="0.6" />
<line x1="43.17" y1="472.58" x2="43.60" y2="472.58" stroke="#000" stroke-width="0.6" />
<line x1="43.17" y1="473.24" x2="43.60" y2="473.24" stroke="#000" stroke-width="0.6" />
<line x1="42.43" y1="472.91" x2="42.43" y2="473.90" stroke="#000" stroke-width="0.6" />
<line x1="42.43" y1="472.91" x2="43.17" y2="472.91" stroke="#000" stroke-width="0.6" />
<line x1="42.43" y1="473.90" x2="43.60" y2="473.90" stroke="#000" stroke-width="0.6" />
<line x1="41.27" y1="473.40" x2="41.27" y2="474.56" stroke="#000" stroke-width="0.6" />
<line x1="41.27" y1="473.40" x2="42.43" y2="473.40" stroke="#000" stroke-width="0.6" />
<line x1="41.27" y1="474.56" x2="43.60" y2="474.56" stroke="#000" stroke-width="0.6" />
<line x1="40.78" y1="471.91" x2="40.78" y2="473.98" stroke="#000" stroke-width="0.6" />
<line x1="40.78" y1="471.91" x2="43.60" y2="471.91" stroke="#000" stroke-width="0.6" />
<line x1="40.78" y1="473.98" x2="41.27" y2="473.98" stroke="#000" stroke-width="0.6" />
<line x1="39.73" y1="471.25" x2="39.73" y2="472.95" stroke="#000" stroke-width="0.6" />
<line x1="39.73" y1="471.25" x2="43.60" y2="471.25" stroke="#000" stroke-width="0.6" />
<line x1="39.73" y1="472.95" x2="40.78" y2="472.95" stroke="#000" stroke-width="0.6" />
<line x1="42.45" y1="475.23" x2="42.45" y2="475.89" stroke="#000" stroke-width="0.6" />
<line x1="42.45" y1="475.23" x2="43.60" y2="475.23" stroke="#000" stroke-width="0.6" />
<line x1="42.45" y1="475.89" x2="43.60" y2="475.89" stroke="#000" stroke-width="0.6" />
<line x1="39.23" y1="472.10" x2="39.23" y2="475.56" stroke="#000" stroke-width="0.6" />
<line x1="39.23" y1="472.10" x2="39.73" y2="472.10" stroke="#000" stroke-width="0.6" />
<line x1="39.23" y1="475.56" x2="42.45" y2="475.56" stroke="#000" stroke-width="0.6" />
<line x1="38.47" y1="473.83" x2="38.47" y2="476.55" stroke="#000" stroke-width="0.6" />
<line x1="38.47" y1="473.83" x2="39.23" y2="473.83" stroke="#000" stroke-width="0.6" />
<line x1="38.47" y1="476.55" x2="43.60" y2="476.55" stroke="#000" stroke-width="0.6" />
<line x1="37.99" y1="470.59" x2="37.99" y2="475.19" stroke="#000" stroke-width="0.6" />
<line x1="37.99" y1="470.59" x2="43.60" y2="470.59" stroke="#000" stroke-width="0.6" />
<line x1="37.99" y1="475.19" x2="38.47" y2="475.19" stroke="#000" stroke-width="0.6" />
<line x1="43.19" y1="477.88" x2="43.19" y2="478.54" stroke="#000" stroke-width="0.6" />
<line x1="43.19" y1="477.88" x2="43.60" y2="477.88" stroke="#000" stroke-width="0.6" />
<line x1="43.19" y1="478.54" x2="43.60" y2="478.54" stroke="#000" stroke-width="0.6" />
<line x1="42.73" y1="479.20" x2="42.73" y2="479.86" stroke="#000" stroke-width="0.6" />
<line x1="42.73" y1="479.20" x2="43.60" y2="479.20" stroke="#000" stroke-width="0.6" />
<line x1="42.73" y1="479.86" x2="43.60" y2="479.86" stroke="#000" stroke-width="0.6" />
<line x1="42.16" y1="479.53" x2="42.16" y2="480.53" stroke="#000" stroke-width="0.6" />
<line x1="42.16" y1="479.53" x2="42.73" y2="479.53" stroke="#000" stroke-width="0.6" />
<line x1="42.16" y1="480.53" x2="43.60" y2="480.53" stroke="#000" stroke-width="0.6" />
<line x1="41.81" y1="478.21" x2="41.81" y2="480.03" stroke="#000" stroke-width="0.6" />
<line x1="41.81" y1="478.21" x2="43.19" y2="478.21" stroke="#000" stroke-width="0.6" />
<line x1="41.81" y1="480.03" x2="42.16" y2="480.03" stroke="#000" stroke-width="0.6" />
<line x1="41.29" y1="479.12" x2="41.29" y2="481.19" stroke="#000" stroke-width="0.6" />
<line x1="41.29" y1="479.12" x2="41.81" y2="479.12" stroke="#000" stroke-width="0.6" />
<line x1="41.29" y1="481.19" x2="43.60" y2="481.19" stroke="#000" stroke-width="0.6" />
<line x1="40.81" y1="480.15" x2="40.81" y2="481.85" stroke="#000" stroke-width="0.6" />
<line x1="40.81" y1="480.15" x2="41.29" y2="480.15" stroke="#000" stroke-width="0.6" />
<line x1="40.81" y1="481.85" x2="43.60" y2="481.85" stroke="#000" stroke-width="0.6" />
<line x1="43.33" y1="483.84" x2="43.33" y2="484.50" stroke="#000" stroke-width="0.6" />
<line x1="43.33" y1="483.84" x2="43.60" y2="483.84" stroke="#000" stroke-width="0.6" />
<line x1="43.33" y1="484.50" x2="43.60" y2="484.50" stroke="#000" stroke-width="0.6" />
<line x1="42.82" y1="484.17" x2="42.82" y2="485.17" stroke="#000" stroke-width="0.6" />
<line x1="42.82" y1="484.17" x2="43.33" y2="484.17" stroke="#000" stroke-width="0.6" />
<line x1="42.82" y1="485.17" x2="43.60" y2="485.17" stroke="#000" stroke-width="0.6" />
<line x1="41.80" y1="483.18" x2="41.80" y2="484.67" stroke="#000" stroke-width="0.6" />
<line x1="41.80" y1="483.18" x2="43.60" y2="483.18" stroke="#000" stroke-width="0.6" />
<line x1="41.80" y1="484.67" x2="42.82" y2="484.67" stroke="#000" stroke-width="0.6" />
<line x1="41.33" y1="482.52" x2="41.33" y2="483.92" stroke="#000" stroke-width="0.6" />
<line x1="41.33" y1="482.52" x2="43.60" y2="482.52" stroke="#000" stroke-width="0.6" />
<line x1="41.33" y1="483.92" x2="41.80" y2="483.92" stroke="#000" stroke-width="0.6" />
<line x1="42.72" y1="487.15" x2="42.72" y2="487.82" stroke="#000" stroke-width="0.6" />
<line x1="42.72" y1="487.15" x2="43.60" y2="487.15" stroke="#000" stroke-width="0.6" />
<line x1="42.72" y1="487.82" x2="43.60" y2="487.82" stroke="#000" stroke-width="0.6" />
<line x1="41.82" y1="486.49" x2="41.82" y2="487.49" stroke="#000" stroke-width="0.6" />
<line x1="41.82" y1="486.49" x2="43.60" y2="486.49" stroke="#000" stroke-width="0.6" />
<line x1="41.82" y1="487.49" x2="42.72" y2="487.49" stroke="#000" stroke-width="0.6" />
<line x1="41.39" y1="485.83" x2="41.39" y2="486.99" stroke="#000" stroke-width="0.6" />
<line x1="41.39" y1="485.83" x2="43.60" y2="485.83" stroke="#000" stroke-width="0.6" />
<line x1="41.39" y1="486.99" x2="41.82" y2="486.99" stroke="#000" stroke-width="0.6" />
<line x1="40.93" y1="483.22" x2="40.93" y2="486.41" stroke="#000" stroke-width="0.6" />
<line x1="40.93" y1="483.22" x2="41.33" y2="483.22" stroke="#000" stroke-width="0.6" />
<line x1="40.93" y1="486.41" x2="41.39" y2="486.41" stroke="#000" stroke-width="0.6" />
<line x1="40.13" y1="481.00" x2="40.13" y2="484.81" stroke="#000" stroke-width="0.6" />
<line x1="40.13" y1="481.00" x2="40.81" y2="481.00" stroke="#000" stroke-width="0.6" />
<line x1="40.13" y1="484.81" x2="40.93" y2="484.81" stroke="#000" stroke-width="0.6" />
<line x1="39.74" y1="477.21" x2="39.74" y2="482.91" stroke="#000" stroke-width="0.6" />
<line x1="39.74" y1="477.21" x2="43.60" y2="477.21" stroke="#000" stroke-width="0.6" />
<line x1="39.74" y1="482.91" x2="40.13" y2="482.91" stroke="#000" stroke-width="0.6" />
<line x1="38.76" y1="480.06" x2="38.76" y2="488.48" stroke="#000" stroke-width="0.6" />
<line x1="38.76" y1="480.06" x2="39.74" y2="480.06" stroke="#000" stroke-width="0.6" />
<line x1="38.76" y1="488.48" x2="43.60" y2="488.48" stroke="#000" stroke-width="0.6" />
<line x1="38.42" y1="484.27" x2="38.42" y2="489.14" stroke="#000" stroke-width="0.6" />
<line x1="38.42" y1="484.27" x2="38.76" y2="484.27" stroke="#000" stroke-width="0.6" />
<line x1="38.42" y1="489.14" x2="43.60" y2="489.14" stroke="#000" stroke-width="0.6" />
<line x1="37.80" y1="486.71" x2="37.80" y2="489.81" stroke="#000" stroke-width="0.6" />
<line x1="37.80" y1="486.71" x2="38.42" y2="486.71" stroke="#000" stroke-width="0.6" />
<line x1="37.80" y1="489.81" x2="43.60" y2="489.81" stroke="#000" stroke-width="0.6" />
<line x1="37.54" y1="488.26" x2="37.54" y2="490.47" stroke="#000" stroke-width="0.6" />
<line x1="37.54" y1="488.26" x2="37.80" y2="488.26" stroke="#000" stroke-width="0.6" />
<line x1="37.54" y1="490.47" x2="43.60" y2="490.47" stroke="#000" stroke-width="0.6" />
<line x1="36.39" y1="472.89" x2="36.39" y2="489.36" stroke="#000" stroke-width="0.6" />
<line x1="36.39" y1="472.89" x2="37.99" y2="472.89" stroke="#000" stroke-width="0.6" />
<line x1="36.39" y1="489.36" x2="37.54" y2="489.36" stroke="#000" stroke-width="0.6" />
<line x1="35.97" y1="469.92" x2="35.97" y2="481.13" stroke="#000" stroke-width="0.6" />
<line x1="35.97" y1="469.92" x2="43.60" y2="469.92" stroke="#000" stroke-width="0.6" />
<line x1="35.97" y1="481.13" x2="36.39" y2="481.13" stroke="#000" stroke-width="0.6" />
<line x1="35.30" y1="475.52" x2="35.30" y2="491.13" stroke="#000" stroke-width="0.6" />
<line x1="35.30" y1="475.52" x2="35.97" y2="475.52" stroke="#000" stroke-width="0.6" />
<line x1="35.30" y1="491.13" x2="43.60" y2="491.13" stroke="#000" stroke-width="0.6" />
<line x1="34.82" y1="483.33" x2="34.82" y2="491.79" stroke="#000" stroke-width="0.6" />
<line x1="34.82" y1="483.33" x2="35.30" y2="483.33" stroke="#000" stroke-width="0.6" />
<line x1="34.82" y1="491.79" x2="43.60" y2="491.79" stroke="#000" stroke-width="0.6" />
<line x1="34.26" y1="487.56" x2="34.26" y2="492.46" stroke="#000" stroke-width="0.6" />
<line x1="34.26" y1="487.56" x2="34.82" y2="487.56" stroke="#000" stroke-width="0.6" />
<line x1="34.26" y1="492.46" x2="43.60" y2="492.46" stroke="#000" stroke-width="0.6" />
<line x1="33.49" y1="490.01" x2="33.49" y2="493.12" stroke="#000" stroke-width="0.6" />
<line x1="33.49" y1="490.01" x2="34.26" y2="490.01" stroke="#000" stroke-width="0.6" />
<line x1="33.49" y1="493.12" x2="43.60" y2="493.12" stroke="#000" stroke-width="0.6" />
<line x1="32.85" y1="467.81" x2="32.85" y2="491.56" stroke="#000" stroke-width="0.6" />
<line x1="32.85" y1="467.81" x2="40.77" y2="467.81" stroke="#000" stroke-width="0.6" />
<line x1="32.85" y1="491.56" x2="33.49" y2="491.56" stroke="#000" stroke-width="0.6" />
<line x1="32.32" y1="464.62" x2="32.32" y2="479.69" stroke="#888" stroke-width="0.5" />
<line x1="32.32" y1="464.62" x2="43.60" y2="464.62" stroke="#888" stroke-width="0.5" />
<line x1="32.32" y1="479.69" x2="32.85" y2="479.69" stroke="#888" stroke-width="0.5" />
<line x1="29.30" y1="460.32" x2="29.30" y2="472.16" stroke="#888" stroke-width="0.5" />
<line x1="29.30" y1="460.32" x2="37.93" y2="460.32" stroke="#888" stroke-width="0.5" />
<line x1="29.30" y1="472.16" x2="32.32" y2="472.16" stroke="#888" stroke-width="0.5" />
<line x1="43.08" y1="495.11" x2="43.08" y2="495.78" stroke="#000" stroke-width="0.6" />
<line x1="43.08" y1="495.11" x2="43.60" y2="495.11" stroke="#000" stroke-width="0.6" />
<line x1="43.08" y1="495.78" x2="43.60" y2="495.78" stroke="#000" stroke-width="0.6" />
<line x1="42.69" y1="497.11" x2="42.69" y2="497.77" stroke="#000" stroke-width="0.6" />
<line x1="42.69" y1="497.11" x2="43.60" y2="497.11" stroke="#000" stroke-width="0.6" />
<line x1="42.69" y1="497.77" x2="43.60" y2="497.77" stroke="#000" stroke-width="0.6" />
<line x1="42.03" y1="497.44" x2="42.03" y2="498.44" stroke="#000" stroke-width="0.6" />
<line x1="42.03" y1="497.44" x2="42.69" y2="497.44" stroke="#000" stroke-width="0.6" />
<line x1="42.03" y1="498.44" x2="43.60" y2="498.44" stroke="#000" stroke-width="0.6" />
<line x1="40.81" y1="497.94" x2="40.81" y2="499.10" stroke="#000" stroke-width="0.6" />
<line x1="40.81" y1="497.94" x2="42.03" y2="497.94" stroke="#000" stroke-width="0.6" />
<line x1="40.81" y1="499.10" x2="43.60" y2="499.10" stroke="#000" stroke-width="0.6" />
<line x1="40.13" y1="496.44" x2="40.13" y2="498.52" stroke="#000" stroke-width="0.6" />
<line x1="40.13" y1="496.44" x2="43.60" y2="496.44" stroke="#000" stroke-width="0.6" />
<line x1="40.13" y1="498.52" x2="40.81" y2="498.52" stroke="#000" stroke-width="0.6" />
<line x1="38.99" y1="497.48" x2="38.99" y2="499.77" stroke="#000" stroke-width="0.6" />
<line x1="38.99" y1="497.48" x2="40.13" y2="497.48" stroke="#000" stroke-width="0.6" />
<line x1="38.99" y1="499.77" x2="43.60" y2="499.77" stroke="#000" stroke-width="0.6" />
<line x1="37.20" y1="495.45" x2="37.20" y2="498.63" stroke="#000" stroke-width="0.6" />
<line x1="37.20" y1="495.45" x2="43.08" y2="495.45" stroke="#000" stroke-width="0.6" />
<line x1="37.20" y1="498.63" x2="38.99" y2="498.63" stroke="#000" stroke-width="0.6" />
<line x1="41.99" y1="501.77" x2="41.99" y2="502.43" stroke="#000" stroke-width="0.6" />
<line x1="41.99" y1="501.77" x2="43.60" y2="501.77" stroke="#000" stroke-width="0.6" />
<line x1="41.99" y1="502.43" x2="43.60" y2="502.43" stroke="#000" stroke-width="0.6" />
<line x1="40.85" y1="502.10" x2="40.85" y2="503.10" stroke="#000" stroke-width="0.6" />
<line x1="40.85" y1="502.10" x2="41.99" y2="502.10" stroke="#000" stroke-width="0.6" />
<line x1="40.85" y1="503.10" x2="43.60" y2="503.10" stroke="#000" stroke-width="0.6" />
<line x1="39.16" y1="501.10" x2="39.16" y2="502.60" stroke="#000" stroke-width="0.6" />
<line x1="39.16" y1="501.10" x2="43.60" y2="501.10" stroke="#000" stroke-width="0.6" />
<line x1="39.16" y1="502.60" x2="40.85" y2="502.60" stroke="#000" stroke-width="0.6" />
<line x1="37.51" y1="500.43" x2="37.51" y2="501.85" stroke="#000" stroke-width="0.6" />
<line x1="37.51" y1="500.43" x2="43.60" y2="500.43" stroke="#000" stroke-width="0.6" />
<line x1="37.51" y1="501.85" x2="39.16" y2="501.85" stroke="#000" stroke-width="0.6" />
<line x1="41.76" y1="505.76" x2="41.76" y2="506.42" stroke="#000" stroke-width="0.6" />
<line x1="41.76" y1="505.76" x2="43.60" y2="505.76" stroke="#000" stroke-width="0.6" />
<line x1="41.76" y1="506.42" x2="43.60" y2="506.42" stroke="#000" stroke-width="0.6" />
<line x1="41.10" y1="506.09" x2="41.10" y2="507.09" stroke="#000" stroke-width="0.6" />
<line x1="41.10" y1="506.09" x2="41.76" y2="506.09" stroke="#000" stroke-width="0.6" />
<line x1="41.10" y1="507.09" x2="43.60" y2="507.09" stroke="#000" stroke-width="0.6" />
<line x1="40.64" y1="505.09" x2="40.64" y2="506.59" stroke="#000" stroke-width="0.6" />
<line x1="40.64" y1="505.09" x2="43.60" y2="505.09" stroke="#000" stroke-width="0.6" />
<line x1="40.64" y1="506.59" x2="41.10" y2="506.59" stroke="#000" stroke-width="0.6" />
<line x1="39.44" y1="504.43" x2="39.44" y2="505.84" stroke="#000" stroke-width="0.6" />
<line x1="39.44" y1="504.43" x2="43.60" y2="504.43" stroke="#000" stroke-width="0.6" />
<line x1="39.44" y1="505.84" x2="40.64" y2="505.84" stroke="#000" stroke-width="0.6" />
<line x1="37.76" y1="503.76" x2="37.76" y2="505.13" stroke="#000" stroke-width="0.6" />
<line x1="37.76" y1="503.76" x2="43.60" y2="503.76" stroke="#000" stroke-width="0.6" />
<line x1="37.76" y1="505.13" x2="39.44" y2="505.13" stroke="#000" stroke-width="0.6" />
<line x1="36.01" y1="501.14" x2="36.01" y2="504.45" stroke="#000" stroke-width="0.6" />
<line x1="36.01" y1="501.14" x2="37.51" y2="501.14" stroke="#000" stroke-width="0.6" />
<line x1="36.01" y1="504.45" x2="37.76" y2="504.45" stroke="#000" stroke-width="0.6" />
<line x1="35.56" y1="502.79" x2="35.56" y2="507.75" stroke="#000" stroke-width="0.6" />
<line x1="35.56" y1="502.79" x2="36.01" y2="502.79" stroke="#000" stroke-width="0.6" />
<line x1="35.56" y1="507.75" x2="43.60" y2="507.75" stroke="#000" stroke-width="0.6" />
<line x1="34.12" y1="497.04" x2="34.12" y2="505.27" stroke="#000" stroke-width="0.6" />
<line x1="34.12" y1="497.04" x2="37.20" y2="497.04" stroke="#000" stroke-width="0.6" />
<line x1="34.12" y1="505.27" x2="35.56" y2="505.27" stroke="#000" stroke-width="0.6" />
<line x1="33.20" y1="494.45" x2="33.20" y2="501.15" stroke="#000" stroke-width="0.6" />
<line x1="33.20" y1="494.45" x2="43.60" y2="494.45" stroke="#000" stroke-width="0.6" />
<line x1="33.20" y1="501.15" x2="34.12" y2="501.15" stroke="#000" stroke-width="0.6" />
<line x1="31.74" y1="493.78" x2="31.74" y2="497.80" stroke="#888" stroke-width="0.5" />
<line x1="31.74" y1="493.78" x2="43.60" y2="493.78" stroke="#888" stroke-width="0.5" />
<line x1="31.74" y1="497.80" x2="33.20" y2="497.80" stroke="#888" stroke-width="0.5" />
<line x1="31.00" y1="495.79" x2="31.00" y2="508.42" stroke="#888" stroke-width="0.5" />
<line x1="31.00" y1="495.79" x2="31.74" y2="495.79" stroke="#888" stroke-width="0.5" />
<line x1="31.00" y1="508.42" x2="43.60" y2="508.42" stroke="#888" stroke-width="0.5" />
<line x1="17.50" y1="408.66" x2="17.50" y2="448.30" stroke="#888" stroke-width="0.5" />
<line x1="17.50" y1="408.66" x2="18.80" y2="408.66" stroke="#888" stroke-width="0.5" />
<line x1="17.50" y1="448.30" x2="36.00" y2="448.30" stroke="#888" stroke-width="0.5" />
<line x1="29.30" y1="466.24" x2="29.30" y2="502.10" stroke="#888" stroke-width="0.5" />
<line x1="29.30" y1="466.24" x2="29.30" y2="466.24" stroke="#888" stroke-width="0.5" />
<line x1="29.30" y1="502.10" x2="31.00" y2="502.10" stroke="#888" stroke-width="0.5" />
<line x1="14.70" y1="428.48" x2="14.70" y2="484.17" stroke="#888" stroke-width="0.5" />
<line x1="14.70" y1="428.48" x2="17.50" y2="428.48" stroke="#888" stroke-width="0.5" />
<line x1="14.70" y1="484.17" x2="29.30" y2="484.17" stroke="#888" stroke-width="0.5" />
<line x1="151.50" y1="406.30" x2="151.50" y2="447.00" stroke="#000" stroke-width="1.3" />
<line x1="151.50" y1="449.20" x2="151.50" y2="491.40" stroke="#000" stroke-width="1.3" />
<line x1="151.50" y1="493.60" x2="151.50" y2="507.70" stroke="#000" stroke-width="1.3" />
<line x1="147.50" y1="448.00" x2="153.50" y2="448.00" stroke="#000" stroke-width="1.0" />
<text x="155.00" y="426.20" font-size="6.7" text-anchor="start" fill="#222" font-weight="normal" font-style="normal" textLength="30.90" lengthAdjust="spacingAndGlyphs" stroke="#222" stroke-width="0.25" >Cluster G2</text>
<text x="155.00" y="434.60" font-size="6.7" text-anchor="start" fill="#222" font-weight="normal" font-style="normal" textLength="18.50" lengthAdjust="spacingAndGlyphs" stroke="#222" stroke-width="0.25" >40.4%</text>
<text x="155.00" y="446.70" font-size="6.7" text-anchor="start" fill="#222" font-weight="normal" font-style="normal" textLength="30.90" lengthAdjust="spacingAndGlyphs" stroke="#222" stroke-width="0.25" >Cluster G4</text>
<text x="155.00" y="455.30" font-size="6.7" text-anchor="start" fill="#222" font-weight="normal" font-style="normal" textLength="14.00" lengthAdjust="spacingAndGlyphs" stroke="#222" stroke-width="0.25" >0.4%</text>
<text x="155.00" y="469.50" font-size="6.7" text-anchor="start" fill="#222" font-weight="normal" font-style="normal" textLength="30.90" lengthAdjust="spacingAndGlyphs" stroke="#222" stroke-width="0.25" >Cluster G3</text>
<text x="155.00" y="478.60" font-size="6.7" text-anchor="start" fill="#222" font-weight="normal" font-style="normal" textLength="18.50" lengthAdjust="spacingAndGlyphs" stroke="#222" stroke-width="0.25" >43.8%</text>
<text x="155.00" y="499.20" font-size="6.7" text-anchor="start" fill="#222" font-weight="normal" font-style="normal" textLength="30.90" lengthAdjust="spacingAndGlyphs" stroke="#222" stroke-width="0.25" >Cluster G1</text>
<text x="155.00" y="507.40" font-size="6.7" text-anchor="start" fill="#222" font-weight="normal" font-style="normal" textLength="18.50" lengthAdjust="spacingAndGlyphs" stroke="#222" stroke-width="0.25" >15.4%</text>
<line x1="47.50" y1="512.00" x2="77.50" y2="512.00" stroke="#000" stroke-width="1.5" />
<line x1="82.50" y1="512.00" x2="112.50" y2="512.00" stroke="#000" stroke-width="1.5" />
<line x1="118.00" y1="512.00" x2="147.50" y2="512.00" stroke="#000" stroke-width="1.5" />
<text x="62.50" y="521.60" font-size="6.6" text-anchor="middle" fill="#222" font-weight="normal" font-style="italic" stroke="#222" stroke-width="0.25" >Control</text>
<text x="97.50" y="522.20" font-size="6.6" text-anchor="middle" fill="#222" font-weight="normal" font-style="italic" stroke="#222" stroke-width="0.25" >Chd7<tspan font-size="3.8" dy="-2.6">f/f</tspan><tspan dy="2.6">,</tspan></text>
<text x="97.50" y="531.00" font-size="6.6" text-anchor="middle" fill="#222" font-weight="normal" font-style="italic" stroke="#222" stroke-width="0.25" >Mx1-Cre,</text>
<text x="97.50" y="539.30" font-size="6.6" text-anchor="middle" fill="#222" font-weight="normal" font-style="italic" stroke="#222" stroke-width="0.25" >Cbfb<tspan font-size="3.8" dy="-2.6">+/56M</tspan></text>
<text x="132.50" y="521.80" font-size="6.6" text-anchor="middle" fill="#222" font-weight="normal" font-style="italic" stroke="#222" stroke-width="0.25" >Mx1-Cre,</text>
<text x="132.50" y="528.60" font-size="6.6" text-anchor="middle" fill="#222" font-weight="normal" font-style="italic" stroke="#222" stroke-width="0.25" >Cbfb<tspan font-size="3.8" dy="-2.6">+/56M</tspan></text>
<text x="220.50" y="198.00" font-size="8.4" text-anchor="start" fill="#222" font-weight="normal" font-style="normal" textLength="120.80" lengthAdjust="spacingAndGlyphs" stroke="#222" stroke-width="0.25" >DEGs of <tspan font-style="italic">Mx1-Cre, Cbfb</tspan><tspan font-style="italic" font-size="5.8" dy="-3.2">+/56M</tspan><tspan dy="3.2"> vs</tspan></text>
<text x="220.50" y="206.30" font-size="8.4" text-anchor="start" fill="#222" font-weight="normal" font-style="normal" textLength="105.00" lengthAdjust="spacingAndGlyphs" stroke="#222" stroke-width="0.25" ><tspan font-style="italic">Chd7</tspan><tspan font-style="italic" font-size="5.8" dy="-3.2">f/f</tspan><tspan dy="3.2" font-style="italic">, Mx1-Cre, Cbfb</tspan><tspan font-style="italic" font-size="5.8" dy="-3.2">+/56M</tspan></text>
<clipPath id="ce"><circle cx="242.6" cy="232.2" r="21.0"/></clipPath>
<circle cx="276.9" cy="275.1" r="49.4" fill="#7db563" stroke="#6fa257" stroke-width="0.6"/>
<circle cx="242.6" cy="232.2" r="21.0" fill="#c5516a" stroke="#b34860" stroke-width="0.6"/>
<circle cx="276.9" cy="275.1" r="49.4" fill="#6c8a3c" clip-path="url(#ce)"/>
<text x="239.10" y="230.90" font-size="8.1" text-anchor="middle" fill="#3a0a18" font-weight="normal" font-style="normal" textLength="13.20" lengthAdjust="spacingAndGlyphs" stroke="#3a0a18" stroke-width="0.25" >966</text>
<text x="248.30" y="245.90" font-size="8.1" text-anchor="middle" fill="#1a2a08" font-weight="normal" font-style="normal" textLength="14.00" lengthAdjust="spacingAndGlyphs" stroke="#1a2a08" stroke-width="0.25" >436</text>
<text x="276.90" y="279.30" font-size="8.1" text-anchor="middle" fill="#1a3010" font-weight="normal" font-style="normal" textLength="17.70" lengthAdjust="spacingAndGlyphs" stroke="#1a3010" stroke-width="0.25" >7497</text>
<text x="222.00" y="337.50" font-size="8.2" text-anchor="start" fill="#222" font-weight="normal" font-style="normal" textLength="107.50" lengthAdjust="spacingAndGlyphs" stroke="#222" stroke-width="0.28" >RUNX1 known target genes</text>
<text x="221.90" y="392.30" font-size="8.4" text-anchor="start" fill="#222" font-weight="normal" font-style="normal" textLength="60.50" lengthAdjust="spacingAndGlyphs" stroke="#222" stroke-width="0.28" >Common DEGs</text>
<clipPath id="ch"><circle cx="251.8" cy="418.1" r="23.0"/></clipPath>
<circle cx="275.3" cy="468.6" r="51.6" fill="#7db563" stroke="#6fa257" stroke-width="0.6"/>
<circle cx="251.8" cy="418.1" r="23.0" fill="#c5516a" stroke="#b34860" stroke-width="0.6"/>
<circle cx="275.3" cy="468.6" r="51.6" fill="#6c8a3c" clip-path="url(#ch)"/>
<text x="251.90" y="415.50" font-size="8.1" text-anchor="middle" fill="#3a0a18" font-weight="normal" font-style="normal" textLength="13.80" lengthAdjust="spacingAndGlyphs" stroke="#3a0a18" stroke-width="0.25" >926</text>
<text x="255.30" y="434.20" font-size="8.1" text-anchor="middle" fill="#1a2a08" font-weight="normal" font-style="normal" textLength="13.60" lengthAdjust="spacingAndGlyphs" stroke="#1a2a08" stroke-width="0.25" >510</text>
<text x="275.20" y="471.80" font-size="8.1" text-anchor="middle" fill="#1a3010" font-weight="normal" font-style="normal" textLength="18.00" lengthAdjust="spacingAndGlyphs" stroke="#1a3010" stroke-width="0.25" >7422</text>
<text x="221.50" y="529.50" font-size="8.2" text-anchor="start" fill="#222" font-weight="normal" font-style="normal" textLength="107.30" lengthAdjust="spacingAndGlyphs" stroke="#222" stroke-width="0.28" >RUNX1 known target genes</text>
<text x="411.80" y="194.00" font-size="7.8" text-anchor="start" fill="#222" font-weight="normal" font-style="normal" textLength="91.60" lengthAdjust="spacingAndGlyphs" stroke="#222" stroke-width="0.25" >TORCHIA_TARGETS_OF_</text>
<text x="411.80" y="203.10" font-size="7.8" text-anchor="start" fill="#222" font-weight="normal" font-style="normal" textLength="92.20" lengthAdjust="spacingAndGlyphs" stroke="#222" stroke-width="0.25" >EWSR1_FLI1_FUSION_UP</text>
<polyline points="403.60,213.80 405.20,216.00 407.40,217.30 409.20,214.20 410.30,213.90 411.30,215.60 412.90,216.70 413.40,216.30 415.50,209.30 417.30,211.30 420.80,214.80 422.50,213.30 427.70,218.60 429.10,219.80 430.20,217.90 441.00,228.70 442.70,224.80 445.00,227.20 446.70,225.50 455.00,233.30 474.60,252.10 476.30,250.60 478.00,246.50 479.50,244.00 480.60,235.20 482.10,235.20 483.30,236.70 485.60,233.30 491.90,239.40 493.30,229.20 494.20,231.30 495.60,227.80 496.50,229.80 497.70,226.90 498.60,227.50 500.00,225.20 500.60,223.50 501.20,220.00 502.00,216.50 502.90,215.20 505.20,214.80" fill="none" stroke="#c8e8b0" stroke-width="2.6" stroke-linejoin="round" opacity="0.7"/>
<polyline points="403.60,213.80 405.20,216.00 407.40,217.30 409.20,214.20 410.30,213.90 411.30,215.60 412.90,216.70 413.40,216.30 415.50,209.30 417.30,211.30 420.80,214.80 422.50,213.30 427.70,218.60 429.10,219.80 430.20,217.90 441.00,228.70 442.70,224.80 445.00,227.20 446.70,225.50 455.00,233.30 474.60,252.10 476.30,250.60 478.00,246.50 479.50,244.00 480.60,235.20 482.10,235.20 483.30,236.70 485.60,233.30 491.90,239.40 493.30,229.20 494.20,231.30 495.60,227.80 496.50,229.80 497.70,226.90 498.60,227.50 500.00,225.20 500.60,223.50 501.20,220.00 502.00,216.50 502.90,215.20 505.20,214.80" fill="none" stroke="#4e8c34" stroke-width="1.3" stroke-linejoin="round"/>
<line x1="403.50" y1="216.40" x2="512.70" y2="216.40" stroke="#000" stroke-width="1.3" />
<line x1="400.20" y1="211.25" x2="403.50" y2="211.25" stroke="#000" stroke-width="1.1" />
<line x1="400.20" y1="216.18" x2="403.50" y2="216.18" stroke="#000" stroke-width="1.1" />
<line x1="400.20" y1="221.11" x2="403.50" y2="221.11" stroke="#000" stroke-width="1.1" />
<line x1="400.20" y1="226.04" x2="403.50" y2="226.04" stroke="#000" stroke-width="1.1" />
<line x1="400.20" y1="230.97" x2="403.50" y2="230.97" stroke="#000" stroke-width="1.1" />
<line x1="400.20" y1="235.90" x2="403.50" y2="235.90" stroke="#000" stroke-width="1.1" />
<line x1="400.20" y1="240.83" x2="403.50" y2="240.83" stroke="#000" stroke-width="1.1" />
<line x1="400.20" y1="245.76" x2="403.50" y2="245.76" stroke="#000" stroke-width="1.1" />
<line x1="400.20" y1="250.69" x2="403.50" y2="250.69" stroke="#000" stroke-width="1.1" />
<text x="397.80" y="218.70" font-size="6.5" text-anchor="end" fill="#222" font-weight="normal" font-style="normal" stroke="#222" stroke-width="0.25" >0</text>
<text x="397.80" y="228.55" font-size="6.5" text-anchor="end" fill="#222" font-weight="normal" font-style="normal" stroke="#222" stroke-width="0.25" >-0.1</text>
<text x="397.80" y="238.40" font-size="6.5" text-anchor="end" fill="#222" font-weight="normal" font-style="normal" stroke="#222" stroke-width="0.25" >-0.2</text>
<text x="397.80" y="248.25" font-size="6.5" text-anchor="end" fill="#222" font-weight="normal" font-style="normal" stroke="#222" stroke-width="0.25" >-0.3</text>
<line x1="407.80" y1="255.40" x2="407.80" y2="269.60" stroke="#bbb" stroke-width="1.6" />
<line x1="414.00" y1="255.40" x2="414.00" y2="269.60" stroke="#666" stroke-width="1.0" />
<line x1="421.90" y1="255.40" x2="421.90" y2="269.60" stroke="#999" stroke-width="0.9" />
<line x1="429.40" y1="255.40" x2="429.40" y2="269.60" stroke="#666" stroke-width="1.0" />
<line x1="441.80" y1="255.40" x2="441.80" y2="269.60" stroke="#999" stroke-width="1.6" />
<line x1="445.90" y1="255.40" x2="445.90" y2="269.60" stroke="#aaa" stroke-width="1.0" />
<line x1="475.20" y1="255.40" x2="475.20" y2="269.60" stroke="#bbb" stroke-width="1.8" />
<line x1="477.50" y1="255.40" x2="477.50" y2="269.60" stroke="#555" stroke-width="1.0" />
<line x1="479.20" y1="255.40" x2="479.20" y2="269.60" stroke="#444" stroke-width="1.0" />
<line x1="485.20" y1="255.40" x2="485.20" y2="269.60" stroke="#bbb" stroke-width="1.8" />
<line x1="492.50" y1="255.40" x2="492.50" y2="269.60" stroke="#999" stroke-width="1.0" />
<line x1="496.50" y1="255.40" x2="496.50" y2="269.60" stroke="#aaa" stroke-width="1.4" />
<line x1="499.40" y1="255.40" x2="499.40" y2="269.60" stroke="#888" stroke-width="1.4" />
<line x1="500.60" y1="255.40" x2="500.60" y2="269.60" stroke="#aaa" stroke-width="1.2" />
<line x1="501.70" y1="255.40" x2="501.70" y2="269.60" stroke="#999" stroke-width="1.2" />
<line x1="505.80" y1="255.40" x2="505.80" y2="269.60" stroke="#ccc" stroke-width="1.2" />
<linearGradient id="gf" x1="0" x2="1" y1="0" y2="0"><stop offset="0" stop-color="#c23a4a"/><stop offset="0.38" stop-color="#cc5865"/><stop offset="0.45" stop-color="#d8a0bc"/><stop offset="0.6" stop-color="#dcc4e0"/><stop offset="0.75" stop-color="#c8c0e4"/><stop offset="0.85" stop-color="#6a60b0"/><stop offset="1" stop-color="#3a2e8a"/></linearGradient>
<rect x="403.50" y="269.60" width="104.50" height="4.10" fill="url(#gf)" />
<rect x="403.5" y="207.5" width="109.20000000000005" height="66.5" fill="none" stroke="#000" stroke-width="1.2"/>
<line x1="403.50" y1="254.80" x2="512.70" y2="254.80" stroke="#000" stroke-width="1.3" />
<text x="478.70" y="215.20" font-size="6.6" text-anchor="start" fill="#222" font-weight="normal" font-style="normal" textLength="28.20" lengthAdjust="spacingAndGlyphs" stroke="#222" stroke-width="0.25" >NES: -2.5</text>
<text x="478.70" y="223.00" font-size="6.6" text-anchor="start" fill="#222" font-weight="normal" font-style="normal" textLength="33.40" lengthAdjust="spacingAndGlyphs" stroke="#222" stroke-width="0.25" >FDR: 0.024</text>
<text x="0" y="0" transform="translate(367.90,230.70) rotate(-90)" font-size="8.6" text-anchor="middle" fill="#222" font-weight="normal" font-style="normal" textLength="39.60" lengthAdjust="spacingAndGlyphs" stroke="#222" stroke-width="0.25" >Enrichment</text>
<text x="0" y="0" transform="translate(377.40,232.00) rotate(-90)" font-size="8.6" text-anchor="middle" fill="#222" font-weight="normal" font-style="normal" textLength="35.50" lengthAdjust="spacingAndGlyphs" stroke="#222" stroke-width="0.25" >score (ES)</text>
<text x="425.20" y="284.00" font-size="6.6" text-anchor="middle" fill="#9a2a48" font-weight="normal" font-style="italic" textLength="28.80" lengthAdjust="spacingAndGlyphs" stroke="#9a2a48" stroke-width="0.25" >Chd7 pos.</text>
<text x="425.20" y="291.40" font-size="6.6" text-anchor="middle" fill="#9a2a48" font-weight="normal" font-style="italic" stroke="#9a2a48" stroke-width="0.25" >correlated</text>
<text x="492.10" y="284.00" font-size="6.6" text-anchor="middle" fill="#3a3a88" font-weight="normal" font-style="italic" textLength="30.90" lengthAdjust="spacingAndGlyphs" stroke="#3a3a88" stroke-width="0.25" >Chd7 neg.</text>
<text x="492.10" y="291.40" font-size="6.6" text-anchor="middle" fill="#3a3a88" font-weight="normal" font-style="italic" stroke="#3a3a88" stroke-width="0.25" >correlated</text>
<text x="442.20" y="378.60" font-size="8.3" text-anchor="start" fill="#222" font-weight="normal" font-style="normal" textLength="42.50" lengthAdjust="spacingAndGlyphs" stroke="#222" stroke-width="0.25" >-log(p value)</text>
<text x="431.60" y="389.70" font-size="6.4" text-anchor="middle" fill="#222" font-weight="normal" font-style="normal" stroke="#222" stroke-width="0.25" >0</text>
<line x1="431.60" y1="392.30" x2="431.60" y2="395.70" stroke="#000" stroke-width="1.0" />
<text x="442.25" y="389.70" font-size="6.4" text-anchor="middle" fill="#222" font-weight="normal" font-style="normal" stroke="#222" stroke-width="0.25" >5</text>
<line x1="442.25" y1="392.30" x2="442.25" y2="395.70" stroke="#000" stroke-width="1.0" />
<text x="452.90" y="389.70" font-size="6.4" text-anchor="middle" fill="#222" font-weight="normal" font-style="normal" stroke="#222" stroke-width="0.25" >10</text>
<line x1="452.90" y1="392.30" x2="452.90" y2="395.70" stroke="#000" stroke-width="1.0" />
<text x="463.55" y="389.70" font-size="6.4" text-anchor="middle" fill="#222" font-weight="normal" font-style="normal" stroke="#222" stroke-width="0.25" >15</text>
<line x1="463.55" y1="392.30" x2="463.55" y2="395.70" stroke="#000" stroke-width="1.0" />
<text x="474.20" y="389.70" font-size="6.4" text-anchor="middle" fill="#222" font-weight="normal" font-style="normal" stroke="#222" stroke-width="0.25" >20</text>
<line x1="474.20" y1="392.30" x2="474.20" y2="395.70" stroke="#000" stroke-width="1.0" />
<text x="484.85" y="389.70" font-size="6.4" text-anchor="middle" fill="#222" font-weight="normal" font-style="normal" stroke="#222" stroke-width="0.25" >25</text>
<line x1="484.85" y1="392.30" x2="484.85" y2="395.70" stroke="#000" stroke-width="1.0" />
<text x="495.50" y="389.70" font-size="6.4" text-anchor="middle" fill="#222" font-weight="normal" font-style="normal" stroke="#222" stroke-width="0.25" >30</text>
<line x1="495.50" y1="392.30" x2="495.50" y2="395.70" stroke="#000" stroke-width="1.0" />
<line x1="434.50" y1="395.70" x2="434.50" y2="544.60" stroke="#ecc090" stroke-width="0.8" />
<rect x="431.60" y="407.00" width="61.34" height="4.80" fill="#1d2b5c" />
<rect x="431.60" y="431.40" width="51.55" height="4.80" fill="#1d2b5c" />
<rect x="431.60" y="456.10" width="49.42" height="4.80" fill="#1d2b5c" />
<rect x="431.60" y="480.40" width="41.32" height="4.80" fill="#1d2b5c" />
<rect x="431.60" y="504.80" width="16.19" height="4.80" fill="#1d2b5c" />
<rect x="431.60" y="529.60" width="15.12" height="4.80" fill="#1d2b5c" />
<rect x="438.10" y="398.40" width="2.20" height="17.30" fill="#eebb88" opacity="0.6"/>
<rect x="431.6" y="395.7" width="64.59999999999997" height="148.90000000000003" fill="none" stroke="#000" stroke-width="1.3"/>
<text x="428.80" y="411.70" font-size="6.6" text-anchor="end" fill="#222" font-weight="normal" font-style="normal" textLength="22.20" lengthAdjust="spacingAndGlyphs" stroke="#222" stroke-width="0.1" >Cancer</text>
<text x="428.80" y="426.00" font-size="6.6" text-anchor="end" fill="#222" font-weight="normal" font-style="normal" stroke="#222" stroke-width="0.1" >Hematological System</text>
<text x="428.80" y="434.30" font-size="6.6" text-anchor="end" fill="#222" font-weight="normal" font-style="normal" stroke="#222" stroke-width="0.1" >Development and</text>
<text x="428.80" y="443.20" font-size="6.6" text-anchor="end" fill="#222" font-weight="normal" font-style="normal" stroke="#222" stroke-width="0.1" >Function</text>
<text x="428.80" y="460.70" font-size="6.6" text-anchor="end" fill="#222" font-weight="normal" font-style="normal" stroke="#222" stroke-width="0.1" >Inflammatory Response</text>
<text x="428.80" y="485.10" font-size="6.6" text-anchor="end" fill="#222" font-weight="normal" font-style="normal" stroke="#222" stroke-width="0.1" >Inflammatory Disease</text>
<text x="428.80" y="509.90" font-size="6.6" text-anchor="end" fill="#222" font-weight="normal" font-style="normal" stroke="#222" stroke-width="0.1" >Hematopoiesis</text>
<text x="428.80" y="534.40" font-size="6.6" text-anchor="end" fill="#222" font-weight="normal" font-style="normal" textLength="66.30" lengthAdjust="spacingAndGlyphs" stroke="#222" stroke-width="0.1" >Hematological Disease</text>
</svg>
</body></html>
